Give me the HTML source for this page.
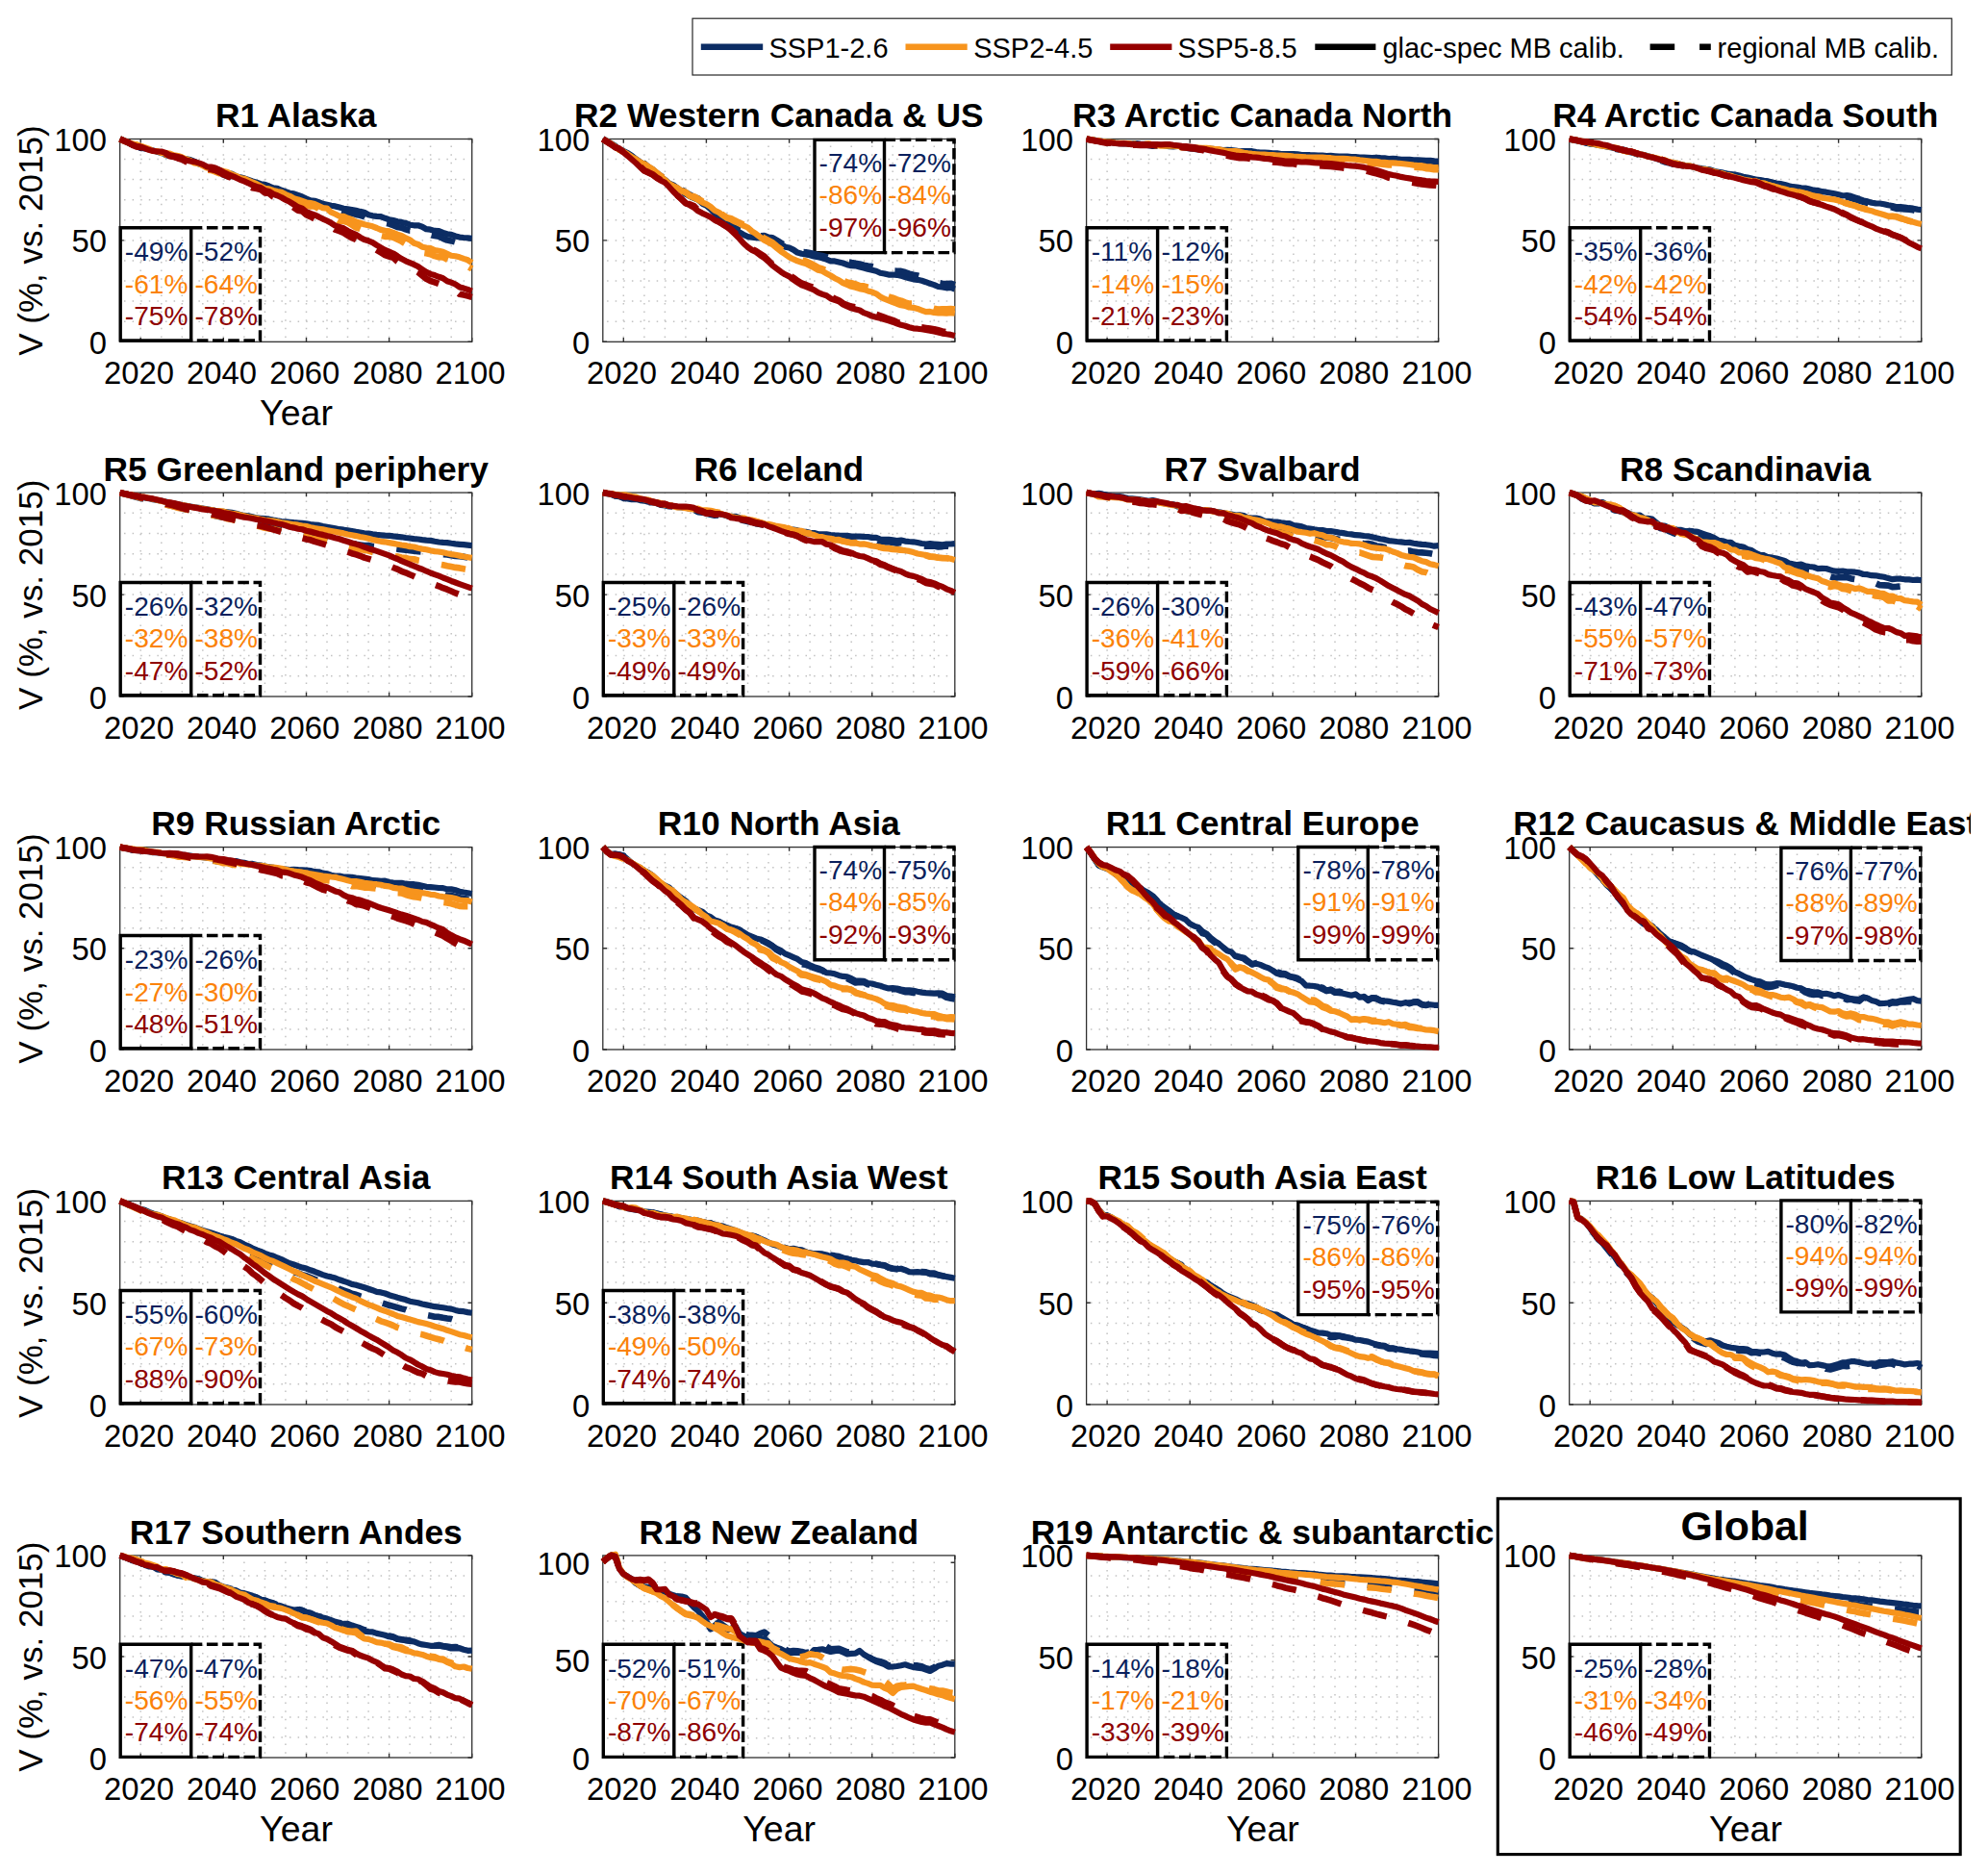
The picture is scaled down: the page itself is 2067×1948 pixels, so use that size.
<!DOCTYPE html>
<html lang="en"><head><meta charset="utf-8"><title>Regional glacier volume projections</title>
<style>html,body{margin:0;padding:0;background:#fff}body{width:2067px;height:1948px;overflow:hidden}svg{display:block}</style>
</head><body>
<svg width="2067" height="1948" viewBox="0 0 2067 1948" font-family='"Liberation Sans", Arial, Helvetica, sans-serif'>
<rect x="0" y="0" width="2067" height="1948" fill="#fff"/>
<defs><clipPath id="tclip"><rect x="0" y="0" width="2049" height="1948"/></clipPath></defs>
<g>
<path d="M146.2 350.9V144.5M167.8 350.9V144.5M189.3 350.9V144.5M210.8 350.9V144.5M232.3 350.9V144.5M253.9 350.9V144.5M275.4 350.9V144.5M296.9 350.9V144.5M318.5 350.9V144.5M340 350.9V144.5M361.5 350.9V144.5M383.1 350.9V144.5M404.6 350.9V144.5M426.1 350.9V144.5M447.6 350.9V144.5M469.2 350.9V144.5M129 334.2H490.7M129 313.1H490.7M129 292H490.7M129 270.9H490.7M129 249.9H490.7M129 228.8H490.7M129 207.7H490.7M129 186.6H490.7M129 165.6H490.7" fill="none" stroke="#9a9a9a" stroke-width="1.5" stroke-dasharray="1.5 7.1" opacity="0.6"/>
<rect x="124.7" y="144.5" width="366" height="210.8" fill="none" stroke="#303030" stroke-width="1.3"/>
<path d="M146.2 355.2v-4.2M146.2 144.5v4.2M232.3 355.2v-4.2M232.3 144.5v4.2M318.5 355.2v-4.2M318.5 144.5v4.2M404.6 355.2v-4.2M404.6 144.5v4.2M490.7 355.2v-4.2M490.7 144.5v4.2M124.7 355.2h4.2M490.7 355.2h-4.2M124.7 249.9h4.2M490.7 249.9h-4.2M124.7 144.5h4.2M490.7 144.5h-4.2" fill="none" stroke="#303030" stroke-width="1.4"/>
<g font-size="32.8" fill="#000">
<text x="144.5" y="398.9" text-anchor="middle">2020</text>
<text x="230.6" y="398.9" text-anchor="middle">2040</text>
<text x="316.8" y="398.9" text-anchor="middle">2060</text>
<text x="402.9" y="398.9" text-anchor="middle">2080</text>
<text x="489" y="398.9" text-anchor="middle">2100</text>
<text x="111.1" y="367.8" text-anchor="end">0</text>
<text x="111.1" y="262.4" text-anchor="end">50</text>
<text x="111.1" y="157" text-anchor="end">100</text>
</g>
<text x="307.7" y="132.3" text-anchor="middle" font-weight="bold" font-size="35.35" clip-path="url(#tclip)">R1 Alaska</text>
<path d="M198.7 236.8H270.5V353.9H198.7" fill="none" stroke="#000" stroke-width="3.4" stroke-dasharray="11.6 4.6"/>
<path d="M198.7 353.9V236.8H125.2V353.9H200.4" fill="none" stroke="#000" stroke-width="3.4" stroke-linejoin="miter"/>
<g font-size="28.1">
<text x="129.8" y="271.4" fill="#0a1f5c">-49%</text>
<text x="202.5" y="271.4" fill="#0a1f5c">-52%</text>
<text x="129.8" y="304.7" fill="#fb8208">-61%</text>
<text x="202.5" y="304.7" fill="#fb8208">-64%</text>
<text x="129.8" y="338" fill="#8e0000">-75%</text>
<text x="202.5" y="338" fill="#8e0000">-78%</text>
</g>
<path d="M124.7 144.5 L129 146.2 L133.3 148.2 L137.6 149.9 L141.9 151.3 L146.2 153.5 L150.5 154.5 L154.8 155.3 L159.1 156.4 L163.5 157.7 L167.8 159 L172.1 160.2 L176.4 160.9 L180.7 162 L185 163.2 L189.3 164.4 L193.6 165.4 L197.9 166.1 L202.2 167.8 L206.5 170.3 L210.8 171.4 L215.1 174 L219.4 174.7 L223.7 175.1 L228 176.8 L232.3 179.6 L236.7 180.8 L241 180.7 L245.3 183.2 L249.6 184.4 L253.9 185.3 L258.2 186.9 L262.5 188.5 L266.8 189.8 L271.1 191.3 L275.4 191.8 L279.7 193.5 L284 195.4 L288.3 195.8 L292.6 197.8 L296.9 199.3 L301.2 200.7 L305.5 201.3 L309.9 202.9 L314.2 204.5 L318.5 206.5 L322.8 208.3 L327.1 208.8 L331.4 210.2 L335.7 211.9 L340 212.7 L344.3 213.8 L348.6 214.4 L352.9 215.6 L357.2 216.8 L361.5 217.4 L365.8 218 L370.1 218.8 L374.4 219.9 L378.7 220.8 L383.1 223.3 L387.4 224.3 L391.7 224.8 L396 225.1 L400.3 226.8 L404.6 228.2 L408.9 229.1 L413.2 230.3 L417.5 230.9 L421.8 231.9 L426.1 233.7 L430.4 234.3 L434.7 234.3 L439 235.7 L443.3 238.2 L447.6 238.7 L451.9 239.9 L456.3 240.1 L460.6 241.9 L464.9 243.3 L469.2 243.8 L473.5 245.5 L477.8 246.6 L482.1 247 L486.4 247.3 L490.7 247.8" fill="none" stroke="#0c2d64" stroke-width="6.2" stroke-linejoin="round"/>
<path d="M124.7 144.5 L129 146.3 L133.3 148.4 L137.6 150.2 L141.9 151.4 L146.2 153.8 L150.5 154.7 L154.8 155.5 L159.1 156.7 L163.5 158 L167.8 159.5 L172.1 160.9 L176.4 161.6 L180.7 162.7 L185 164 L189.3 165.1 L193.6 166.4 L197.9 167.6 L202.2 169 L206.5 171.2 L210.8 172.2 L215.1 175.3 L219.4 175.9 L223.7 176.2 L228 178.3 L232.3 181.5 L236.7 183.2 L241 183.4 L245.3 185.8 L249.6 186.8 L253.9 187.7 L258.2 189.8 L262.5 191.8 L266.8 192.8 L271.1 194.1 L275.4 195.3 L279.7 197.4 L284 198.7 L288.3 198.4 L292.6 200.5 L296.9 201.2 L301.2 202.8 L305.5 203.4 L309.9 205.4 L314.2 206.9 L318.5 209.7 L322.8 211.1 L327.1 211.7 L331.4 212.9 L335.7 215 L340 216 L344.3 217.1 L348.6 217.5 L352.9 219.6 L357.2 220.8 L361.5 220.9 L365.8 221.8 L370.1 222.9 L374.4 223.8 L378.7 225.2 L383.1 227.8 L387.4 229.2 L391.7 230.6 L396 230.9 L400.3 231.8 L404.6 232.6 L408.9 234.2 L413.2 236 L417.5 236.7 L421.8 238.3 L426.1 239.7 L430.4 239.8 L434.7 239.9 L439 241.2 L443.3 244.2 L447.6 244 L451.9 245.1 L456.3 245.8 L460.6 247.9 L464.9 249.6 L469.2 250.4 L473.5 251.6 L477.8 252.9 L482.1 252.7 L486.4 253 L490.7 254.1" fill="none" stroke="#0c2d64" stroke-width="6.6" stroke-dasharray="25.5 23.5" stroke-linejoin="round"/>
<path d="M124.7 144.5 L129 146.3 L133.3 148 L137.6 149.6 L141.9 150.2 L146.2 152 L150.5 153.3 L154.8 154.7 L159.1 156.9 L163.5 157.1 L167.8 158.8 L172.1 159.2 L176.4 159.5 L180.7 161.3 L185 162 L189.3 163.5 L193.6 165.5 L197.9 167 L202.2 169.5 L206.5 170.1 L210.8 172.3 L215.1 174.4 L219.4 174.9 L223.7 175.3 L228 177.1 L232.3 177.9 L236.7 179.1 L241 181.2 L245.3 182.8 L249.6 185.1 L253.9 185.7 L258.2 187.5 L262.5 189.5 L266.8 191.2 L271.1 193.4 L275.4 195.7 L279.7 196.3 L284 197.9 L288.3 199 L292.6 199.8 L296.9 202.1 L301.2 203.8 L305.5 206.3 L309.9 207.4 L314.2 209 L318.5 210.5 L322.8 211.1 L327.1 212.1 L331.4 214.1 L335.7 216.1 L340 216.6 L344.3 220.7 L348.6 222.5 L352.9 224.7 L357.2 224.8 L361.5 226.8 L365.8 228.3 L370.1 230.5 L374.4 231.8 L378.7 233.3 L383.1 234.3 L387.4 235.3 L391.7 237 L396 238.9 L400.3 239.8 L404.6 240.4 L408.9 241.9 L413.2 243.6 L417.5 244.9 L421.8 247.4 L426.1 249.3 L430.4 252.7 L434.7 254 L439 256.7 L443.3 257.5 L447.6 258.1 L451.9 260.1 L456.3 260.8 L460.6 261.7 L464.9 263.7 L469.2 265.7 L473.5 266.3 L477.8 267.3 L482.1 268.9 L486.4 270.3 L490.7 273.1" fill="none" stroke="#f7941d" stroke-width="6.2" stroke-linejoin="round"/>
<path d="M124.7 144.5 L129 146.4 L133.3 148.2 L137.6 149.8 L141.9 150.5 L146.2 152.2 L150.5 153.6 L154.8 155.3 L159.1 157.5 L163.5 157.6 L167.8 159.7 L172.1 160.4 L176.4 160.9 L180.7 162.7 L185 163.5 L189.3 165.1 L193.6 166.7 L197.9 168.2 L202.2 171.1 L206.5 171.9 L210.8 174.5 L215.1 176.6 L219.4 176.9 L223.7 178.4 L228 180.2 L232.3 180.2 L236.7 181.1 L241 183.6 L245.3 184.8 L249.6 187.4 L253.9 188.2 L258.2 189.9 L262.5 191.7 L266.8 193.5 L271.1 196.2 L275.4 198.2 L279.7 199.4 L284 201.2 L288.3 202.7 L292.6 203.7 L296.9 205.5 L301.2 207.3 L305.5 209.5 L309.9 210.7 L314.2 212.3 L318.5 213.4 L322.8 214.5 L327.1 214.5 L331.4 216.9 L335.7 220 L340 221 L344.3 224.8 L348.6 227.3 L352.9 229.8 L357.2 229.8 L361.5 231.2 L365.8 233.7 L370.1 236.6 L374.4 237.7 L378.7 239.6 L383.1 240.1 L387.4 241.3 L391.7 242.7 L396 244.9 L400.3 245.9 L404.6 246 L408.9 246.8 L413.2 248.8 L417.5 250.9 L421.8 253.5 L426.1 255.3 L430.4 258.5 L434.7 259.2 L439 262.7 L443.3 263.3 L447.6 264.3 L451.9 266.1 L456.3 267.2 L460.6 267.4 L464.9 269.6 L469.2 271.8 L473.5 272.8 L477.8 273.9 L482.1 275.3 L486.4 276.9 L490.7 279.4" fill="none" stroke="#f7941d" stroke-width="6.6" stroke-dasharray="25.5 23.5" stroke-linejoin="round"/>
<path d="M124.7 144.5 L129 146.4 L133.3 148.1 L137.6 150.4 L141.9 152.1 L146.2 152.6 L150.5 154.2 L154.8 155.8 L159.1 156.9 L163.5 157.5 L167.8 157.5 L172.1 158.9 L176.4 161.3 L180.7 162 L185 163 L189.3 164.1 L193.6 166.6 L197.9 167.5 L202.2 168.1 L206.5 169.4 L210.8 170.9 L215.1 173.3 L219.4 173.5 L223.7 174.5 L228 176.5 L232.3 179 L236.7 181 L241 182.8 L245.3 184.7 L249.6 186.8 L253.9 188.4 L258.2 190.3 L262.5 192.4 L266.8 194 L271.1 195 L275.4 197.9 L279.7 198.9 L284 201.7 L288.3 203.2 L292.6 205.2 L296.9 207.7 L301.2 209.8 L305.5 212.5 L309.9 215.3 L314.2 216.8 L318.5 220.1 L322.8 221.9 L327.1 223.4 L331.4 225.4 L335.7 227.6 L340 229.5 L344.3 231.8 L348.6 234.6 L352.9 236 L357.2 237.3 L361.5 240 L365.8 242 L370.1 243.9 L374.4 246.7 L378.7 249 L383.1 250.3 L387.4 252.1 L391.7 254.9 L396 257.4 L400.3 259.9 L404.6 261.7 L408.9 263.5 L413.2 266.2 L417.5 269.1 L421.8 271.3 L426.1 273.1 L430.4 274.9 L434.7 277.1 L439 280 L443.3 282.8 L447.6 284.9 L451.9 286.1 L456.3 287.8 L460.6 289.3 L464.9 292.2 L469.2 293.6 L473.5 295.5 L477.8 298.4 L482.1 299.6 L486.4 301 L490.7 302.6" fill="none" stroke="#960000" stroke-width="6.2" stroke-linejoin="round"/>
<path d="M124.7 144.5 L129 146.4 L133.3 148.2 L137.6 150.6 L141.9 152.4 L146.2 153 L150.5 154.7 L154.8 156.3 L159.1 157.4 L163.5 158.1 L167.8 158.2 L172.1 159.3 L176.4 162.2 L180.7 162.9 L185 164.5 L189.3 165.7 L193.6 168.1 L197.9 169.1 L202.2 170 L206.5 171.9 L210.8 173.4 L215.1 175.4 L219.4 176 L223.7 177 L228 179 L232.3 181.5 L236.7 183.3 L241 184.9 L245.3 186.9 L249.6 188.7 L253.9 191.3 L258.2 193.2 L262.5 195.2 L266.8 196 L271.1 197 L275.4 200.5 L279.7 200.9 L284 204.4 L288.3 205.8 L292.6 207.8 L296.9 211.2 L301.2 212.9 L305.5 215.7 L309.9 218.7 L314.2 219.5 L318.5 223.2 L322.8 225.2 L327.1 227.5 L331.4 229.9 L335.7 232 L340 234.1 L344.3 235.8 L348.6 238.7 L352.9 240.2 L357.2 241.9 L361.5 244.6 L365.8 247.2 L370.1 248.8 L374.4 251.1 L378.7 254.2 L383.1 256.1 L387.4 257.5 L391.7 260 L396 262.5 L400.3 265.1 L404.6 266.6 L408.9 267.9 L413.2 271.7 L417.5 274.5 L421.8 277.3 L426.1 278.7 L430.4 280.5 L434.7 283 L439 286.4 L443.3 289.8 L447.6 292 L451.9 293.3 L456.3 294.9 L460.6 296.7 L464.9 299.3 L469.2 300.2 L473.5 302.1 L477.8 305.8 L482.1 306.6 L486.4 307.6 L490.7 308.9" fill="none" stroke="#960000" stroke-width="6.6" stroke-dasharray="25.5 23.5" stroke-linejoin="round"/>
<text transform="translate(44 250.1) rotate(-90)" text-anchor="middle" font-size="35">V (%, vs. 2015)</text>
<text x="308" y="442.2" text-anchor="middle" font-size="37.5">Year</text>
</g>
<g>
<path d="M648.3 350.9V144.5M669.9 350.9V144.5M691.4 350.9V144.5M712.9 350.9V144.5M734.4 350.9V144.5M756 350.9V144.5M777.5 350.9V144.5M799 350.9V144.5M820.6 350.9V144.5M842.1 350.9V144.5M863.6 350.9V144.5M885.2 350.9V144.5M906.7 350.9V144.5M928.2 350.9V144.5M949.7 350.9V144.5M971.3 350.9V144.5M631.1 334.2H992.8M631.1 313.1H992.8M631.1 292H992.8M631.1 270.9H992.8M631.1 249.9H992.8M631.1 228.8H992.8M631.1 207.7H992.8M631.1 186.6H992.8M631.1 165.6H992.8" fill="none" stroke="#9a9a9a" stroke-width="1.5" stroke-dasharray="1.5 7.1" opacity="0.6"/>
<rect x="626.8" y="144.5" width="366" height="210.8" fill="none" stroke="#303030" stroke-width="1.3"/>
<path d="M648.3 355.2v-4.2M648.3 144.5v4.2M734.4 355.2v-4.2M734.4 144.5v4.2M820.6 355.2v-4.2M820.6 144.5v4.2M906.7 355.2v-4.2M906.7 144.5v4.2M992.8 355.2v-4.2M992.8 144.5v4.2M626.8 355.2h4.2M992.8 355.2h-4.2M626.8 249.9h4.2M992.8 249.9h-4.2M626.8 144.5h4.2M992.8 144.5h-4.2" fill="none" stroke="#303030" stroke-width="1.4"/>
<g font-size="32.8" fill="#000">
<text x="646.6" y="398.9" text-anchor="middle">2020</text>
<text x="732.7" y="398.9" text-anchor="middle">2040</text>
<text x="818.9" y="398.9" text-anchor="middle">2060</text>
<text x="905" y="398.9" text-anchor="middle">2080</text>
<text x="991.1" y="398.9" text-anchor="middle">2100</text>
<text x="613.2" y="367.8" text-anchor="end">0</text>
<text x="613.2" y="262.4" text-anchor="end">50</text>
<text x="613.2" y="157" text-anchor="end">100</text>
</g>
<text x="809.8" y="132.3" text-anchor="middle" font-weight="bold" font-size="35.35" clip-path="url(#tclip)">R2 Western Canada &amp; US</text>
<path d="M919.5 145.4H991.9V262.6H919.5" fill="none" stroke="#000" stroke-width="3.4" stroke-dasharray="11.6 4.6"/>
<path d="M919.5 262.6V145.4H847V262.6H921.2" fill="none" stroke="#000" stroke-width="3.4" stroke-linejoin="miter"/>
<g font-size="28.1">
<text x="851.6" y="179" fill="#0a1f5c">-74%</text>
<text x="923.3" y="179" fill="#0a1f5c">-72%</text>
<text x="851.6" y="212.3" fill="#fb8208">-86%</text>
<text x="923.3" y="212.3" fill="#fb8208">-84%</text>
<text x="851.6" y="245.6" fill="#8e0000">-97%</text>
<text x="923.3" y="245.6" fill="#8e0000">-96%</text>
</g>
<path d="M626.8 144.5 L631.1 147 L635.4 149.5 L639.7 152.1 L644 155.7 L648.3 157 L652.6 159 L656.9 161.8 L661.2 165.3 L665.6 168.6 L669.9 170.7 L674.2 174.4 L678.5 177.1 L682.8 180.5 L687.1 183.8 L691.4 186.9 L695.7 190.6 L700 192.3 L704.3 195.4 L708.6 198.5 L712.9 201.8 L717.2 203.9 L721.5 205.8 L725.8 207.6 L730.1 211.6 L734.4 213.6 L738.8 217.3 L743.1 221.9 L747.4 226.5 L751.7 229.5 L756 232.2 L760.3 235.9 L764.6 238.7 L768.9 241.4 L773.2 243.9 L777.5 246.1 L781.8 246.6 L786.1 247.1 L790.4 247.4 L794.7 247.4 L799 248.8 L803.3 249.3 L807.6 251.4 L812 253.9 L816.3 256.7 L820.6 257.5 L824.9 259.6 L829.2 262.6 L833.5 263.8 L837.8 264.5 L842.1 265.2 L846.4 266.5 L850.7 267.3 L855 268.2 L859.3 269.6 L863.6 271.4 L867.9 271.4 L872.2 272.4 L876.5 273.5 L880.8 275.2 L885.2 276.2 L889.5 276.3 L893.8 277.4 L898.1 278.5 L902.4 279.8 L906.7 280.7 L911 281.7 L915.3 283.7 L919.6 284.5 L923.9 285.6 L928.2 285.5 L932.5 285.8 L936.8 286.6 L941.1 288.1 L945.4 289.2 L949.7 290.3 L954 290.8 L958.4 291.8 L962.7 293.2 L967 294.8 L971.3 296.1 L975.6 298 L979.9 298.5 L984.2 299.3 L988.5 298.9 L992.8 300.5" fill="none" stroke="#0c2d64" stroke-width="6.2" stroke-linejoin="round"/>
<path d="M626.8 144.5 L631.1 146.9 L635.4 149.5 L639.7 151.9 L644 155.6 L648.3 156.9 L652.6 158.8 L656.9 161.5 L661.2 164.8 L665.6 167.9 L669.9 170 L674.2 173.8 L678.5 176.1 L682.8 179.9 L687.1 183 L691.4 186 L695.7 189.2 L700 190.5 L704.3 193.6 L708.6 197 L712.9 200.2 L717.2 202.5 L721.5 204.9 L725.8 206.4 L730.1 210.5 L734.4 212.4 L738.8 215.3 L743.1 219.7 L747.4 224.3 L751.7 227.8 L756 230.9 L760.3 234.9 L764.6 237.1 L768.9 239.6 L773.2 242.1 L777.5 244.7 L781.8 245.1 L786.1 245.3 L790.4 245.2 L794.7 245 L799 246.7 L803.3 247.3 L807.6 249.8 L812 252.6 L816.3 255.2 L820.6 255.6 L824.9 256.7 L829.2 260.3 L833.5 262.1 L837.8 262.2 L842.1 262.9 L846.4 263.9 L850.7 265.3 L855 266 L859.3 267.1 L863.6 268.9 L867.9 267.9 L872.2 268.3 L876.5 269.9 L880.8 272 L885.2 273 L889.5 273.8 L893.8 274.4 L898.1 275.7 L902.4 276.6 L906.7 277.1 L911 278.2 L915.3 280.1 L919.6 280.4 L923.9 281.7 L928.2 281.5 L932.5 281.7 L936.8 281.9 L941.1 283 L945.4 284.6 L949.7 285.8 L954 286.5 L958.4 287.7 L962.7 289.6 L967 291.1 L971.3 292.7 L975.6 294.1 L979.9 294.7 L984.2 295.1 L988.5 294.7 L992.8 296.2" fill="none" stroke="#0c2d64" stroke-width="6.6" stroke-dasharray="25.5 23.5" stroke-linejoin="round"/>
<path d="M626.8 144.5 L631.1 147.3 L635.4 149.7 L639.7 152.8 L644 155.7 L648.3 157.8 L652.6 160.2 L656.9 163.1 L661.2 165.5 L665.6 168.5 L669.9 171 L674.2 173.9 L678.5 177.2 L682.8 180.5 L687.1 183.8 L691.4 187 L695.7 190.9 L700 193.2 L704.3 195.2 L708.6 198.7 L712.9 200.4 L717.2 203.6 L721.5 205.6 L725.8 207.8 L730.1 210.3 L734.4 212.1 L738.8 214.9 L743.1 218.8 L747.4 220.8 L751.7 224 L756 226.9 L760.3 228.4 L764.6 230.7 L768.9 232.5 L773.2 234.6 L777.5 236.5 L781.8 240.4 L786.1 243.2 L790.4 246.5 L794.7 249.8 L799 251.9 L803.3 254.2 L807.6 257.9 L812 261.4 L816.3 264.2 L820.6 267.2 L824.9 269.4 L829.2 271.3 L833.5 272.7 L837.8 274 L842.1 276.1 L846.4 278.2 L850.7 280.7 L855 281.8 L859.3 284.2 L863.6 286.5 L867.9 289.2 L872.2 291.2 L876.5 294.1 L880.8 296 L885.2 297.8 L889.5 298.7 L893.8 300.1 L898.1 300.9 L902.4 302.4 L906.7 303.6 L911 305.3 L915.3 308.4 L919.6 310.7 L923.9 312.4 L928.2 314 L932.5 315.7 L936.8 317.2 L941.1 317.9 L945.4 319.5 L949.7 319.8 L954 320.9 L958.4 322.6 L962.7 324.2 L967 323.9 L971.3 324.9 L975.6 325.3 L979.9 325.4 L984.2 325.6 L988.5 325.1 L992.8 325.7" fill="none" stroke="#f7941d" stroke-width="6.2" stroke-linejoin="round"/>
<path d="M626.8 144.5 L631.1 147.2 L635.4 149.6 L639.7 152.6 L644 155.5 L648.3 157.6 L652.6 159.9 L656.9 162.9 L661.2 165.2 L665.6 167.9 L669.9 170.5 L674.2 173.4 L678.5 176.1 L682.8 179.5 L687.1 183 L691.4 186.2 L695.7 190.1 L700 192.4 L704.3 194.3 L708.6 198.1 L712.9 199.8 L717.2 203.4 L721.5 204.2 L725.8 206.7 L730.1 209.2 L734.4 211.5 L738.8 214.2 L743.1 218.3 L747.4 220.1 L751.7 223.4 L756 226.2 L760.3 227.3 L764.6 229.4 L768.9 231.6 L773.2 233.5 L777.5 235.1 L781.8 239.1 L786.1 241.9 L790.4 244.6 L794.7 247.8 L799 250 L803.3 252.2 L807.6 255.8 L812 259.2 L816.3 261.4 L820.6 265.1 L824.9 267.5 L829.2 269.1 L833.5 270.4 L837.8 271.4 L842.1 273.4 L846.4 275.7 L850.7 278.2 L855 279.4 L859.3 281.6 L863.6 283.4 L867.9 286.5 L872.2 288.9 L876.5 291.8 L880.8 293.4 L885.2 294.2 L889.5 295.4 L893.8 297.1 L898.1 297.4 L902.4 298.7 L906.7 299.9 L911 301.5 L915.3 304.6 L919.6 306.9 L923.9 308.5 L928.2 309.6 L932.5 311.4 L936.8 312.6 L941.1 314.4 L945.4 315.6 L949.7 315.6 L954 316.3 L958.4 318.1 L962.7 319.6 L967 319.3 L971.3 320.6 L975.6 321.6 L979.9 321.3 L984.2 321.2 L988.5 321 L992.8 321.5" fill="none" stroke="#f7941d" stroke-width="6.6" stroke-dasharray="25.5 23.5" stroke-linejoin="round"/>
<path d="M626.8 144.5 L631.1 147.4 L635.4 150.2 L639.7 153.2 L644 154.7 L648.3 158.4 L652.6 162 L656.9 165.8 L661.2 169.5 L665.6 173.7 L669.9 177.6 L674.2 179.7 L678.5 181.7 L682.8 185 L687.1 187.7 L691.4 189.8 L695.7 194.2 L700 199 L704.3 203.2 L708.6 207.2 L712.9 211.3 L717.2 213.2 L721.5 215.7 L725.8 219.3 L730.1 221.6 L734.4 223.5 L738.8 225.8 L743.1 228.8 L747.4 230.6 L751.7 233.5 L756 236 L760.3 239.7 L764.6 243.8 L768.9 248.1 L773.2 253 L777.5 256.9 L781.8 259.9 L786.1 262 L790.4 265.3 L794.7 268.1 L799 271.8 L803.3 276.1 L807.6 279.3 L812 282.6 L816.3 285.3 L820.6 287.4 L824.9 290.7 L829.2 293.6 L833.5 296.3 L837.8 297.9 L842.1 299.7 L846.4 301.4 L850.7 304.1 L855 305.9 L859.3 307.3 L863.6 310.3 L867.9 311.9 L872.2 313.3 L876.5 316.4 L880.8 318.4 L885.2 320.3 L889.5 321.4 L893.8 322.5 L898.1 325.1 L902.4 326.6 L906.7 328.6 L911 329.7 L915.3 330.8 L919.6 332.1 L923.9 333.4 L928.2 334.7 L932.5 336.3 L936.8 337.8 L941.1 338.8 L945.4 340.2 L949.7 341.3 L954 341.7 L958.4 342.3 L962.7 342.9 L967 343.6 L971.3 344.4 L975.6 345.4 L979.9 346.6 L984.2 347.3 L988.5 347.9 L992.8 348.9" fill="none" stroke="#960000" stroke-width="6.2" stroke-linejoin="round"/>
<path d="M626.8 144.5 L631.1 147.4 L635.4 150.1 L639.7 153.1 L644 154.7 L648.3 158.3 L652.6 161.9 L656.9 165.5 L661.2 169.2 L665.6 173.3 L669.9 177.2 L674.2 179.1 L678.5 181.2 L682.8 184.5 L687.1 187 L691.4 189.1 L695.7 194.1 L700 198.8 L704.3 203.2 L708.6 206.8 L712.9 211.1 L717.2 212.4 L721.5 214.1 L725.8 218.6 L730.1 220.6 L734.4 223 L738.8 225.2 L743.1 228.6 L747.4 230.5 L751.7 232.8 L756 235.7 L760.3 238.4 L764.6 242.4 L768.9 246.8 L773.2 251.4 L777.5 255.1 L781.8 258.8 L786.1 261 L790.4 263.7 L794.7 266.5 L799 270.8 L803.3 275.3 L807.6 278.6 L812 281.9 L816.3 284.8 L820.6 286.3 L824.9 288.6 L829.2 291.8 L833.5 294.5 L837.8 295.9 L842.1 297.8 L846.4 298.8 L850.7 301.5 L855 304.2 L859.3 306.2 L863.6 308.7 L867.9 310.4 L872.2 312.3 L876.5 315.3 L880.8 317.2 L885.2 318.6 L889.5 319.2 L893.8 320.8 L898.1 322.8 L902.4 324.4 L906.7 326.1 L911 326.9 L915.3 328.4 L919.6 329.9 L923.9 331.5 L928.2 332.8 L932.5 334.8 L936.8 336.1 L941.1 336.8 L945.4 338.4 L949.7 339.4 L954 339.7 L958.4 340.3 L962.7 340.9 L967 341.5 L971.3 342.2 L975.6 343.3 L979.9 344.4 L984.2 345.1 L988.5 345.7 L992.8 346.8" fill="none" stroke="#960000" stroke-width="6.6" stroke-dasharray="25.5 23.5" stroke-linejoin="round"/>
</g>
<g>
<path d="M1151.1 350.9V144.5M1172.7 350.9V144.5M1194.2 350.9V144.5M1215.7 350.9V144.5M1237.2 350.9V144.5M1258.8 350.9V144.5M1280.3 350.9V144.5M1301.8 350.9V144.5M1323.4 350.9V144.5M1344.9 350.9V144.5M1366.4 350.9V144.5M1388 350.9V144.5M1409.5 350.9V144.5M1431 350.9V144.5M1452.5 350.9V144.5M1474.1 350.9V144.5M1133.9 334.2H1495.6M1133.9 313.1H1495.6M1133.9 292H1495.6M1133.9 270.9H1495.6M1133.9 249.9H1495.6M1133.9 228.8H1495.6M1133.9 207.7H1495.6M1133.9 186.6H1495.6M1133.9 165.6H1495.6" fill="none" stroke="#9a9a9a" stroke-width="1.5" stroke-dasharray="1.5 7.1" opacity="0.6"/>
<rect x="1129.6" y="144.5" width="366" height="210.8" fill="none" stroke="#303030" stroke-width="1.3"/>
<path d="M1151.1 355.2v-4.2M1151.1 144.5v4.2M1237.2 355.2v-4.2M1237.2 144.5v4.2M1323.4 355.2v-4.2M1323.4 144.5v4.2M1409.5 355.2v-4.2M1409.5 144.5v4.2M1495.6 355.2v-4.2M1495.6 144.5v4.2M1129.6 355.2h4.2M1495.6 355.2h-4.2M1129.6 249.9h4.2M1495.6 249.9h-4.2M1129.6 144.5h4.2M1495.6 144.5h-4.2" fill="none" stroke="#303030" stroke-width="1.4"/>
<g font-size="32.8" fill="#000">
<text x="1149.4" y="398.9" text-anchor="middle">2020</text>
<text x="1235.5" y="398.9" text-anchor="middle">2040</text>
<text x="1321.7" y="398.9" text-anchor="middle">2060</text>
<text x="1407.8" y="398.9" text-anchor="middle">2080</text>
<text x="1493.9" y="398.9" text-anchor="middle">2100</text>
<text x="1116" y="367.8" text-anchor="end">0</text>
<text x="1116" y="262.4" text-anchor="end">50</text>
<text x="1116" y="157" text-anchor="end">100</text>
</g>
<text x="1312.6" y="132.3" text-anchor="middle" font-weight="bold" font-size="35.35" clip-path="url(#tclip)">R3 Arctic Canada North</text>
<path d="M1203.6 236.8H1275.4V353.9H1203.6" fill="none" stroke="#000" stroke-width="3.4" stroke-dasharray="11.6 4.6"/>
<path d="M1203.6 353.9V236.8H1130.1V353.9H1205.3" fill="none" stroke="#000" stroke-width="3.4" stroke-linejoin="miter"/>
<g font-size="28.1">
<text x="1134.7" y="271.4" fill="#0a1f5c">-11%</text>
<text x="1207.4" y="271.4" fill="#0a1f5c">-12%</text>
<text x="1134.7" y="304.7" fill="#fb8208">-14%</text>
<text x="1207.4" y="304.7" fill="#fb8208">-15%</text>
<text x="1134.7" y="338" fill="#8e0000">-21%</text>
<text x="1207.4" y="338" fill="#8e0000">-23%</text>
</g>
<path d="M1129.6 144.5 L1133.9 145.2 L1138.2 145.9 L1142.5 146.7 L1146.8 147.1 L1151.1 147.9 L1155.4 148.2 L1159.7 148.7 L1164 149.1 L1168.4 149.3 L1172.7 149.3 L1177 149.4 L1181.3 149.2 L1185.6 149.7 L1189.9 149.8 L1194.2 150.2 L1198.5 150.8 L1202.8 150.8 L1207.1 150.8 L1211.4 151.4 L1215.7 152.1 L1220 152.3 L1224.3 151.9 L1228.6 152 L1232.9 152.6 L1237.2 153.4 L1241.6 153.8 L1245.9 154.1 L1250.2 154.1 L1254.5 154.3 L1258.8 154.7 L1263.1 155 L1267.4 155.5 L1271.7 156.1 L1276 155.9 L1280.3 156.2 L1284.6 156.6 L1288.9 157.3 L1293.2 157.2 L1297.5 157.1 L1301.8 157.2 L1306.1 158.1 L1310.4 158.5 L1314.8 158.6 L1319.1 158.9 L1323.4 159.4 L1327.7 159.4 L1332 160.1 L1336.3 160.1 L1340.6 160.1 L1344.9 160.2 L1349.2 160.4 L1353.5 161 L1357.8 161 L1362.1 161.2 L1366.4 161.3 L1370.7 161.5 L1375 161.6 L1379.3 162 L1383.6 161.9 L1388 162.3 L1392.3 162.6 L1396.6 162.7 L1400.9 162.7 L1405.2 163.1 L1409.5 163.2 L1413.8 163.5 L1418.1 163.7 L1422.4 163.9 L1426.7 164.2 L1431 163.8 L1435.3 164.2 L1439.6 164.4 L1443.9 165 L1448.2 164.9 L1452.5 165.2 L1456.8 165.9 L1461.2 165.8 L1465.5 165.8 L1469.8 166.3 L1474.1 166.3 L1478.4 166.6 L1482.7 166.9 L1487 166.8 L1491.3 167.4 L1495.6 167.7" fill="none" stroke="#0c2d64" stroke-width="6.2" stroke-linejoin="round"/>
<path d="M1129.6 144.5 L1133.9 145.2 L1138.2 146 L1142.5 146.8 L1146.8 147.2 L1151.1 148 L1155.4 148.2 L1159.7 148.9 L1164 149.4 L1168.4 149.6 L1172.7 149.7 L1177 149.9 L1181.3 149.7 L1185.6 150.4 L1189.9 150.3 L1194.2 150.9 L1198.5 151.7 L1202.8 151.4 L1207.1 151.3 L1211.4 151.8 L1215.7 152.6 L1220 152.9 L1224.3 152.7 L1228.6 152.8 L1232.9 153.4 L1237.2 154.3 L1241.6 154.8 L1245.9 155.3 L1250.2 155.2 L1254.5 155.3 L1258.8 155.4 L1263.1 155.9 L1267.4 156.5 L1271.7 157 L1276 156.8 L1280.3 157.2 L1284.6 157.7 L1288.9 158.4 L1293.2 158.1 L1297.5 157.9 L1301.8 158.2 L1306.1 159.2 L1310.4 159.7 L1314.8 160 L1319.1 160.2 L1323.4 160.5 L1327.7 160.3 L1332 160.9 L1336.3 161.1 L1340.6 160.9 L1344.9 161.4 L1349.2 161.5 L1353.5 162.3 L1357.8 162.2 L1362.1 162.6 L1366.4 162.7 L1370.7 162.8 L1375 163 L1379.3 163.5 L1383.6 163.2 L1388 163.7 L1392.3 164.5 L1396.6 164.7 L1400.9 164.6 L1405.2 164.9 L1409.5 164.9 L1413.8 165.3 L1418.1 165.5 L1422.4 165.8 L1426.7 166.1 L1431 165.8 L1435.3 166.1 L1439.6 166.4 L1443.9 167 L1448.2 167 L1452.5 167.2 L1456.8 167.8 L1461.2 167.6 L1465.5 167.8 L1469.8 168.3 L1474.1 168.3 L1478.4 168.6 L1482.7 169 L1487 168.9 L1491.3 169.5 L1495.6 169.8" fill="none" stroke="#0c2d64" stroke-width="6.6" stroke-dasharray="25.5 23.5" stroke-linejoin="round"/>
<path d="M1129.6 144.5 L1133.9 145.1 L1138.2 145.9 L1142.5 146.4 L1146.8 147.4 L1151.1 147.9 L1155.4 147.8 L1159.7 148.5 L1164 148.8 L1168.4 148.8 L1172.7 149.1 L1177 149.5 L1181.3 149.8 L1185.6 150 L1189.9 150 L1194.2 149.6 L1198.5 150.3 L1202.8 150.9 L1207.1 151.6 L1211.4 151.6 L1215.7 151.5 L1220 151.6 L1224.3 152 L1228.6 152.5 L1232.9 152.9 L1237.2 153.2 L1241.6 153.4 L1245.9 153.5 L1250.2 153.9 L1254.5 153.9 L1258.8 154.3 L1263.1 155 L1267.4 155.2 L1271.7 156.4 L1276 157 L1280.3 157.2 L1284.6 157.2 L1288.9 157.7 L1293.2 158.8 L1297.5 159.4 L1301.8 159.9 L1306.1 160.3 L1310.4 160.7 L1314.8 160.7 L1319.1 161 L1323.4 161.1 L1327.7 161.5 L1332 161.5 L1336.3 161.8 L1340.6 162.1 L1344.9 162.6 L1349.2 162.8 L1353.5 163 L1357.8 163.3 L1362.1 163.5 L1366.4 163.6 L1370.7 163.7 L1375 163.7 L1379.3 164.2 L1383.6 164.2 L1388 164.9 L1392.3 164.8 L1396.6 164.9 L1400.9 165.2 L1405.2 165.5 L1409.5 165.7 L1413.8 166.4 L1418.1 166.8 L1422.4 167.3 L1426.7 167.9 L1431 167.9 L1435.3 168.5 L1439.6 168.9 L1443.9 169.3 L1448.2 169.3 L1452.5 169.7 L1456.8 170 L1461.2 170.5 L1465.5 171 L1469.8 171.6 L1474.1 172 L1478.4 172.2 L1482.7 173 L1487 173.3 L1491.3 174.2 L1495.6 174" fill="none" stroke="#f7941d" stroke-width="6.2" stroke-linejoin="round"/>
<path d="M1129.6 144.5 L1133.9 145.2 L1138.2 146 L1142.5 146.5 L1146.8 147.5 L1151.1 148 L1155.4 148.1 L1159.7 148.8 L1164 149.1 L1168.4 149 L1172.7 149.3 L1177 149.6 L1181.3 150 L1185.6 150.3 L1189.9 150.1 L1194.2 149.8 L1198.5 150.4 L1202.8 151.2 L1207.1 152.1 L1211.4 152.3 L1215.7 152.2 L1220 152.5 L1224.3 152.7 L1228.6 153.2 L1232.9 153.3 L1237.2 153.6 L1241.6 154 L1245.9 154.3 L1250.2 154.7 L1254.5 154.6 L1258.8 154.9 L1263.1 155.6 L1267.4 155.9 L1271.7 157.2 L1276 157.6 L1280.3 157.9 L1284.6 157.9 L1288.9 158.6 L1293.2 159.8 L1297.5 160.6 L1301.8 161.2 L1306.1 161.3 L1310.4 161.9 L1314.8 161.6 L1319.1 161.8 L1323.4 162 L1327.7 162.5 L1332 162.4 L1336.3 162.8 L1340.6 163 L1344.9 163.6 L1349.2 163.8 L1353.5 163.9 L1357.8 164.4 L1362.1 164.7 L1366.4 164.8 L1370.7 165.1 L1375 165.1 L1379.3 165.7 L1383.6 165.7 L1388 166.4 L1392.3 166.5 L1396.6 166.4 L1400.9 166.8 L1405.2 167.4 L1409.5 167.7 L1413.8 168.5 L1418.1 169.1 L1422.4 169.6 L1426.7 169.9 L1431 169.9 L1435.3 170.5 L1439.6 171 L1443.9 171.4 L1448.2 171.4 L1452.5 171.4 L1456.8 171.9 L1461.2 172.4 L1465.5 173 L1469.8 173.8 L1474.1 174 L1478.4 174.1 L1482.7 175.1 L1487 175.4 L1491.3 176.3 L1495.6 176.1" fill="none" stroke="#f7941d" stroke-width="6.6" stroke-dasharray="25.5 23.5" stroke-linejoin="round"/>
<path d="M1129.6 144.5 L1133.9 145.3 L1138.2 146.2 L1142.5 147 L1146.8 147.8 L1151.1 148.5 L1155.4 148.4 L1159.7 149 L1164 149.3 L1168.4 149.2 L1172.7 149.6 L1177 150.1 L1181.3 150.1 L1185.6 150.2 L1189.9 150.2 L1194.2 150.2 L1198.5 150 L1202.8 150 L1207.1 150.4 L1211.4 150.2 L1215.7 150 L1220 150.7 L1224.3 151.3 L1228.6 151.9 L1232.9 152.2 L1237.2 152.6 L1241.6 153.1 L1245.9 154.1 L1250.2 154.6 L1254.5 155.4 L1258.8 156.4 L1263.1 157.3 L1267.4 158 L1271.7 158.8 L1276 159.8 L1280.3 160.7 L1284.6 161.6 L1288.9 162.1 L1293.2 162.2 L1297.5 162.7 L1301.8 163.4 L1306.1 163.7 L1310.4 164.2 L1314.8 164.9 L1319.1 165.1 L1323.4 165.9 L1327.7 166.3 L1332 166.8 L1336.3 167.5 L1340.6 167.7 L1344.9 167.7 L1349.2 168.1 L1353.5 168.5 L1357.8 168.4 L1362.1 168.7 L1366.4 169.2 L1370.7 169.4 L1375 169.7 L1379.3 169.8 L1383.6 170 L1388 170.6 L1392.3 171.1 L1396.6 171.5 L1400.9 172 L1405.2 172.4 L1409.5 172.6 L1413.8 173.2 L1418.1 173.9 L1422.4 174.9 L1426.7 176 L1431 177.1 L1435.3 178.3 L1439.6 179.6 L1443.9 181.1 L1448.2 182 L1452.5 182.8 L1456.8 183.9 L1461.2 184.7 L1465.5 185.4 L1469.8 186.1 L1474.1 186.7 L1478.4 187.4 L1482.7 188 L1487 188.4 L1491.3 188.5 L1495.6 188.8" fill="none" stroke="#960000" stroke-width="6.2" stroke-linejoin="round"/>
<path d="M1129.6 144.5 L1133.9 145.4 L1138.2 146.2 L1142.5 147.1 L1146.8 148 L1151.1 148.8 L1155.4 148.7 L1159.7 149.3 L1164 149.6 L1168.4 149.6 L1172.7 150 L1177 150.6 L1181.3 150.7 L1185.6 150.9 L1189.9 150.9 L1194.2 151 L1198.5 150.9 L1202.8 151.1 L1207.1 151.3 L1211.4 151.3 L1215.7 151.1 L1220 152 L1224.3 152.4 L1228.6 153.1 L1232.9 153.4 L1237.2 154.1 L1241.6 154.4 L1245.9 155.4 L1250.2 156 L1254.5 157.1 L1258.8 158 L1263.1 158.8 L1267.4 159.8 L1271.7 160.6 L1276 161.7 L1280.3 162.8 L1284.6 163.6 L1288.9 164.2 L1293.2 164.1 L1297.5 164.5 L1301.8 165.5 L1306.1 165.8 L1310.4 166.4 L1314.8 167 L1319.1 167.4 L1323.4 168.5 L1327.7 168.8 L1332 169.1 L1336.3 169.9 L1340.6 170.2 L1344.9 170.3 L1349.2 171.2 L1353.5 171.4 L1357.8 171.3 L1362.1 171.5 L1366.4 171.8 L1370.7 172 L1375 172.4 L1379.3 172.6 L1383.6 173 L1388 173.4 L1392.3 174 L1396.6 174.6 L1400.9 175.1 L1405.2 175.3 L1409.5 175.7 L1413.8 176.5 L1418.1 177.2 L1422.4 178.1 L1426.7 179.2 L1431 180.4 L1435.3 181.7 L1439.6 182.9 L1443.9 184.8 L1448.2 185.7 L1452.5 186.7 L1456.8 187.9 L1461.2 188.5 L1465.5 189.4 L1469.8 190 L1474.1 190.8 L1478.4 191.5 L1482.7 192 L1487 192.5 L1491.3 192.6 L1495.6 193" fill="none" stroke="#960000" stroke-width="6.6" stroke-dasharray="25.5 23.5" stroke-linejoin="round"/>
</g>
<g>
<path d="M1653.2 350.9V144.5M1674.8 350.9V144.5M1696.3 350.9V144.5M1717.8 350.9V144.5M1739.3 350.9V144.5M1760.9 350.9V144.5M1782.4 350.9V144.5M1803.9 350.9V144.5M1825.5 350.9V144.5M1847 350.9V144.5M1868.5 350.9V144.5M1890.1 350.9V144.5M1911.6 350.9V144.5M1933.1 350.9V144.5M1954.6 350.9V144.5M1976.2 350.9V144.5M1636 334.2H1997.7M1636 313.1H1997.7M1636 292H1997.7M1636 270.9H1997.7M1636 249.9H1997.7M1636 228.8H1997.7M1636 207.7H1997.7M1636 186.6H1997.7M1636 165.6H1997.7" fill="none" stroke="#9a9a9a" stroke-width="1.5" stroke-dasharray="1.5 7.1" opacity="0.6"/>
<rect x="1631.7" y="144.5" width="366" height="210.8" fill="none" stroke="#303030" stroke-width="1.3"/>
<path d="M1653.2 355.2v-4.2M1653.2 144.5v4.2M1739.3 355.2v-4.2M1739.3 144.5v4.2M1825.5 355.2v-4.2M1825.5 144.5v4.2M1911.6 355.2v-4.2M1911.6 144.5v4.2M1997.7 355.2v-4.2M1997.7 144.5v4.2M1631.7 355.2h4.2M1997.7 355.2h-4.2M1631.7 249.9h4.2M1997.7 249.9h-4.2M1631.7 144.5h4.2M1997.7 144.5h-4.2" fill="none" stroke="#303030" stroke-width="1.4"/>
<g font-size="32.8" fill="#000">
<text x="1651.5" y="398.9" text-anchor="middle">2020</text>
<text x="1737.6" y="398.9" text-anchor="middle">2040</text>
<text x="1823.8" y="398.9" text-anchor="middle">2060</text>
<text x="1909.9" y="398.9" text-anchor="middle">2080</text>
<text x="1996" y="398.9" text-anchor="middle">2100</text>
<text x="1618.1" y="367.8" text-anchor="end">0</text>
<text x="1618.1" y="262.4" text-anchor="end">50</text>
<text x="1618.1" y="157" text-anchor="end">100</text>
</g>
<text x="1814.7" y="132.3" text-anchor="middle" font-weight="bold" font-size="35.35" clip-path="url(#tclip)">R4 Arctic Canada South</text>
<path d="M1705.7 236.8H1777.5V353.9H1705.7" fill="none" stroke="#000" stroke-width="3.4" stroke-dasharray="11.6 4.6"/>
<path d="M1705.7 353.9V236.8H1632.2V353.9H1707.4" fill="none" stroke="#000" stroke-width="3.4" stroke-linejoin="miter"/>
<g font-size="28.1">
<text x="1636.8" y="271.4" fill="#0a1f5c">-35%</text>
<text x="1709.5" y="271.4" fill="#0a1f5c">-36%</text>
<text x="1636.8" y="304.7" fill="#fb8208">-42%</text>
<text x="1709.5" y="304.7" fill="#fb8208">-42%</text>
<text x="1636.8" y="338" fill="#8e0000">-54%</text>
<text x="1709.5" y="338" fill="#8e0000">-54%</text>
</g>
<path d="M1631.7 144.5 L1636 145.4 L1640.3 146.2 L1644.6 147.2 L1648.9 148.4 L1653.2 149.2 L1657.5 149.9 L1661.8 150.9 L1666.1 151.4 L1670.5 152.4 L1674.8 153.3 L1679.1 154.3 L1683.4 154.9 L1687.7 155.5 L1692 157 L1696.3 158 L1700.6 159.2 L1704.9 160.3 L1709.2 161.1 L1713.5 162.2 L1717.8 163.5 L1722.1 164.9 L1726.4 166.2 L1730.7 167.5 L1735 168.6 L1739.3 169.6 L1743.7 169.8 L1748 171.2 L1752.3 172 L1756.6 172.4 L1760.9 173.8 L1765.2 174.7 L1769.5 175.2 L1773.8 175.9 L1778.1 176.3 L1782.4 178 L1786.7 178.7 L1791 179.6 L1795.3 180.7 L1799.6 181.1 L1803.9 181.6 L1808.2 182.5 L1812.5 183.7 L1816.9 184.5 L1821.2 185.6 L1825.5 186.7 L1829.8 187.1 L1834.1 187.8 L1838.4 188.4 L1842.7 189.6 L1847 190.5 L1851.3 191.1 L1855.6 192 L1859.9 193.3 L1864.2 194.2 L1868.5 194.6 L1872.8 195.3 L1877.1 195.6 L1881.4 196.6 L1885.7 197.7 L1890.1 198 L1894.4 199.2 L1898.7 199.7 L1903 200.5 L1907.3 201.3 L1911.6 202.2 L1915.9 203.5 L1920.2 203 L1924.5 203.9 L1928.8 205.4 L1933.1 206.8 L1937.4 208.5 L1941.7 209.4 L1946 210.8 L1950.3 211.4 L1954.6 211.5 L1958.9 212.2 L1963.3 213.3 L1967.6 214 L1971.9 215.2 L1976.2 215.2 L1980.5 215.5 L1984.8 216.2 L1989.1 216.7 L1993.4 217.6 L1997.7 218.3" fill="none" stroke="#0c2d64" stroke-width="6.2" stroke-linejoin="round"/>
<path d="M1631.7 144.5 L1636 145.4 L1640.3 146.3 L1644.6 147.3 L1648.9 148.4 L1653.2 149.2 L1657.5 149.9 L1661.8 151.2 L1666.1 151.7 L1670.5 152.7 L1674.8 153.6 L1679.1 154.6 L1683.4 155.4 L1687.7 156 L1692 157.5 L1696.3 158.2 L1700.6 159.7 L1704.9 161.2 L1709.2 162.1 L1713.5 163 L1717.8 164.1 L1722.1 165.3 L1726.4 166.7 L1730.7 168.2 L1735 169.2 L1739.3 170.5 L1743.7 170.7 L1748 171.9 L1752.3 172.4 L1756.6 172.8 L1760.9 174.3 L1765.2 175.1 L1769.5 175.7 L1773.8 176.6 L1778.1 177.4 L1782.4 179 L1786.7 179.6 L1791 180 L1795.3 181 L1799.6 181.9 L1803.9 182.4 L1808.2 183.2 L1812.5 184.5 L1816.9 185.2 L1821.2 186.1 L1825.5 187.2 L1829.8 187.8 L1834.1 188.7 L1838.4 189.2 L1842.7 190.6 L1847 191.5 L1851.3 192.3 L1855.6 193.2 L1859.9 194.7 L1864.2 195.4 L1868.5 195.7 L1872.8 196.6 L1877.1 197.2 L1881.4 198.1 L1885.7 199.4 L1890.1 199.4 L1894.4 200.8 L1898.7 201 L1903 202.2 L1907.3 203 L1911.6 203.9 L1915.9 205.5 L1920.2 204.7 L1924.5 205.9 L1928.8 207.3 L1933.1 208.6 L1937.4 209.9 L1941.7 211 L1946 212.4 L1950.3 213 L1954.6 213.1 L1958.9 213.9 L1963.3 214.9 L1967.6 215.5 L1971.9 216.9 L1976.2 216.9 L1980.5 217.5 L1984.8 217.7 L1989.1 218.3 L1993.4 219.5 L1997.7 220.4" fill="none" stroke="#0c2d64" stroke-width="6.6" stroke-dasharray="25.5 23.5" stroke-linejoin="round"/>
<path d="M1631.7 144.5 L1636 145.3 L1640.3 146.1 L1644.6 147.1 L1648.9 147.3 L1653.2 148.9 L1657.5 149.6 L1661.8 151 L1666.1 151.6 L1670.5 152.2 L1674.8 153 L1679.1 153.4 L1683.4 154.9 L1687.7 156.4 L1692 157.5 L1696.3 157.7 L1700.6 159 L1704.9 160.3 L1709.2 161.1 L1713.5 162.6 L1717.8 163.4 L1722.1 164.2 L1726.4 165.6 L1730.7 166.6 L1735 168.3 L1739.3 169.5 L1743.7 170.1 L1748 171.6 L1752.3 172.1 L1756.6 172.3 L1760.9 173.6 L1765.2 174.9 L1769.5 175.9 L1773.8 176.4 L1778.1 177.3 L1782.4 178.7 L1786.7 179.8 L1791 180.8 L1795.3 182.1 L1799.6 182.7 L1803.9 184.4 L1808.2 185.2 L1812.5 186.4 L1816.9 187.4 L1821.2 188 L1825.5 188.5 L1829.8 190 L1834.1 190.8 L1838.4 192.1 L1842.7 193.3 L1847 194.2 L1851.3 195.5 L1855.6 196.6 L1859.9 197.7 L1864.2 198.4 L1868.5 199.2 L1872.8 199.9 L1877.1 201.2 L1881.4 202.7 L1885.7 203.9 L1890.1 204.5 L1894.4 205.6 L1898.7 206.2 L1903 206.9 L1907.3 207.4 L1911.6 208.5 L1915.9 210.1 L1920.2 211.6 L1924.5 212.7 L1928.8 213.8 L1933.1 215.8 L1937.4 216.7 L1941.7 218.2 L1946 219.2 L1950.3 220.8 L1954.6 222 L1958.9 223.3 L1963.3 224.8 L1967.6 224.9 L1971.9 225.5 L1976.2 227.3 L1980.5 228.3 L1984.8 229.7 L1989.1 230.8 L1993.4 232 L1997.7 233" fill="none" stroke="#f7941d" stroke-width="6.2" stroke-linejoin="round"/>
<path d="M1631.7 144.5 L1636 145.3 L1640.3 146.1 L1644.6 147.1 L1648.9 147.2 L1653.2 148.8 L1657.5 149.4 L1661.8 150.8 L1666.1 151.2 L1670.5 152 L1674.8 153 L1679.1 153.4 L1683.4 154.8 L1687.7 156.4 L1692 157.5 L1696.3 157.6 L1700.6 159.1 L1704.9 160.6 L1709.2 161.6 L1713.5 163 L1717.8 163.5 L1722.1 164.3 L1726.4 165.7 L1730.7 166.7 L1735 168.3 L1739.3 169.3 L1743.7 169.9 L1748 171.6 L1752.3 171.8 L1756.6 172.4 L1760.9 173.5 L1765.2 175 L1769.5 176 L1773.8 176.7 L1778.1 177.9 L1782.4 178.8 L1786.7 179.9 L1791 180.7 L1795.3 182.4 L1799.6 183.2 L1803.9 184.8 L1808.2 185.4 L1812.5 186.7 L1816.9 187.6 L1821.2 188.2 L1825.5 188.7 L1829.8 190.3 L1834.1 190.7 L1838.4 192.3 L1842.7 193.4 L1847 194.6 L1851.3 195.8 L1855.6 197 L1859.9 198 L1864.2 198.9 L1868.5 199.6 L1872.8 200.4 L1877.1 201.2 L1881.4 202.5 L1885.7 203.8 L1890.1 204.4 L1894.4 205.4 L1898.7 206 L1903 206.6 L1907.3 207.2 L1911.6 208.4 L1915.9 210.2 L1920.2 211.5 L1924.5 212.8 L1928.8 213.9 L1933.1 215.6 L1937.4 216.7 L1941.7 217.9 L1946 219 L1950.3 220.9 L1954.6 222.3 L1958.9 223.7 L1963.3 225 L1967.6 224.8 L1971.9 225.1 L1976.2 226.6 L1980.5 228.3 L1984.8 229.5 L1989.1 230.7 L1993.4 231.8 L1997.7 233" fill="none" stroke="#f7941d" stroke-width="6.6" stroke-dasharray="25.5 23.5" stroke-linejoin="round"/>
<path d="M1631.7 144.5 L1636 145.3 L1640.3 146.1 L1644.6 147.1 L1648.9 147.4 L1653.2 148 L1657.5 148.5 L1661.8 149.1 L1666.1 150.2 L1670.5 151 L1674.8 152.5 L1679.1 153.7 L1683.4 154.7 L1687.7 155.8 L1692 156.8 L1696.3 157.6 L1700.6 159 L1704.9 160.3 L1709.2 161.2 L1713.5 162.8 L1717.8 163.5 L1722.1 164.8 L1726.4 165.9 L1730.7 167.3 L1735 168.7 L1739.3 170.2 L1743.7 171.1 L1748 171.6 L1752.3 172.6 L1756.6 173 L1760.9 173.3 L1765.2 174.9 L1769.5 176.6 L1773.8 177.4 L1778.1 178.5 L1782.4 179.7 L1786.7 180.5 L1791 181.7 L1795.3 182.9 L1799.6 183.7 L1803.9 184.7 L1808.2 185.9 L1812.5 187.3 L1816.9 188.3 L1821.2 189.1 L1825.5 189.7 L1829.8 191.6 L1834.1 193.4 L1838.4 194.6 L1842.7 196.4 L1847 197.2 L1851.3 198.7 L1855.6 200 L1859.9 201.6 L1864.2 202.6 L1868.5 203.8 L1872.8 205 L1877.1 206.6 L1881.4 209 L1885.7 210.5 L1890.1 211.7 L1894.4 213 L1898.7 214.6 L1903 216 L1907.3 217.5 L1911.6 219.6 L1915.9 222.1 L1920.2 223.5 L1924.5 226.3 L1928.8 228 L1933.1 229.9 L1937.4 231.6 L1941.7 233.7 L1946 235.3 L1950.3 237.6 L1954.6 239.2 L1958.9 240.6 L1963.3 241.9 L1967.6 244.1 L1971.9 245.3 L1976.2 247 L1980.5 249.4 L1984.8 252.2 L1989.1 254.3 L1993.4 256.6 L1997.7 258.3" fill="none" stroke="#960000" stroke-width="6.2" stroke-linejoin="round"/>
<path d="M1631.7 144.5 L1636 145.3 L1640.3 146.1 L1644.6 147.1 L1648.9 147.5 L1653.2 148 L1657.5 148.4 L1661.8 149.1 L1666.1 150.3 L1670.5 151.1 L1674.8 152.7 L1679.1 153.9 L1683.4 155.1 L1687.7 156.2 L1692 157.1 L1696.3 157.6 L1700.6 159.1 L1704.9 160.5 L1709.2 161.5 L1713.5 163.2 L1717.8 163.2 L1722.1 164.7 L1726.4 165.5 L1730.7 166.9 L1735 168.7 L1739.3 170.2 L1743.7 171.3 L1748 171.7 L1752.3 172.9 L1756.6 173.2 L1760.9 173.4 L1765.2 175.1 L1769.5 176.6 L1773.8 177.4 L1778.1 177.9 L1782.4 179.5 L1786.7 180 L1791 181.6 L1795.3 182.8 L1799.6 183.7 L1803.9 184.8 L1808.2 185.7 L1812.5 186.8 L1816.9 187.8 L1821.2 188.4 L1825.5 189.1 L1829.8 190.7 L1834.1 192.9 L1838.4 194 L1842.7 195.8 L1847 196.8 L1851.3 198.3 L1855.6 199.8 L1859.9 201.4 L1864.2 202.1 L1868.5 203.6 L1872.8 204.9 L1877.1 206.8 L1881.4 209 L1885.7 210.3 L1890.1 211.4 L1894.4 213.1 L1898.7 214.6 L1903 215.9 L1907.3 217.3 L1911.6 219 L1915.9 221.4 L1920.2 223.2 L1924.5 225.8 L1928.8 227.9 L1933.1 229.8 L1937.4 231.2 L1941.7 233.3 L1946 235.4 L1950.3 237.6 L1954.6 238.9 L1958.9 240.3 L1963.3 241.5 L1967.6 243.8 L1971.9 245.4 L1976.2 247 L1980.5 249.1 L1984.8 251.8 L1989.1 253.9 L1993.4 256 L1997.7 258.3" fill="none" stroke="#960000" stroke-width="6.6" stroke-dasharray="25.5 23.5" stroke-linejoin="round"/>
</g>
<g>
<path d="M146.2 719.7V512.1M167.8 719.7V512.1M189.3 719.7V512.1M210.8 719.7V512.1M232.3 719.7V512.1M253.9 719.7V512.1M275.4 719.7V512.1M296.9 719.7V512.1M318.5 719.7V512.1M340 719.7V512.1M361.5 719.7V512.1M383.1 719.7V512.1M404.6 719.7V512.1M426.1 719.7V512.1M447.6 719.7V512.1M469.2 719.7V512.1M129 702.8H490.7M129 681.6H490.7M129 660.4H490.7M129 639.3H490.7M129 618.1H490.7M129 596.9H490.7M129 575.7H490.7M129 554.5H490.7M129 533.3H490.7" fill="none" stroke="#9a9a9a" stroke-width="1.5" stroke-dasharray="1.5 7.1" opacity="0.6"/>
<rect x="124.7" y="512.1" width="366" height="211.9" fill="none" stroke="#303030" stroke-width="1.3"/>
<path d="M146.2 724v-4.2M146.2 512.1v4.2M232.3 724v-4.2M232.3 512.1v4.2M318.5 724v-4.2M318.5 512.1v4.2M404.6 724v-4.2M404.6 512.1v4.2M490.7 724v-4.2M490.7 512.1v4.2M124.7 724h4.2M490.7 724h-4.2M124.7 618.1h4.2M490.7 618.1h-4.2M124.7 512.1h4.2M490.7 512.1h-4.2" fill="none" stroke="#303030" stroke-width="1.4"/>
<g font-size="32.8" fill="#000">
<text x="144.5" y="767.6" text-anchor="middle">2020</text>
<text x="230.6" y="767.6" text-anchor="middle">2040</text>
<text x="316.8" y="767.6" text-anchor="middle">2060</text>
<text x="402.9" y="767.6" text-anchor="middle">2080</text>
<text x="489" y="767.6" text-anchor="middle">2100</text>
<text x="111.1" y="736.5" text-anchor="end">0</text>
<text x="111.1" y="630.6" text-anchor="end">50</text>
<text x="111.1" y="524.6" text-anchor="end">100</text>
</g>
<text x="307.7" y="499.9" text-anchor="middle" font-weight="bold" font-size="35.35" clip-path="url(#tclip)">R5 Greenland periphery</text>
<path d="M198.7 605.5H270.5V722.7H198.7" fill="none" stroke="#000" stroke-width="3.4" stroke-dasharray="11.6 4.6"/>
<path d="M198.7 722.7V605.5H125.2V722.7H200.4" fill="none" stroke="#000" stroke-width="3.4" stroke-linejoin="miter"/>
<g font-size="28.1">
<text x="129.8" y="640.1" fill="#0a1f5c">-26%</text>
<text x="202.5" y="640.1" fill="#0a1f5c">-32%</text>
<text x="129.8" y="673.4" fill="#fb8208">-32%</text>
<text x="202.5" y="673.4" fill="#fb8208">-38%</text>
<text x="129.8" y="706.7" fill="#8e0000">-47%</text>
<text x="202.5" y="706.7" fill="#8e0000">-52%</text>
</g>
<path d="M124.7 512.1 L129 513.1 L133.3 513.9 L137.6 514.9 L141.9 515.9 L146.2 516.8 L150.5 517.5 L154.8 518.1 L159.1 519.3 L163.5 520 L167.8 520.6 L172.1 521.5 L176.4 522.6 L180.7 523.3 L185 524.4 L189.3 525.2 L193.6 525.8 L197.9 526.5 L202.2 527.3 L206.5 527.9 L210.8 528.6 L215.1 529.3 L219.4 530.1 L223.7 530.9 L228 531.5 L232.3 531.9 L236.7 532.4 L241 532.9 L245.3 533.8 L249.6 534.9 L253.9 535.9 L258.2 536.3 L262.5 537.2 L266.8 538.4 L271.1 538.8 L275.4 539.2 L279.7 539.7 L284 540.6 L288.3 541.4 L292.6 542 L296.9 542.4 L301.2 542.8 L305.5 543.2 L309.9 543.5 L314.2 543.8 L318.5 544.4 L322.8 545.1 L327.1 545.5 L331.4 545.9 L335.7 547 L340 547.8 L344.3 548.6 L348.6 549.4 L352.9 550.2 L357.2 550.7 L361.5 551.4 L365.8 552.1 L370.1 552.9 L374.4 553.6 L378.7 554.3 L383.1 554.6 L387.4 555.4 L391.7 555.9 L396 556.3 L400.3 556.7 L404.6 556.8 L408.9 557.4 L413.2 557.9 L417.5 558.3 L421.8 559 L426.1 559.5 L430.4 560.1 L434.7 560.5 L439 561.1 L443.3 561.6 L447.6 561.9 L451.9 562.8 L456.3 563.5 L460.6 563.9 L464.9 564.1 L469.2 564.8 L473.5 565.4 L477.8 565.8 L482.1 566.2 L486.4 566.7 L490.7 567.2" fill="none" stroke="#0c2d64" stroke-width="6.2" stroke-linejoin="round"/>
<path d="M124.7 512.1 L129 513.3 L133.3 514.3 L137.6 515.6 L141.9 516.8 L146.2 517.9 L150.5 518.9 L154.8 519.8 L159.1 521.1 L163.5 522.1 L167.8 522.8 L172.1 524 L176.4 525.3 L180.7 526.2 L185 527.4 L189.3 528.5 L193.6 529.4 L197.9 530.3 L202.2 531.4 L206.5 532.2 L210.8 533.1 L215.1 533.8 L219.4 534.9 L223.7 536 L228 537.1 L232.3 537.8 L236.7 538.5 L241 539.4 L245.3 540.4 L249.6 541.6 L253.9 542.7 L258.2 543.5 L262.5 544.7 L266.8 545.8 L271.1 546.4 L275.4 547.1 L279.7 548.1 L284 549.3 L288.3 550.1 L292.6 551 L296.9 551.6 L301.2 552.1 L305.5 552.6 L309.9 553.2 L314.2 553.8 L318.5 554.6 L322.8 555.7 L327.1 556.3 L331.4 556.9 L335.7 558.3 L340 559.2 L344.3 560.2 L348.6 561.2 L352.9 562.3 L357.2 563.2 L361.5 564 L365.8 564.9 L370.1 565.8 L374.4 566.4 L378.7 567 L383.1 567.1 L387.4 568 L391.7 568.4 L396 568.9 L400.3 569.3 L404.6 569.5 L408.9 570 L413.2 570.6 L417.5 571.1 L421.8 571.6 L426.1 572.2 L430.4 572.7 L434.7 573.2 L439 573.6 L443.3 574 L447.6 574.5 L451.9 575.2 L456.3 575.8 L460.6 576.2 L464.9 576.5 L469.2 577.3 L473.5 578 L477.8 578.3 L482.1 578.8 L486.4 579.5 L490.7 579.9" fill="none" stroke="#0c2d64" stroke-width="6.6" stroke-dasharray="25.5 23.5" stroke-linejoin="round"/>
<path d="M124.7 512.1 L129 513 L133.3 513.8 L137.6 514.6 L141.9 515.5 L146.2 516.4 L150.5 516.9 L154.8 517.8 L159.1 518.8 L163.5 519.7 L167.8 520.9 L172.1 521.8 L176.4 522.6 L180.7 523.5 L185 524.6 L189.3 525.1 L193.6 525.8 L197.9 526.7 L202.2 527.5 L206.5 528 L210.8 528.8 L215.1 529.5 L219.4 530.1 L223.7 530.8 L228 531.2 L232.3 531.7 L236.7 533 L241 533.7 L245.3 534.4 L249.6 535.3 L253.9 536.2 L258.2 537.2 L262.5 538.1 L266.8 538.9 L271.1 539.7 L275.4 540.5 L279.7 541 L284 541.5 L288.3 542.3 L292.6 543.3 L296.9 543.8 L301.2 544.5 L305.5 545.2 L309.9 545.7 L314.2 546.5 L318.5 547 L322.8 548.2 L327.1 549.1 L331.4 549.7 L335.7 550.4 L340 551.2 L344.3 552 L348.6 552.8 L352.9 553.6 L357.2 554.4 L361.5 555.5 L365.8 556.3 L370.1 557.1 L374.4 558.1 L378.7 558.8 L383.1 559.7 L387.4 561 L391.7 561.9 L396 562.8 L400.3 563.3 L404.6 564.1 L408.9 564.9 L413.2 565.7 L417.5 566.5 L421.8 567.1 L426.1 568.2 L430.4 568.5 L434.7 569.8 L439 570.6 L443.3 571.3 L447.6 572.3 L451.9 573.1 L456.3 573.5 L460.6 574.3 L464.9 575.3 L469.2 576.1 L473.5 576.8 L477.8 577.6 L482.1 578.5 L486.4 579.2 L490.7 579.9" fill="none" stroke="#f7941d" stroke-width="6.2" stroke-linejoin="round"/>
<path d="M124.7 512.1 L129 513.2 L133.3 514.3 L137.6 515.3 L141.9 516.4 L146.2 517.5 L150.5 518.3 L154.8 519.4 L159.1 520.6 L163.5 521.7 L167.8 523.2 L172.1 524.5 L176.4 525.4 L180.7 526.6 L185 527.9 L189.3 528.5 L193.6 529.5 L197.9 530.7 L202.2 531.6 L206.5 532.5 L210.8 533.5 L215.1 534.4 L219.4 535.2 L223.7 536.1 L228 536.8 L232.3 537.7 L236.7 539.3 L241 540.1 L245.3 540.9 L249.6 542.2 L253.9 543.1 L258.2 544.2 L262.5 545.4 L266.8 546.4 L271.1 547.6 L275.4 548.8 L279.7 549.4 L284 550 L288.3 551 L292.6 552.4 L296.9 553.3 L301.2 554.1 L305.5 554.7 L309.9 555.7 L314.2 556.7 L318.5 557.7 L322.8 559.1 L327.1 560.1 L331.4 560.9 L335.7 561.9 L340 562.8 L344.3 564 L348.6 564.9 L352.9 566.1 L357.2 567.2 L361.5 568.3 L365.8 569.2 L370.1 570.1 L374.4 571.2 L378.7 571.7 L383.1 572.6 L387.4 573.9 L391.7 574.7 L396 575.6 L400.3 576 L404.6 576.9 L408.9 577.9 L413.2 578.6 L417.5 579.4 L421.8 580 L426.1 581.1 L430.4 581.3 L434.7 582.5 L439 583.2 L443.3 584.1 L447.6 585.1 L451.9 585.8 L456.3 586.4 L460.6 587.2 L464.9 588.3 L469.2 589.1 L473.5 589.9 L477.8 590.4 L482.1 591.3 L486.4 592.1 L490.7 592.7" fill="none" stroke="#f7941d" stroke-width="6.6" stroke-dasharray="25.5 23.5" stroke-linejoin="round"/>
<path d="M124.7 512.1 L129 513 L133.3 513.9 L137.6 514.6 L141.9 515.2 L146.2 516.2 L150.5 516.9 L154.8 517.9 L159.1 518.4 L163.5 519.5 L167.8 520.5 L172.1 521.7 L176.4 522.3 L180.7 523 L185 524 L189.3 525.2 L193.6 526 L197.9 526.9 L202.2 527.6 L206.5 528.4 L210.8 529.4 L215.1 529.8 L219.4 530.5 L223.7 531.1 L228 531.8 L232.3 533 L236.7 533.8 L241 534.5 L245.3 535.8 L249.6 536.7 L253.9 537.6 L258.2 538.3 L262.5 539 L266.8 540 L271.1 540.4 L275.4 541.4 L279.7 542.2 L284 543.3 L288.3 544.2 L292.6 545 L296.9 546.3 L301.2 547.7 L305.5 548.6 L309.9 549.7 L314.2 550.3 L318.5 551.7 L322.8 552.6 L327.1 553.8 L331.4 555 L335.7 555.9 L340 557.1 L344.3 558.1 L348.6 559.3 L352.9 560.3 L357.2 561.7 L361.5 563 L365.8 564.5 L370.1 565.6 L374.4 566.9 L378.7 568.6 L383.1 570.2 L387.4 571.5 L391.7 572.9 L396 574.4 L400.3 575.9 L404.6 577.4 L408.9 579.3 L413.2 581 L417.5 583.1 L421.8 584.9 L426.1 586.6 L430.4 588.4 L434.7 590.2 L439 591.7 L443.3 593.7 L447.6 595.5 L451.9 597.1 L456.3 598.7 L460.6 600.5 L464.9 602.1 L469.2 603.9 L473.5 605.5 L477.8 607.1 L482.1 608.6 L486.4 610.1 L490.7 611.7" fill="none" stroke="#960000" stroke-width="6.2" stroke-linejoin="round"/>
<path d="M124.7 512.1 L129 513.2 L133.3 514.3 L137.6 515.2 L141.9 515.9 L146.2 517.2 L150.5 518 L154.8 519.1 L159.1 519.8 L163.5 521.1 L167.8 522.4 L172.1 523.7 L176.4 524.6 L180.7 525.5 L185 526.8 L189.3 528.1 L193.6 529.2 L197.9 530.1 L202.2 531 L206.5 531.9 L210.8 533 L215.1 533.8 L219.4 534.5 L223.7 535.3 L228 536.3 L232.3 537.8 L236.7 538.8 L241 539.7 L245.3 541.1 L249.6 542.3 L253.9 543.5 L258.2 544.4 L262.5 545.4 L266.8 546.2 L271.1 546.8 L275.4 547.8 L279.7 549 L284 550.3 L288.3 551.6 L292.6 552.9 L296.9 554.3 L301.2 555.9 L305.5 557 L309.9 558.4 L314.2 559.3 L318.5 560.5 L322.8 561.3 L327.1 562.9 L331.4 564.1 L335.7 565.4 L340 566.7 L344.3 568.1 L348.6 569.6 L352.9 570.7 L357.2 572.2 L361.5 573.7 L365.8 575.2 L370.1 576.4 L374.4 577.8 L378.7 579.6 L383.1 580.9 L387.4 582.3 L391.7 583.7 L396 585.3 L400.3 586.5 L404.6 588.1 L408.9 590 L413.2 591.6 L417.5 593.8 L421.8 595.3 L426.1 597.3 L430.4 599 L434.7 601 L439 602.4 L443.3 604.6 L447.6 606.3 L451.9 607.7 L456.3 609.3 L460.6 611.2 L464.9 612.7 L469.2 614.5 L473.5 616.4 L477.8 618.1 L482.1 619.3 L486.4 620.8 L490.7 622.3" fill="none" stroke="#960000" stroke-width="6.6" stroke-dasharray="25.5 23.5" stroke-linejoin="round"/>
<text transform="translate(44 618.3) rotate(-90)" text-anchor="middle" font-size="35">V (%, vs. 2015)</text>
</g>
<g>
<path d="M648.3 719.7V512.1M669.9 719.7V512.1M691.4 719.7V512.1M712.9 719.7V512.1M734.4 719.7V512.1M756 719.7V512.1M777.5 719.7V512.1M799 719.7V512.1M820.6 719.7V512.1M842.1 719.7V512.1M863.6 719.7V512.1M885.2 719.7V512.1M906.7 719.7V512.1M928.2 719.7V512.1M949.7 719.7V512.1M971.3 719.7V512.1M631.1 702.8H992.8M631.1 681.6H992.8M631.1 660.4H992.8M631.1 639.3H992.8M631.1 618.1H992.8M631.1 596.9H992.8M631.1 575.7H992.8M631.1 554.5H992.8M631.1 533.3H992.8" fill="none" stroke="#9a9a9a" stroke-width="1.5" stroke-dasharray="1.5 7.1" opacity="0.6"/>
<rect x="626.8" y="512.1" width="366" height="211.9" fill="none" stroke="#303030" stroke-width="1.3"/>
<path d="M648.3 724v-4.2M648.3 512.1v4.2M734.4 724v-4.2M734.4 512.1v4.2M820.6 724v-4.2M820.6 512.1v4.2M906.7 724v-4.2M906.7 512.1v4.2M992.8 724v-4.2M992.8 512.1v4.2M626.8 724h4.2M992.8 724h-4.2M626.8 618.1h4.2M992.8 618.1h-4.2M626.8 512.1h4.2M992.8 512.1h-4.2" fill="none" stroke="#303030" stroke-width="1.4"/>
<g font-size="32.8" fill="#000">
<text x="646.6" y="767.6" text-anchor="middle">2020</text>
<text x="732.7" y="767.6" text-anchor="middle">2040</text>
<text x="818.9" y="767.6" text-anchor="middle">2060</text>
<text x="905" y="767.6" text-anchor="middle">2080</text>
<text x="991.1" y="767.6" text-anchor="middle">2100</text>
<text x="613.2" y="736.5" text-anchor="end">0</text>
<text x="613.2" y="630.6" text-anchor="end">50</text>
<text x="613.2" y="524.6" text-anchor="end">100</text>
</g>
<text x="809.8" y="499.9" text-anchor="middle" font-weight="bold" font-size="35.35" clip-path="url(#tclip)">R6 Iceland</text>
<path d="M700.8 605.5H772.6V722.7H700.8" fill="none" stroke="#000" stroke-width="3.4" stroke-dasharray="11.6 4.6"/>
<path d="M700.8 722.7V605.5H627.3V722.7H702.5" fill="none" stroke="#000" stroke-width="3.4" stroke-linejoin="miter"/>
<g font-size="28.1">
<text x="631.9" y="640.1" fill="#0a1f5c">-25%</text>
<text x="704.6" y="640.1" fill="#0a1f5c">-26%</text>
<text x="631.9" y="673.4" fill="#fb8208">-33%</text>
<text x="704.6" y="673.4" fill="#fb8208">-33%</text>
<text x="631.9" y="706.7" fill="#8e0000">-49%</text>
<text x="704.6" y="706.7" fill="#8e0000">-49%</text>
</g>
<path d="M626.8 512.1 L631.1 513 L635.4 513.5 L639.7 515.4 L644 515.9 L648.3 517.6 L652.6 518.4 L656.9 519.1 L661.2 518.8 L665.6 520.1 L669.9 520.6 L674.2 521.7 L678.5 521.6 L682.8 522.2 L687.1 523.8 L691.4 524.7 L695.7 525.4 L700 526 L704.3 527.1 L708.6 527.3 L712.9 527.8 L717.2 528.6 L721.5 529.1 L725.8 530.8 L730.1 531.2 L734.4 532.2 L738.8 533.1 L743.1 534.3 L747.4 534.1 L751.7 535 L756 536.4 L760.3 537.1 L764.6 536.8 L768.9 538.3 L773.2 540 L777.5 540.8 L781.8 541 L786.1 542.6 L790.4 543.6 L794.7 544.5 L799 546.3 L803.3 546.5 L807.6 547.8 L812 548.3 L816.3 549.4 L820.6 550.6 L824.9 550.6 L829.2 551.4 L833.5 552.6 L837.8 552.8 L842.1 553.8 L846.4 554.1 L850.7 555.3 L855 555.3 L859.3 555.4 L863.6 556 L867.9 556.4 L872.2 556.7 L876.5 556.9 L880.8 556.8 L885.2 557.5 L889.5 557.7 L893.8 557.6 L898.1 557.9 L902.4 558 L906.7 558.9 L911 558.9 L915.3 560.7 L919.6 560.9 L923.9 560.8 L928.2 561.4 L932.5 562 L936.8 561.5 L941.1 562.6 L945.4 563 L949.7 563.3 L954 564 L958.4 565 L962.7 565.5 L967 565.1 L971.3 565.5 L975.6 565.9 L979.9 566.3 L984.2 565.5 L988.5 565.5 L992.8 565.1" fill="none" stroke="#0c2d64" stroke-width="6.2" stroke-linejoin="round"/>
<path d="M626.8 512.1 L631.1 513 L635.4 513.6 L639.7 515.4 L644 515.9 L648.3 517.7 L652.6 518.6 L656.9 519.4 L661.2 519.4 L665.6 520.8 L669.9 521.4 L674.2 522.2 L678.5 522 L682.8 522.9 L687.1 524.8 L691.4 525.3 L695.7 526.2 L700 526.4 L704.3 527.3 L708.6 527.3 L712.9 527.9 L717.2 529 L721.5 529.7 L725.8 532.3 L730.1 532.6 L734.4 533.5 L738.8 534.8 L743.1 535.8 L747.4 535.5 L751.7 536.4 L756 537.8 L760.3 538.6 L764.6 537.9 L768.9 539.5 L773.2 541.1 L777.5 542.1 L781.8 542.5 L786.1 544.3 L790.4 544.9 L794.7 545.6 L799 547.6 L803.3 548.1 L807.6 549.6 L812 549.8 L816.3 551.4 L820.6 552.5 L824.9 551.9 L829.2 552.6 L833.5 554.1 L837.8 554 L842.1 554.7 L846.4 555.1 L850.7 556.5 L855 556.6 L859.3 556.4 L863.6 557.2 L867.9 558 L872.2 558.2 L876.5 558.8 L880.8 558.9 L885.2 559.8 L889.5 560.3 L893.8 559.9 L898.1 560.2 L902.4 560.1 L906.7 561.1 L911 560.6 L915.3 563.3 L919.6 563.4 L923.9 563.3 L928.2 564 L932.5 564.7 L936.8 563.9 L941.1 565 L945.4 565.6 L949.7 565.9 L954 566.4 L958.4 567 L962.7 567.8 L967 567.5 L971.3 567.6 L975.6 568.4 L979.9 568.1 L984.2 567.4 L988.5 568.1 L992.8 567.2" fill="none" stroke="#0c2d64" stroke-width="6.6" stroke-dasharray="25.5 23.5" stroke-linejoin="round"/>
<path d="M626.8 512.1 L631.1 512.8 L635.4 513.4 L639.7 514.1 L644 514.9 L648.3 514.5 L652.6 515 L656.9 516 L661.2 516.6 L665.6 518.4 L669.9 519.2 L674.2 519.7 L678.5 521.5 L682.8 522.4 L687.1 523.1 L691.4 524.6 L695.7 525.3 L700 526.2 L704.3 527.5 L708.6 527.4 L712.9 528.1 L717.2 528.9 L721.5 529.3 L725.8 529.9 L730.1 530.7 L734.4 531.3 L738.8 531.5 L743.1 532.3 L747.4 533.1 L751.7 534.7 L756 535.8 L760.3 537 L764.6 538 L768.9 538.5 L773.2 539.3 L777.5 540.4 L781.8 541.3 L786.1 541.9 L790.4 543.2 L794.7 544.5 L799 544.8 L803.3 545.8 L807.6 546.9 L812 547.6 L816.3 548.3 L820.6 550 L824.9 551.5 L829.2 552.1 L833.5 553.1 L837.8 554.2 L842.1 555 L846.4 556 L850.7 557.9 L855 558.1 L859.3 559.4 L863.6 559.8 L867.9 561.2 L872.2 561.4 L876.5 562.5 L880.8 563.3 L885.2 564.4 L889.5 564.6 L893.8 565.6 L898.1 565.4 L902.4 566.2 L906.7 567.5 L911 568 L915.3 568.9 L919.6 569.6 L923.9 569.8 L928.2 570.5 L932.5 570.8 L936.8 571.8 L941.1 572.2 L945.4 572.9 L949.7 574.1 L954 575.5 L958.4 576.3 L962.7 577 L967 578.1 L971.3 578.5 L975.6 579.7 L979.9 579.9 L984.2 580.1 L988.5 580.8 L992.8 582.1" fill="none" stroke="#f7941d" stroke-width="6.2" stroke-linejoin="round"/>
<path d="M626.8 512.1 L631.1 512.8 L635.4 513.3 L639.7 514.2 L644 515 L648.3 514.7 L652.6 515.2 L656.9 516.1 L661.2 516.6 L665.6 518.3 L669.9 519.3 L674.2 520 L678.5 521.7 L682.8 522.5 L687.1 523.2 L691.4 524.4 L695.7 525.2 L700 526 L704.3 527.3 L708.6 527.4 L712.9 527.8 L717.2 528.6 L721.5 529 L725.8 528.9 L730.1 530.5 L734.4 530.5 L738.8 531 L743.1 532 L747.4 532.7 L751.7 534.3 L756 535.4 L760.3 536.8 L764.6 537.8 L768.9 538.4 L773.2 538.7 L777.5 540.3 L781.8 540.8 L786.1 541.9 L790.4 543.1 L794.7 544.5 L799 545 L803.3 546.1 L807.6 547.2 L812 547.5 L816.3 548 L820.6 549.6 L824.9 551.3 L829.2 551.9 L833.5 552.1 L837.8 553.8 L842.1 554.4 L846.4 556.1 L850.7 557.8 L855 558.4 L859.3 559.7 L863.6 560 L867.9 561.2 L872.2 561.1 L876.5 562.6 L880.8 563.4 L885.2 564.2 L889.5 564.1 L893.8 565.7 L898.1 565.5 L902.4 566.4 L906.7 567.7 L911 568.5 L915.3 569 L919.6 570 L923.9 570.3 L928.2 571 L932.5 571.2 L936.8 571.7 L941.1 572 L945.4 572.7 L949.7 573.9 L954 575.2 L958.4 576.4 L962.7 577.3 L967 578.8 L971.3 579 L975.6 579.8 L979.9 580.2 L984.2 580.3 L988.5 580.5 L992.8 582.1" fill="none" stroke="#f7941d" stroke-width="6.6" stroke-dasharray="25.5 23.5" stroke-linejoin="round"/>
<path d="M626.8 512.1 L631.1 512.8 L635.4 513.4 L639.7 514.5 L644 515.2 L648.3 516.1 L652.6 516.5 L656.9 517.3 L661.2 518.2 L665.6 518.6 L669.9 519.1 L674.2 520.5 L678.5 521.4 L682.8 522.3 L687.1 523.6 L691.4 523.6 L695.7 525.3 L700 525.8 L704.3 526.4 L708.6 526.7 L712.9 526.5 L717.2 527 L721.5 527.9 L725.8 530.1 L730.1 531.1 L734.4 533 L738.8 532.9 L743.1 534.1 L747.4 534.1 L751.7 534.8 L756 535.7 L760.3 538.2 L764.6 538.8 L768.9 539.3 L773.2 540.1 L777.5 540.3 L781.8 541.7 L786.1 543.1 L790.4 543.8 L794.7 544.9 L799 547.1 L803.3 548.5 L807.6 550.2 L812 551.9 L816.3 553.4 L820.6 554.8 L824.9 556 L829.2 557.5 L833.5 559.5 L837.8 561.2 L842.1 561.9 L846.4 563.1 L850.7 563 L855 563.2 L859.3 565.7 L863.6 566.5 L867.9 568.5 L872.2 570.5 L876.5 572.4 L880.8 573.3 L885.2 574.6 L889.5 576.6 L893.8 578 L898.1 578.6 L902.4 580.4 L906.7 582.4 L911 583.3 L915.3 585.8 L919.6 587.2 L923.9 589.5 L928.2 591.1 L932.5 592.7 L936.8 594 L941.1 596.3 L945.4 598 L949.7 598.9 L954 600.3 L958.4 601.9 L962.7 604.2 L967 605 L971.3 606.4 L975.6 608.4 L979.9 609.9 L984.2 612.3 L988.5 613.9 L992.8 616" fill="none" stroke="#960000" stroke-width="6.2" stroke-linejoin="round"/>
<path d="M626.8 512.1 L631.1 512.8 L635.4 513.4 L639.7 514.5 L644 515.1 L648.3 516.1 L652.6 516.5 L656.9 517.2 L661.2 518.2 L665.6 518.6 L669.9 519.4 L674.2 520.9 L678.5 521.9 L682.8 522.8 L687.1 524.3 L691.4 524 L695.7 525.7 L700 526.1 L704.3 526.6 L708.6 526.5 L712.9 526.9 L717.2 527.5 L721.5 528.2 L725.8 530.5 L730.1 531.9 L734.4 533.6 L738.8 533.5 L743.1 534.8 L747.4 534.4 L751.7 535.4 L756 536 L760.3 538.2 L764.6 539.8 L768.9 539.8 L773.2 540.6 L777.5 541.3 L781.8 543.1 L786.1 544.1 L790.4 544.8 L794.7 545.8 L799 547.8 L803.3 549.5 L807.6 551.3 L812 552.6 L816.3 553.9 L820.6 555 L824.9 555.7 L829.2 557.2 L833.5 559.8 L837.8 561.6 L842.1 562.9 L846.4 563.9 L850.7 563.4 L855 564.2 L859.3 566.5 L863.6 567.3 L867.9 569.9 L872.2 571.8 L876.5 573.3 L880.8 574.2 L885.2 575.3 L889.5 577.2 L893.8 578.6 L898.1 579.3 L902.4 580.9 L906.7 583 L911 584 L915.3 586.7 L919.6 587.9 L923.9 589.9 L928.2 591.6 L932.5 593.4 L936.8 595.2 L941.1 597.6 L945.4 599.8 L949.7 601 L954 601.8 L958.4 603.5 L962.7 605.9 L967 606.7 L971.3 607.6 L975.6 609.7 L979.9 610.9 L984.2 613.2 L988.5 614.1 L992.8 616" fill="none" stroke="#960000" stroke-width="6.6" stroke-dasharray="25.5 23.5" stroke-linejoin="round"/>
</g>
<g>
<path d="M1151.1 719.7V512.1M1172.7 719.7V512.1M1194.2 719.7V512.1M1215.7 719.7V512.1M1237.2 719.7V512.1M1258.8 719.7V512.1M1280.3 719.7V512.1M1301.8 719.7V512.1M1323.4 719.7V512.1M1344.9 719.7V512.1M1366.4 719.7V512.1M1388 719.7V512.1M1409.5 719.7V512.1M1431 719.7V512.1M1452.5 719.7V512.1M1474.1 719.7V512.1M1133.9 702.8H1495.6M1133.9 681.6H1495.6M1133.9 660.4H1495.6M1133.9 639.3H1495.6M1133.9 618.1H1495.6M1133.9 596.9H1495.6M1133.9 575.7H1495.6M1133.9 554.5H1495.6M1133.9 533.3H1495.6" fill="none" stroke="#9a9a9a" stroke-width="1.5" stroke-dasharray="1.5 7.1" opacity="0.6"/>
<rect x="1129.6" y="512.1" width="366" height="211.9" fill="none" stroke="#303030" stroke-width="1.3"/>
<path d="M1151.1 724v-4.2M1151.1 512.1v4.2M1237.2 724v-4.2M1237.2 512.1v4.2M1323.4 724v-4.2M1323.4 512.1v4.2M1409.5 724v-4.2M1409.5 512.1v4.2M1495.6 724v-4.2M1495.6 512.1v4.2M1129.6 724h4.2M1495.6 724h-4.2M1129.6 618.1h4.2M1495.6 618.1h-4.2M1129.6 512.1h4.2M1495.6 512.1h-4.2" fill="none" stroke="#303030" stroke-width="1.4"/>
<g font-size="32.8" fill="#000">
<text x="1149.4" y="767.6" text-anchor="middle">2020</text>
<text x="1235.5" y="767.6" text-anchor="middle">2040</text>
<text x="1321.7" y="767.6" text-anchor="middle">2060</text>
<text x="1407.8" y="767.6" text-anchor="middle">2080</text>
<text x="1493.9" y="767.6" text-anchor="middle">2100</text>
<text x="1116" y="736.5" text-anchor="end">0</text>
<text x="1116" y="630.6" text-anchor="end">50</text>
<text x="1116" y="524.6" text-anchor="end">100</text>
</g>
<text x="1312.6" y="499.9" text-anchor="middle" font-weight="bold" font-size="35.35" clip-path="url(#tclip)">R7 Svalbard</text>
<path d="M1203.6 605.5H1275.4V722.7H1203.6" fill="none" stroke="#000" stroke-width="3.4" stroke-dasharray="11.6 4.6"/>
<path d="M1203.6 722.7V605.5H1130.1V722.7H1205.3" fill="none" stroke="#000" stroke-width="3.4" stroke-linejoin="miter"/>
<g font-size="28.1">
<text x="1134.7" y="640.1" fill="#0a1f5c">-26%</text>
<text x="1207.4" y="640.1" fill="#0a1f5c">-30%</text>
<text x="1134.7" y="673.4" fill="#fb8208">-36%</text>
<text x="1207.4" y="673.4" fill="#fb8208">-41%</text>
<text x="1134.7" y="706.7" fill="#8e0000">-59%</text>
<text x="1207.4" y="706.7" fill="#8e0000">-66%</text>
</g>
<path d="M1129.6 512.1 L1133.9 512.8 L1138.2 513.4 L1142.5 512.9 L1146.8 513.8 L1151.1 514.7 L1155.4 515.5 L1159.7 516 L1164 516.1 L1168.4 516.9 L1172.7 518 L1177 518.4 L1181.3 518.8 L1185.6 519.2 L1189.9 520.1 L1194.2 520.9 L1198.5 520.1 L1202.8 521.1 L1207.1 522.8 L1211.4 523.4 L1215.7 524.1 L1220 524.4 L1224.3 526.5 L1228.6 526.6 L1232.9 527.1 L1237.2 528.3 L1241.6 529.3 L1245.9 529.4 L1250.2 530.2 L1254.5 530.8 L1258.8 530.8 L1263.1 531.8 L1267.4 532.3 L1271.7 533.2 L1276 534.1 L1280.3 534.6 L1284.6 535.5 L1288.9 535.3 L1293.2 536.1 L1297.5 538.2 L1301.8 538.6 L1306.1 538.5 L1310.4 539.6 L1314.8 541.5 L1319.1 541.8 L1323.4 542.3 L1327.7 542.5 L1332 543.2 L1336.3 543.8 L1340.6 544 L1344.9 546 L1349.2 546.6 L1353.5 547.4 L1357.8 549 L1362.1 549.5 L1366.4 550.3 L1370.7 551 L1375 551.1 L1379.3 552.1 L1383.6 552.1 L1388 552.7 L1392.3 553.6 L1396.6 554.1 L1400.9 555 L1405.2 555.4 L1409.5 556.2 L1413.8 556.4 L1418.1 557 L1422.4 557.3 L1426.7 558.2 L1431 559.3 L1435.3 560.2 L1439.6 560.9 L1443.9 562.1 L1448.2 562.5 L1452.5 563 L1456.8 563.4 L1461.2 564 L1465.5 563.9 L1469.8 564.7 L1474.1 565.4 L1478.4 565.9 L1482.7 566.2 L1487 566.8 L1491.3 567.7 L1495.6 567.2" fill="none" stroke="#0c2d64" stroke-width="6.2" stroke-linejoin="round"/>
<path d="M1129.6 512.1 L1133.9 513 L1138.2 513.7 L1142.5 513.2 L1146.8 514.2 L1151.1 515.1 L1155.4 516 L1159.7 516.8 L1164 516.9 L1168.4 517.6 L1172.7 519 L1177 519.6 L1181.3 520 L1185.6 520.2 L1189.9 521.1 L1194.2 522 L1198.5 521.4 L1202.8 522.2 L1207.1 524.2 L1211.4 525.3 L1215.7 526.3 L1220 526.6 L1224.3 529.2 L1228.6 529.7 L1232.9 530.9 L1237.2 531.7 L1241.6 532.4 L1245.9 533 L1250.2 533.5 L1254.5 533.5 L1258.8 533.9 L1263.1 535 L1267.4 535.7 L1271.7 537.1 L1276 538.1 L1280.3 539.2 L1284.6 540.2 L1288.9 539.9 L1293.2 540.7 L1297.5 542.7 L1301.8 543 L1306.1 543.1 L1310.4 544 L1314.8 546.6 L1319.1 547.2 L1323.4 547.9 L1327.7 547.7 L1332 548.5 L1336.3 549.1 L1340.6 549.3 L1344.9 551.7 L1349.2 552.5 L1353.5 553.5 L1357.8 555.1 L1362.1 556.3 L1366.4 556.9 L1370.7 557.9 L1375 558 L1379.3 558.8 L1383.6 559 L1388 560 L1392.3 560.7 L1396.6 561.6 L1400.9 562.6 L1405.2 563 L1409.5 563.8 L1413.8 564.2 L1418.1 565.2 L1422.4 565 L1426.7 565.8 L1431 567.4 L1435.3 568 L1439.6 569 L1443.9 571 L1448.2 571.1 L1452.5 571.4 L1456.8 572.2 L1461.2 572.9 L1465.5 572.5 L1469.8 573.6 L1474.1 574.1 L1478.4 574.4 L1482.7 574.8 L1487 575.2 L1491.3 576.1 L1495.6 575.7" fill="none" stroke="#0c2d64" stroke-width="6.6" stroke-dasharray="25.5 23.5" stroke-linejoin="round"/>
<path d="M1129.6 512.1 L1133.9 512.8 L1138.2 513.7 L1142.5 515.7 L1146.8 515.7 L1151.1 516.3 L1155.4 516.9 L1159.7 517.2 L1164 517.5 L1168.4 518.2 L1172.7 519.4 L1177 519.4 L1181.3 519.9 L1185.6 519.9 L1189.9 521 L1194.2 521.3 L1198.5 521.2 L1202.8 521.9 L1207.1 522.9 L1211.4 523.6 L1215.7 524.4 L1220 525.2 L1224.3 525.3 L1228.6 527 L1232.9 527.3 L1237.2 528.3 L1241.6 529.9 L1245.9 529.8 L1250.2 530.5 L1254.5 530 L1258.8 531.1 L1263.1 532 L1267.4 532.7 L1271.7 533.6 L1276 533.7 L1280.3 535.2 L1284.6 536.2 L1288.9 536.1 L1293.2 538 L1297.5 538.4 L1301.8 539.7 L1306.1 540.5 L1310.4 541.6 L1314.8 542.8 L1319.1 544.4 L1323.4 546.1 L1327.7 547 L1332 547.4 L1336.3 548.7 L1340.6 549.6 L1344.9 551.2 L1349.2 552.7 L1353.5 553.2 L1357.8 553.8 L1362.1 554.8 L1366.4 554.2 L1370.7 555.5 L1375 556.3 L1379.3 558.4 L1383.6 558.8 L1388 560.2 L1392.3 562.5 L1396.6 563.3 L1400.9 563.8 L1405.2 564.9 L1409.5 565 L1413.8 565.4 L1418.1 566.5 L1422.4 568.1 L1426.7 569.2 L1431 569.7 L1435.3 570.2 L1439.6 570.4 L1443.9 571.7 L1448.2 573.5 L1452.5 574.9 L1456.8 576.9 L1461.2 578.1 L1465.5 578.9 L1469.8 579.4 L1474.1 581.5 L1478.4 583.2 L1482.7 584.1 L1487 586.2 L1491.3 587.1 L1495.6 588.4" fill="none" stroke="#f7941d" stroke-width="6.2" stroke-linejoin="round"/>
<path d="M1129.6 512.1 L1133.9 512.9 L1138.2 514 L1142.5 516.2 L1146.8 516.4 L1151.1 517.1 L1155.4 517.9 L1159.7 518.4 L1164 518.8 L1168.4 519.4 L1172.7 520.7 L1177 520.8 L1181.3 521.3 L1185.6 521.3 L1189.9 522.7 L1194.2 523.1 L1198.5 523.2 L1202.8 524.1 L1207.1 525.4 L1211.4 526.3 L1215.7 527.6 L1220 528.7 L1224.3 528.9 L1228.6 530.7 L1232.9 530.7 L1237.2 531.4 L1241.6 533 L1245.9 533.4 L1250.2 534.9 L1254.5 533.9 L1258.8 535.1 L1263.1 536.1 L1267.4 537 L1271.7 537.9 L1276 538.6 L1280.3 540.3 L1284.6 540.7 L1288.9 540.5 L1293.2 543 L1297.5 543.9 L1301.8 545.5 L1306.1 546.1 L1310.4 547.4 L1314.8 548.5 L1319.1 550.1 L1323.4 552.4 L1327.7 553.4 L1332 553.9 L1336.3 555.1 L1340.6 556.3 L1344.9 558.1 L1349.2 560.1 L1353.5 560.7 L1357.8 561 L1362.1 562.3 L1366.4 561.7 L1370.7 562.9 L1375 564.3 L1379.3 566.2 L1383.6 566.3 L1388 567.7 L1392.3 569.9 L1396.6 571.1 L1400.9 572.4 L1405.2 573.9 L1409.5 574.4 L1413.8 574.4 L1418.1 575.9 L1422.4 577.4 L1426.7 578.9 L1431 579.1 L1435.3 579.5 L1439.6 580.4 L1443.9 582.5 L1448.2 583.9 L1452.5 585.2 L1456.8 586.7 L1461.2 588.1 L1465.5 588.6 L1469.8 589.4 L1474.1 592.2 L1478.4 594.3 L1482.7 594.9 L1487 596.8 L1491.3 597.7 L1495.6 599" fill="none" stroke="#f7941d" stroke-width="6.6" stroke-dasharray="25.5 23.5" stroke-linejoin="round"/>
<path d="M1129.6 512.1 L1133.9 512.7 L1138.2 513.6 L1142.5 514 L1146.8 514.8 L1151.1 515.7 L1155.4 515.9 L1159.7 516.5 L1164 516.9 L1168.4 517.7 L1172.7 519.2 L1177 519.5 L1181.3 519.4 L1185.6 520.3 L1189.9 520.6 L1194.2 521.3 L1198.5 521.4 L1202.8 521.2 L1207.1 522 L1211.4 522.8 L1215.7 523.8 L1220 524.5 L1224.3 524.9 L1228.6 526.5 L1232.9 526 L1237.2 527.2 L1241.6 528.4 L1245.9 529.2 L1250.2 530.2 L1254.5 530.8 L1258.8 530.8 L1263.1 531.6 L1267.4 533.5 L1271.7 533.3 L1276 535.4 L1280.3 536.3 L1284.6 537.6 L1288.9 538.7 L1293.2 540.5 L1297.5 542.3 L1301.8 543.9 L1306.1 546.5 L1310.4 548 L1314.8 550.2 L1319.1 551.8 L1323.4 553.1 L1327.7 554.3 L1332 556.4 L1336.3 557.4 L1340.6 559.8 L1344.9 561.1 L1349.2 562.2 L1353.5 564.9 L1357.8 566.7 L1362.1 568.2 L1366.4 569.5 L1370.7 571 L1375 573.4 L1379.3 575.5 L1383.6 577.1 L1388 579.5 L1392.3 581.9 L1396.6 583.9 L1400.9 587 L1405.2 589.4 L1409.5 591.3 L1413.8 593.6 L1418.1 595.3 L1422.4 597.9 L1426.7 599.3 L1431 601.2 L1435.3 603.6 L1439.6 606.3 L1443.9 609.1 L1448.2 611.3 L1452.5 613.4 L1456.8 615.7 L1461.2 617.9 L1465.5 619.5 L1469.8 622.1 L1474.1 624.4 L1478.4 627.9 L1482.7 630 L1487 633 L1491.3 635 L1495.6 637.1" fill="none" stroke="#960000" stroke-width="6.2" stroke-linejoin="round"/>
<path d="M1129.6 512.1 L1133.9 512.9 L1138.2 513.9 L1142.5 514.6 L1146.8 515.5 L1151.1 516.7 L1155.4 517.1 L1159.7 517.8 L1164 518.5 L1168.4 519.4 L1172.7 521.3 L1177 521.7 L1181.3 522 L1185.6 522.9 L1189.9 523.3 L1194.2 524.1 L1198.5 524.3 L1202.8 524.7 L1207.1 525.7 L1211.4 526.7 L1215.7 528 L1220 528.5 L1224.3 529 L1228.6 531 L1232.9 530.2 L1237.2 531.3 L1241.6 533.1 L1245.9 534.2 L1250.2 535.3 L1254.5 536.7 L1258.8 536.3 L1263.1 537.2 L1267.4 539.2 L1271.7 539.1 L1276 541.6 L1280.3 543 L1284.6 544.2 L1288.9 545.4 L1293.2 547.3 L1297.5 549.5 L1301.8 551.4 L1306.1 554.6 L1310.4 556.6 L1314.8 558.9 L1319.1 560.3 L1323.4 562.1 L1327.7 563.5 L1332 565.3 L1336.3 566.4 L1340.6 568.9 L1344.9 570.6 L1349.2 572.6 L1353.5 575.1 L1357.8 577 L1362.1 578.5 L1366.4 580.4 L1370.7 582.1 L1375 584.5 L1379.3 586.5 L1383.6 588.4 L1388 591.4 L1392.3 593.5 L1396.6 596 L1400.9 599.2 L1405.2 601.7 L1409.5 603.7 L1413.8 606.3 L1418.1 608.3 L1422.4 610.9 L1426.7 612.9 L1431 614.6 L1435.3 617.3 L1439.6 619.9 L1443.9 623.5 L1448.2 626 L1452.5 628 L1456.8 630.3 L1461.2 633.3 L1465.5 635.3 L1469.8 637.8 L1474.1 640.4 L1478.4 643.6 L1482.7 645.7 L1487 648.5 L1491.3 650.3 L1495.6 652" fill="none" stroke="#960000" stroke-width="6.6" stroke-dasharray="25.5 23.5" stroke-linejoin="round"/>
</g>
<g>
<path d="M1653.2 719.7V512.1M1674.8 719.7V512.1M1696.3 719.7V512.1M1717.8 719.7V512.1M1739.3 719.7V512.1M1760.9 719.7V512.1M1782.4 719.7V512.1M1803.9 719.7V512.1M1825.5 719.7V512.1M1847 719.7V512.1M1868.5 719.7V512.1M1890.1 719.7V512.1M1911.6 719.7V512.1M1933.1 719.7V512.1M1954.6 719.7V512.1M1976.2 719.7V512.1M1636 702.8H1997.7M1636 681.6H1997.7M1636 660.4H1997.7M1636 639.3H1997.7M1636 618.1H1997.7M1636 596.9H1997.7M1636 575.7H1997.7M1636 554.5H1997.7M1636 533.3H1997.7" fill="none" stroke="#9a9a9a" stroke-width="1.5" stroke-dasharray="1.5 7.1" opacity="0.6"/>
<rect x="1631.7" y="512.1" width="366" height="211.9" fill="none" stroke="#303030" stroke-width="1.3"/>
<path d="M1653.2 724v-4.2M1653.2 512.1v4.2M1739.3 724v-4.2M1739.3 512.1v4.2M1825.5 724v-4.2M1825.5 512.1v4.2M1911.6 724v-4.2M1911.6 512.1v4.2M1997.7 724v-4.2M1997.7 512.1v4.2M1631.7 724h4.2M1997.7 724h-4.2M1631.7 618.1h4.2M1997.7 618.1h-4.2M1631.7 512.1h4.2M1997.7 512.1h-4.2" fill="none" stroke="#303030" stroke-width="1.4"/>
<g font-size="32.8" fill="#000">
<text x="1651.5" y="767.6" text-anchor="middle">2020</text>
<text x="1737.6" y="767.6" text-anchor="middle">2040</text>
<text x="1823.8" y="767.6" text-anchor="middle">2060</text>
<text x="1909.9" y="767.6" text-anchor="middle">2080</text>
<text x="1996" y="767.6" text-anchor="middle">2100</text>
<text x="1618.1" y="736.5" text-anchor="end">0</text>
<text x="1618.1" y="630.6" text-anchor="end">50</text>
<text x="1618.1" y="524.6" text-anchor="end">100</text>
</g>
<text x="1814.7" y="499.9" text-anchor="middle" font-weight="bold" font-size="35.35" clip-path="url(#tclip)">R8 Scandinavia</text>
<path d="M1705.7 605.5H1777.5V722.7H1705.7" fill="none" stroke="#000" stroke-width="3.4" stroke-dasharray="11.6 4.6"/>
<path d="M1705.7 722.7V605.5H1632.2V722.7H1707.4" fill="none" stroke="#000" stroke-width="3.4" stroke-linejoin="miter"/>
<g font-size="28.1">
<text x="1636.8" y="640.1" fill="#0a1f5c">-43%</text>
<text x="1709.5" y="640.1" fill="#0a1f5c">-47%</text>
<text x="1636.8" y="673.4" fill="#fb8208">-55%</text>
<text x="1709.5" y="673.4" fill="#fb8208">-57%</text>
<text x="1636.8" y="706.7" fill="#8e0000">-71%</text>
<text x="1709.5" y="706.7" fill="#8e0000">-73%</text>
</g>
<path d="M1631.7 512.1 L1636 513.3 L1640.3 514.9 L1644.6 518.2 L1648.9 520 L1653.2 520.8 L1657.5 523.4 L1661.8 523.5 L1666.1 522 L1670.5 524.6 L1674.8 527.1 L1679.1 529.1 L1683.4 530 L1687.7 531.2 L1692 532.8 L1696.3 534.8 L1700.6 535.9 L1704.9 535.6 L1709.2 538.6 L1713.5 538.9 L1717.8 539.6 L1722.1 543.3 L1726.4 546.5 L1730.7 546.5 L1735 548.6 L1739.3 550.2 L1743.7 550.7 L1748 550.9 L1752.3 552.3 L1756.6 551.7 L1760.9 552.3 L1765.2 552.8 L1769.5 554.5 L1773.8 555.9 L1778.1 557.3 L1782.4 559.2 L1786.7 561.7 L1791 562.3 L1795.3 563.7 L1799.6 563.8 L1803.9 566.9 L1808.2 567.8 L1812.5 568.5 L1816.9 571 L1821.2 572.1 L1825.5 574.8 L1829.8 576.8 L1834.1 577.2 L1838.4 579.2 L1842.7 579.7 L1847 580.6 L1851.3 581.8 L1855.6 583 L1859.9 585.5 L1864.2 586.4 L1868.5 587.2 L1872.8 586.7 L1877.1 588.4 L1881.4 589 L1885.7 589.5 L1890.1 591.2 L1894.4 590.8 L1898.7 591 L1903 592.4 L1907.3 593.7 L1911.6 593.9 L1915.9 593.5 L1920.2 594.4 L1924.5 594.3 L1928.8 594.7 L1933.1 595.4 L1937.4 597 L1941.7 597.2 L1946 598.2 L1950.3 598.3 L1954.6 599.1 L1958.9 599.8 L1963.3 601.1 L1967.6 602.2 L1971.9 601.7 L1976.2 601.7 L1980.5 602.3 L1984.8 602.4 L1989.1 603 L1993.4 602.6 L1997.7 603.2" fill="none" stroke="#0c2d64" stroke-width="6.2" stroke-linejoin="round"/>
<path d="M1631.7 512.1 L1636 513.4 L1640.3 515.1 L1644.6 518.5 L1648.9 520.3 L1653.2 521.1 L1657.5 523.8 L1661.8 524 L1666.1 522.7 L1670.5 525.8 L1674.8 528.6 L1679.1 530.5 L1683.4 531.1 L1687.7 532.3 L1692 534.3 L1696.3 537 L1700.6 537.8 L1704.9 536.9 L1709.2 540 L1713.5 540.3 L1717.8 542.4 L1722.1 545.9 L1726.4 549.2 L1730.7 549.2 L1735 551.9 L1739.3 553.8 L1743.7 555.4 L1748 555.1 L1752.3 555.9 L1756.6 554.6 L1760.9 556.3 L1765.2 555.7 L1769.5 557.3 L1773.8 558.6 L1778.1 560.5 L1782.4 562.3 L1786.7 564.3 L1791 565.5 L1795.3 566.7 L1799.6 567.1 L1803.9 570.2 L1808.2 571.2 L1812.5 571.9 L1816.9 573.9 L1821.2 575.2 L1825.5 578.3 L1829.8 579.4 L1834.1 580 L1838.4 582.9 L1842.7 583.7 L1847 584 L1851.3 585.5 L1855.6 586.7 L1859.9 590.7 L1864.2 591.4 L1868.5 592.7 L1872.8 592.2 L1877.1 593.6 L1881.4 594.2 L1885.7 594.8 L1890.1 597 L1894.4 596.7 L1898.7 598.5 L1903 599.2 L1907.3 600.7 L1911.6 600.3 L1915.9 600.2 L1920.2 600 L1924.5 601.4 L1928.8 602.1 L1933.1 602 L1937.4 602.5 L1941.7 602.8 L1946 605.4 L1950.3 606.4 L1954.6 608.3 L1958.9 608.4 L1963.3 608.6 L1967.6 610.2 L1971.9 609.9 L1976.2 609.4 L1980.5 610.2 L1984.8 610.6 L1989.1 612 L1993.4 611.4 L1997.7 611.7" fill="none" stroke="#0c2d64" stroke-width="6.6" stroke-dasharray="25.5 23.5" stroke-linejoin="round"/>
<path d="M1631.7 512.1 L1636 513.4 L1640.3 515 L1644.6 516 L1648.9 518 L1653.2 520.3 L1657.5 522.3 L1661.8 522.2 L1666.1 523.4 L1670.5 524.1 L1674.8 524.5 L1679.1 525.8 L1683.4 527.6 L1687.7 530.8 L1692 533.4 L1696.3 535.1 L1700.6 536 L1704.9 538 L1709.2 538.9 L1713.5 540.6 L1717.8 543.2 L1722.1 544.9 L1726.4 546.4 L1730.7 548.4 L1735 548.6 L1739.3 549 L1743.7 552.4 L1748 555 L1752.3 555.9 L1756.6 556.7 L1760.9 558.9 L1765.2 560.6 L1769.5 563.4 L1773.8 563.7 L1778.1 564.2 L1782.4 564 L1786.7 565.4 L1791 567.8 L1795.3 568.2 L1799.6 571.3 L1803.9 571.6 L1808.2 574.5 L1812.5 574.5 L1816.9 575.1 L1821.2 576.3 L1825.5 578 L1829.8 579.4 L1834.1 580.6 L1838.4 581.3 L1842.7 582.7 L1847 584.4 L1851.3 585.8 L1855.6 589.8 L1859.9 590.5 L1864.2 592.6 L1868.5 594 L1872.8 595.2 L1877.1 597 L1881.4 599.1 L1885.7 600.3 L1890.1 601.2 L1894.4 604 L1898.7 605.3 L1903 606.9 L1907.3 606.1 L1911.6 607.8 L1915.9 609.2 L1920.2 609.3 L1924.5 610.5 L1928.8 612.1 L1933.1 611.4 L1937.4 613 L1941.7 614.9 L1946 614.9 L1950.3 615.6 L1954.6 616.5 L1958.9 617.1 L1963.3 619.5 L1967.6 619.5 L1971.9 621.8 L1976.2 622.1 L1980.5 624.2 L1984.8 624.7 L1989.1 625.4 L1993.4 625.6 L1997.7 628.7" fill="none" stroke="#f7941d" stroke-width="6.2" stroke-linejoin="round"/>
<path d="M1631.7 512.1 L1636 513.5 L1640.3 515.2 L1644.6 516.2 L1648.9 518.2 L1653.2 520.3 L1657.5 522.7 L1661.8 522.5 L1666.1 523.7 L1670.5 524.2 L1674.8 525 L1679.1 526 L1683.4 528.4 L1687.7 531.9 L1692 534.5 L1696.3 536.5 L1700.6 536.1 L1704.9 538.3 L1709.2 540.1 L1713.5 541.3 L1717.8 544.5 L1722.1 545.6 L1726.4 546.7 L1730.7 548.2 L1735 549 L1739.3 549.8 L1743.7 553.8 L1748 557.1 L1752.3 558.5 L1756.6 559.6 L1760.9 561.7 L1765.2 563.3 L1769.5 565.8 L1773.8 566.2 L1778.1 567 L1782.4 566.8 L1786.7 567.9 L1791 570.6 L1795.3 570.5 L1799.6 575.6 L1803.9 576 L1808.2 578.5 L1812.5 577.5 L1816.9 578.7 L1821.2 578.3 L1825.5 580 L1829.8 580.4 L1834.1 581.9 L1838.4 583.9 L1842.7 585.2 L1847 587.3 L1851.3 588.6 L1855.6 592.9 L1859.9 592.8 L1864.2 594.5 L1868.5 596 L1872.8 597 L1877.1 598.8 L1881.4 601.8 L1885.7 602.9 L1890.1 604 L1894.4 607.5 L1898.7 609.4 L1903 610.1 L1907.3 609.1 L1911.6 609.8 L1915.9 612 L1920.2 612.6 L1924.5 614.1 L1928.8 615.6 L1933.1 614 L1937.4 616.5 L1941.7 618.2 L1946 618.1 L1950.3 619.5 L1954.6 619.9 L1958.9 621 L1963.3 624.5 L1967.6 624.2 L1971.9 625.8 L1976.2 626.5 L1980.5 628.3 L1984.8 629 L1989.1 629.9 L1993.4 630.1 L1997.7 632.9" fill="none" stroke="#f7941d" stroke-width="6.6" stroke-dasharray="25.5 23.5" stroke-linejoin="round"/>
<path d="M1631.7 512.1 L1636 513.5 L1640.3 515.2 L1644.6 518 L1648.9 520.2 L1653.2 521 L1657.5 520.3 L1661.8 521.8 L1666.1 523.7 L1670.5 525.7 L1674.8 527.3 L1679.1 528.8 L1683.4 530.2 L1687.7 530.3 L1692 533.1 L1696.3 536.3 L1700.6 539 L1704.9 541.1 L1709.2 541.7 L1713.5 542.4 L1717.8 541.9 L1722.1 545.5 L1726.4 546 L1730.7 547.7 L1735 548.7 L1739.3 550.8 L1743.7 551.8 L1748 553.7 L1752.3 554 L1756.6 556.9 L1760.9 560.1 L1765.2 561.2 L1769.5 565.3 L1773.8 567.2 L1778.1 568.4 L1782.4 570.7 L1786.7 573.9 L1791 574.7 L1795.3 576.6 L1799.6 580.8 L1803.9 583.2 L1808.2 585.5 L1812.5 587.1 L1816.9 590.8 L1821.2 591.8 L1825.5 592.5 L1829.8 594 L1834.1 594.8 L1838.4 597.1 L1842.7 598 L1847 598.8 L1851.3 599.4 L1855.6 602 L1859.9 603.3 L1864.2 605.9 L1868.5 606.3 L1872.8 608.8 L1877.1 612.1 L1881.4 613.8 L1885.7 615.5 L1890.1 617.4 L1894.4 621.2 L1898.7 623.6 L1903 626.5 L1907.3 627.2 L1911.6 628.2 L1915.9 631.3 L1920.2 633.9 L1924.5 636.9 L1928.8 638.7 L1933.1 640.6 L1937.4 642.6 L1941.7 645 L1946 646.9 L1950.3 649.2 L1954.6 651.1 L1958.9 652.8 L1963.3 653 L1967.6 654.7 L1971.9 657.1 L1976.2 658.2 L1980.5 661 L1984.8 660.4 L1989.1 660.9 L1993.4 661.4 L1997.7 662.6" fill="none" stroke="#960000" stroke-width="6.2" stroke-linejoin="round"/>
<path d="M1631.7 512.1 L1636 513.6 L1640.3 515.2 L1644.6 518 L1648.9 520.3 L1653.2 521.2 L1657.5 520.6 L1661.8 521.9 L1666.1 523.8 L1670.5 525.8 L1674.8 528.1 L1679.1 529.6 L1683.4 530.9 L1687.7 531.4 L1692 534.5 L1696.3 537.7 L1700.6 539.9 L1704.9 543.6 L1709.2 544.4 L1713.5 544.4 L1717.8 544.1 L1722.1 547.6 L1726.4 547.9 L1730.7 550.3 L1735 550.5 L1739.3 552.3 L1743.7 553.5 L1748 556.2 L1752.3 557 L1756.6 559.5 L1760.9 562 L1765.2 562.9 L1769.5 567.8 L1773.8 569.9 L1778.1 570.9 L1782.4 572.1 L1786.7 575.1 L1791 576 L1795.3 578.8 L1799.6 584 L1803.9 587 L1808.2 589.5 L1812.5 590.3 L1816.9 594.4 L1821.2 593.8 L1825.5 594.8 L1829.8 596.3 L1834.1 598.1 L1838.4 599.7 L1842.7 601 L1847 601.7 L1851.3 601.3 L1855.6 604.2 L1859.9 605.9 L1864.2 608.6 L1868.5 609.4 L1872.8 611.1 L1877.1 615 L1881.4 615.9 L1885.7 618.2 L1890.1 620.6 L1894.4 624.3 L1898.7 626.8 L1903 628.9 L1907.3 630.2 L1911.6 631.4 L1915.9 633.5 L1920.2 636.7 L1924.5 640.4 L1928.8 643.2 L1933.1 645.5 L1937.4 647 L1941.7 649.4 L1946 651.7 L1950.3 654.5 L1954.6 656 L1958.9 657.1 L1963.3 657.4 L1967.6 658.9 L1971.9 662.2 L1976.2 663.4 L1980.5 665.1 L1984.8 665.1 L1989.1 666.3 L1993.4 666.8 L1997.7 666.8" fill="none" stroke="#960000" stroke-width="6.6" stroke-dasharray="25.5 23.5" stroke-linejoin="round"/>
</g>
<g>
<path d="M146.2 1086.8V880.6M167.8 1086.8V880.6M189.3 1086.8V880.6M210.8 1086.8V880.6M232.3 1086.8V880.6M253.9 1086.8V880.6M275.4 1086.8V880.6M296.9 1086.8V880.6M318.5 1086.8V880.6M340 1086.8V880.6M361.5 1086.8V880.6M383.1 1086.8V880.6M404.6 1086.8V880.6M426.1 1086.8V880.6M447.6 1086.8V880.6M469.2 1086.8V880.6M129 1070H490.7M129 1049H490.7M129 1027.9H490.7M129 1006.9H490.7M129 985.8H490.7M129 964.8H490.7M129 943.8H490.7M129 922.7H490.7M129 901.7H490.7" fill="none" stroke="#9a9a9a" stroke-width="1.5" stroke-dasharray="1.5 7.1" opacity="0.6"/>
<rect x="124.7" y="880.6" width="366" height="210.4" fill="none" stroke="#303030" stroke-width="1.3"/>
<path d="M146.2 1091v-4.2M146.2 880.6v4.2M232.3 1091v-4.2M232.3 880.6v4.2M318.5 1091v-4.2M318.5 880.6v4.2M404.6 1091v-4.2M404.6 880.6v4.2M490.7 1091v-4.2M490.7 880.6v4.2M124.7 1091h4.2M490.7 1091h-4.2M124.7 985.8h4.2M490.7 985.8h-4.2M124.7 880.6h4.2M490.7 880.6h-4.2" fill="none" stroke="#303030" stroke-width="1.4"/>
<g font-size="32.8" fill="#000">
<text x="144.5" y="1134.6" text-anchor="middle">2020</text>
<text x="230.6" y="1134.6" text-anchor="middle">2040</text>
<text x="316.8" y="1134.6" text-anchor="middle">2060</text>
<text x="402.9" y="1134.6" text-anchor="middle">2080</text>
<text x="489" y="1134.6" text-anchor="middle">2100</text>
<text x="111.1" y="1103.5" text-anchor="end">0</text>
<text x="111.1" y="998.3" text-anchor="end">50</text>
<text x="111.1" y="893.1" text-anchor="end">100</text>
</g>
<text x="307.7" y="868.4" text-anchor="middle" font-weight="bold" font-size="35.35" clip-path="url(#tclip)">R9 Russian Arctic</text>
<path d="M198.7 972.5H270.5V1089.8H198.7" fill="none" stroke="#000" stroke-width="3.4" stroke-dasharray="11.6 4.6"/>
<path d="M198.7 1089.8V972.5H125.2V1089.8H200.4" fill="none" stroke="#000" stroke-width="3.4" stroke-linejoin="miter"/>
<g font-size="28.1">
<text x="129.8" y="1007.1" fill="#0a1f5c">-23%</text>
<text x="202.5" y="1007.1" fill="#0a1f5c">-26%</text>
<text x="129.8" y="1040.5" fill="#fb8208">-27%</text>
<text x="202.5" y="1040.5" fill="#fb8208">-30%</text>
<text x="129.8" y="1073.8" fill="#8e0000">-48%</text>
<text x="202.5" y="1073.8" fill="#8e0000">-51%</text>
</g>
<path d="M124.7 880.6 L129 881.5 L133.3 882.1 L137.6 883.4 L141.9 883.3 L146.2 883.8 L150.5 884.4 L154.8 885.3 L159.1 886.2 L163.5 886.2 L167.8 887 L172.1 887.1 L176.4 887.3 L180.7 887.3 L185 887.9 L189.3 888.7 L193.6 889.1 L197.9 889.6 L202.2 890.2 L206.5 890.7 L210.8 891.1 L215.1 891.7 L219.4 892 L223.7 892.6 L228 893.4 L232.3 894 L236.7 894.3 L241 895 L245.3 895 L249.6 896.3 L253.9 896.8 L258.2 898 L262.5 897.9 L266.8 899 L271.1 899.5 L275.4 900.6 L279.7 901.2 L284 901.9 L288.3 902.8 L292.6 903.3 L296.9 903.6 L301.2 904 L305.5 903.8 L309.9 904.2 L314.2 904.4 L318.5 904.6 L322.8 905.1 L327.1 906.2 L331.4 906.3 L335.7 907.6 L340 908.3 L344.3 909.8 L348.6 910.5 L352.9 910.6 L357.2 911.6 L361.5 911.7 L365.8 911.9 L370.1 912.6 L374.4 913.1 L378.7 913.6 L383.1 914.1 L387.4 915.2 L391.7 915.4 L396 915.9 L400.3 915.7 L404.6 917 L408.9 917.6 L413.2 917.8 L417.5 917.9 L421.8 918.7 L426.1 919 L430.4 919.2 L434.7 919.9 L439 920.8 L443.3 921.8 L447.6 922.1 L451.9 922.5 L456.3 923 L460.6 923.1 L464.9 924.4 L469.2 924.4 L473.5 925.3 L477.8 926.7 L482.1 927.5 L486.4 928.2 L490.7 929" fill="none" stroke="#0c2d64" stroke-width="6.2" stroke-linejoin="round"/>
<path d="M124.7 880.6 L129 881.6 L133.3 882.3 L137.6 883.6 L141.9 883.6 L146.2 884.1 L150.5 884.8 L154.8 885.6 L159.1 886.7 L163.5 886.9 L167.8 887.6 L172.1 887.8 L176.4 888.1 L180.7 888 L185 888.8 L189.3 889.6 L193.6 890.2 L197.9 891.1 L202.2 891.6 L206.5 892.2 L210.8 892.5 L215.1 893.4 L219.4 893.9 L223.7 894.9 L228 895.5 L232.3 896.1 L236.7 896.2 L241 896.8 L245.3 896.9 L249.6 898.8 L253.9 899.3 L258.2 900.9 L262.5 900.9 L266.8 902.1 L271.1 902.3 L275.4 903.6 L279.7 904.3 L284 904.9 L288.3 905.8 L292.6 906.4 L296.9 906.9 L301.2 906.8 L305.5 907.1 L309.9 907.7 L314.2 908.2 L318.5 908.3 L322.8 908.9 L327.1 910.1 L331.4 910.8 L335.7 911.6 L340 912.2 L344.3 913.7 L348.6 914.8 L352.9 914.9 L357.2 915.9 L361.5 916 L365.8 915.9 L370.1 916.7 L374.4 917.5 L378.7 917.9 L383.1 918.6 L387.4 920 L391.7 920.4 L396 920.8 L400.3 920.4 L404.6 921.6 L408.9 922.2 L413.2 922.4 L417.5 922.7 L421.8 923.6 L426.1 923.9 L430.4 924.4 L434.7 925.3 L439 926.4 L443.3 927.7 L447.6 928.4 L451.9 928.8 L456.3 929 L460.6 929.3 L464.9 930.9 L469.2 930.9 L473.5 931.9 L477.8 933.2 L482.1 933.9 L486.4 934.7 L490.7 935.4" fill="none" stroke="#0c2d64" stroke-width="6.6" stroke-dasharray="25.5 23.5" stroke-linejoin="round"/>
<path d="M124.7 880.6 L129 881.3 L133.3 882 L137.6 882.5 L141.9 883 L146.2 883.3 L150.5 883.8 L154.8 884.7 L159.1 885.6 L163.5 885.8 L167.8 886.7 L172.1 887.3 L176.4 887.7 L180.7 888.2 L185 889.1 L189.3 889.1 L193.6 889.6 L197.9 890.1 L202.2 890.5 L206.5 890.9 L210.8 891.1 L215.1 891.7 L219.4 892.4 L223.7 892.8 L228 893.5 L232.3 894.8 L236.7 895.3 L241 896.1 L245.3 896.7 L249.6 897.8 L253.9 898.2 L258.2 898.7 L262.5 899.2 L266.8 899.7 L271.1 899.8 L275.4 900.4 L279.7 901.5 L284 901.6 L288.3 902.1 L292.6 902.8 L296.9 903.8 L301.2 904.7 L305.5 905.5 L309.9 906.2 L314.2 906.7 L318.5 907.3 L322.8 908.4 L327.1 909 L331.4 909.7 L335.7 910.5 L340 911 L344.3 911.5 L348.6 911.8 L352.9 913.1 L357.2 914.1 L361.5 915.2 L365.8 916.2 L370.1 916.1 L374.4 916.7 L378.7 917.7 L383.1 918.3 L387.4 918.8 L391.7 919.2 L396 919.8 L400.3 920.9 L404.6 921.4 L408.9 922.8 L413.2 923.3 L417.5 923.5 L421.8 925 L426.1 926 L430.4 926.7 L434.7 927.4 L439 928.1 L443.3 928.7 L447.6 929.8 L451.9 930.1 L456.3 931.5 L460.6 932.1 L464.9 932.6 L469.2 933.1 L473.5 934 L477.8 935.5 L482.1 936 L486.4 936.2 L490.7 937.5" fill="none" stroke="#f7941d" stroke-width="6.2" stroke-linejoin="round"/>
<path d="M124.7 880.6 L129 881.4 L133.3 882.1 L137.6 882.8 L141.9 883.4 L146.2 883.7 L150.5 884.4 L154.8 885.3 L159.1 886.4 L163.5 886.6 L167.8 887.4 L172.1 888.4 L176.4 888.6 L180.7 889.4 L185 890.6 L189.3 890.8 L193.6 891.1 L197.9 891.7 L202.2 892.2 L206.5 892.6 L210.8 892.9 L215.1 893.6 L219.4 894.7 L223.7 895 L228 895.9 L232.3 897.3 L236.7 897.3 L241 898.6 L245.3 899.1 L249.6 900.5 L253.9 900.5 L258.2 901.1 L262.5 901.6 L266.8 901.8 L271.1 902.1 L275.4 903.2 L279.7 904.6 L284 904.9 L288.3 905.3 L292.6 905.9 L296.9 906.9 L301.2 907.9 L305.5 908.5 L309.9 909.6 L314.2 910.1 L318.5 911.1 L322.8 912.3 L327.1 913.1 L331.4 913.8 L335.7 914.9 L340 915.2 L344.3 915.6 L348.6 915.9 L352.9 917 L357.2 918.2 L361.5 919.2 L365.8 921.1 L370.1 921.1 L374.4 921.8 L378.7 922.6 L383.1 922.8 L387.4 923.2 L391.7 923.6 L396 924.7 L400.3 925.9 L404.6 926.6 L408.9 927.8 L413.2 928.3 L417.5 928.4 L421.8 930 L426.1 931.2 L430.4 932.2 L434.7 932.8 L439 933.8 L443.3 934.7 L447.6 935.5 L451.9 936.1 L456.3 937.7 L460.6 938 L464.9 938.5 L469.2 939.3 L473.5 940.6 L477.8 941.9 L482.1 942.3 L486.4 942.3 L490.7 943.8" fill="none" stroke="#f7941d" stroke-width="6.6" stroke-dasharray="25.5 23.5" stroke-linejoin="round"/>
<path d="M124.7 880.6 L129 881.4 L133.3 882 L137.6 883.1 L141.9 883.7 L146.2 883.9 L150.5 884.8 L154.8 885.2 L159.1 885.6 L163.5 886.2 L167.8 886.8 L172.1 887.2 L176.4 886.8 L180.7 887.1 L185 887.4 L189.3 888.2 L193.6 888.9 L197.9 890.2 L202.2 890.1 L206.5 890.4 L210.8 890.5 L215.1 890.4 L219.4 890.8 L223.7 891.7 L228 892.9 L232.3 893.1 L236.7 894 L241 894.6 L245.3 895.8 L249.6 896.6 L253.9 897.5 L258.2 898.2 L262.5 899 L266.8 900.1 L271.1 900.9 L275.4 902 L279.7 902.8 L284 903.8 L288.3 904.6 L292.6 906.3 L296.9 906.8 L301.2 907.8 L305.5 909.4 L309.9 910.6 L314.2 911.8 L318.5 913.7 L322.8 915.2 L327.1 917.5 L331.4 919.3 L335.7 921.3 L340 922.2 L344.3 924.4 L348.6 926.4 L352.9 927.5 L357.2 930.4 L361.5 932.4 L365.8 933.2 L370.1 934.9 L374.4 935.6 L378.7 937.2 L383.1 938.5 L387.4 940.4 L391.7 942.2 L396 943.7 L400.3 944.9 L404.6 946.2 L408.9 947.6 L413.2 949.2 L417.5 950.6 L421.8 951.7 L426.1 953.2 L430.4 954.7 L434.7 956.2 L439 958 L443.3 958.9 L447.6 961 L451.9 962.7 L456.3 964.8 L460.6 966.3 L464.9 969.6 L469.2 972.1 L473.5 974.4 L477.8 976.2 L482.1 977.7 L486.4 979.6 L490.7 981.6" fill="none" stroke="#960000" stroke-width="6.2" stroke-linejoin="round"/>
<path d="M124.7 880.6 L129 881.5 L133.3 882.2 L137.6 883.3 L141.9 884 L146.2 884.3 L150.5 885.2 L154.8 885.6 L159.1 886.2 L163.5 886.8 L167.8 887.5 L172.1 888.1 L176.4 888 L180.7 888.3 L185 888.9 L189.3 889.8 L193.6 890.5 L197.9 891.6 L202.2 891.5 L206.5 891.9 L210.8 892.3 L215.1 892.4 L219.4 892.6 L223.7 893.1 L228 894.1 L232.3 894.8 L236.7 896 L241 896.8 L245.3 897.8 L249.6 898.9 L253.9 899.7 L258.2 900.7 L262.5 901.9 L266.8 902.9 L271.1 904.2 L275.4 905.1 L279.7 906.1 L284 907 L288.3 908 L292.6 910.1 L296.9 910.2 L301.2 911.3 L305.5 913.2 L309.9 914.4 L314.2 915.3 L318.5 917.2 L322.8 918.4 L327.1 920.6 L331.4 922.8 L335.7 924.8 L340 925.7 L344.3 928.3 L348.6 930.3 L352.9 932 L357.2 934.3 L361.5 936.2 L365.8 937.5 L370.1 940 L374.4 940.6 L378.7 941.6 L383.1 943.1 L387.4 944.9 L391.7 946.7 L396 948.4 L400.3 949.9 L404.6 951.4 L408.9 952.8 L413.2 954.5 L417.5 955.8 L421.8 957.1 L426.1 958.5 L430.4 960.5 L434.7 962.2 L439 963.7 L443.3 964.7 L447.6 967 L451.9 969.1 L456.3 970.9 L460.6 972.7 L464.9 975.5 L469.2 978 L473.5 980.7 L477.8 983 L482.1 984.3 L486.4 985.8 L490.7 988" fill="none" stroke="#960000" stroke-width="6.6" stroke-dasharray="25.5 23.5" stroke-linejoin="round"/>
<text transform="translate(44 986) rotate(-90)" text-anchor="middle" font-size="35">V (%, vs. 2015)</text>
</g>
<g>
<path d="M648.3 1086.8V880.6M669.9 1086.8V880.6M691.4 1086.8V880.6M712.9 1086.8V880.6M734.4 1086.8V880.6M756 1086.8V880.6M777.5 1086.8V880.6M799 1086.8V880.6M820.6 1086.8V880.6M842.1 1086.8V880.6M863.6 1086.8V880.6M885.2 1086.8V880.6M906.7 1086.8V880.6M928.2 1086.8V880.6M949.7 1086.8V880.6M971.3 1086.8V880.6M631.1 1070H992.8M631.1 1049H992.8M631.1 1027.9H992.8M631.1 1006.9H992.8M631.1 985.8H992.8M631.1 964.8H992.8M631.1 943.8H992.8M631.1 922.7H992.8M631.1 901.7H992.8" fill="none" stroke="#9a9a9a" stroke-width="1.5" stroke-dasharray="1.5 7.1" opacity="0.6"/>
<rect x="626.8" y="880.6" width="366" height="210.4" fill="none" stroke="#303030" stroke-width="1.3"/>
<path d="M648.3 1091v-4.2M648.3 880.6v4.2M734.4 1091v-4.2M734.4 880.6v4.2M820.6 1091v-4.2M820.6 880.6v4.2M906.7 1091v-4.2M906.7 880.6v4.2M992.8 1091v-4.2M992.8 880.6v4.2M626.8 1091h4.2M992.8 1091h-4.2M626.8 985.8h4.2M992.8 985.8h-4.2M626.8 880.6h4.2M992.8 880.6h-4.2" fill="none" stroke="#303030" stroke-width="1.4"/>
<g font-size="32.8" fill="#000">
<text x="646.6" y="1134.6" text-anchor="middle">2020</text>
<text x="732.7" y="1134.6" text-anchor="middle">2040</text>
<text x="818.9" y="1134.6" text-anchor="middle">2060</text>
<text x="905" y="1134.6" text-anchor="middle">2080</text>
<text x="991.1" y="1134.6" text-anchor="middle">2100</text>
<text x="613.2" y="1103.5" text-anchor="end">0</text>
<text x="613.2" y="998.3" text-anchor="end">50</text>
<text x="613.2" y="893.1" text-anchor="end">100</text>
</g>
<text x="809.8" y="868.4" text-anchor="middle" font-weight="bold" font-size="35.35" clip-path="url(#tclip)">R10 North Asia</text>
<path d="M919.5 880.5H991.9V997.7H919.5" fill="none" stroke="#000" stroke-width="3.4" stroke-dasharray="11.6 4.6"/>
<path d="M919.5 997.7V880.5H847V997.7H921.2" fill="none" stroke="#000" stroke-width="3.4" stroke-linejoin="miter"/>
<g font-size="28.1">
<text x="851.6" y="914.1" fill="#0a1f5c">-74%</text>
<text x="923.3" y="914.1" fill="#0a1f5c">-75%</text>
<text x="851.6" y="947.4" fill="#fb8208">-84%</text>
<text x="923.3" y="947.4" fill="#fb8208">-85%</text>
<text x="851.6" y="980.7" fill="#8e0000">-92%</text>
<text x="923.3" y="980.7" fill="#8e0000">-93%</text>
</g>
<path d="M626.8 880.6 L631.1 885.1 L635.4 888.2 L639.7 887.7 L644 888.4 L648.3 889.6 L652.6 893.3 L656.9 897.3 L661.2 899.7 L665.6 902 L669.9 905.2 L674.2 907.6 L678.5 910.5 L682.8 914.7 L687.1 918.2 L691.4 920.5 L695.7 922.6 L700 926.7 L704.3 930.1 L708.6 933.6 L712.9 936.5 L717.2 941 L721.5 944.5 L725.8 946 L730.1 947.6 L734.4 951.4 L738.8 953.1 L743.1 956.4 L747.4 957.7 L751.7 960.2 L756 961.8 L760.3 963.8 L764.6 965 L768.9 966.6 L773.2 969.2 L777.5 971.9 L781.8 973.7 L786.1 975.4 L790.4 976.4 L794.7 978.4 L799 980.4 L803.3 983.2 L807.6 986.2 L812 988.1 L816.3 991.4 L820.6 993.2 L824.9 995.1 L829.2 996.9 L833.5 1000.1 L837.8 1001.1 L842.1 1003.4 L846.4 1005.2 L850.7 1006.4 L855 1008.3 L859.3 1011.2 L863.6 1011.5 L867.9 1012.3 L872.2 1013.9 L876.5 1014.9 L880.8 1015.4 L885.2 1017.2 L889.5 1019.5 L893.8 1019.6 L898.1 1019.9 L902.4 1022 L906.7 1022.5 L911 1023.7 L915.3 1024.7 L919.6 1026.3 L923.9 1027.4 L928.2 1027.1 L932.5 1027.5 L936.8 1028.6 L941.1 1029.3 L945.4 1029.4 L949.7 1029.9 L954 1030.8 L958.4 1031.6 L962.7 1032.1 L967 1032.3 L971.3 1032.7 L975.6 1032.4 L979.9 1032.6 L984.2 1035 L988.5 1035.5 L992.8 1036.3" fill="none" stroke="#0c2d64" stroke-width="6.2" stroke-linejoin="round"/>
<path d="M626.8 880.6 L631.1 885.2 L635.4 888.3 L639.7 887.7 L644 888.5 L648.3 889.6 L652.6 893.3 L656.9 897.4 L661.2 899.6 L665.6 902.2 L669.9 905.3 L674.2 907.4 L678.5 910.5 L682.8 914.8 L687.1 918.3 L691.4 920.8 L695.7 922.5 L700 927.2 L704.3 930.7 L708.6 934.1 L712.9 937 L717.2 941.4 L721.5 944.9 L725.8 946.6 L730.1 948 L734.4 952.8 L738.8 954.1 L743.1 957.4 L747.4 958.5 L751.7 960.6 L756 962.4 L760.3 964.4 L764.6 965.2 L768.9 966.7 L773.2 969.4 L777.5 972.8 L781.8 974.2 L786.1 975.6 L790.4 976.8 L794.7 978.9 L799 981.2 L803.3 983.8 L807.6 987.4 L812 989.8 L816.3 992.5 L820.6 994 L824.9 996.2 L829.2 998.7 L833.5 1002.1 L837.8 1002.8 L842.1 1004.5 L846.4 1006.2 L850.7 1007.5 L855 1008.9 L859.3 1011.4 L863.6 1011.9 L867.9 1013 L872.2 1014.3 L876.5 1015.6 L880.8 1017.1 L885.2 1019.4 L889.5 1021.5 L893.8 1020.9 L898.1 1021.1 L902.4 1023.2 L906.7 1023.6 L911 1024.5 L915.3 1025.9 L919.6 1027.6 L923.9 1028.5 L928.2 1028.3 L932.5 1028.3 L936.8 1029.8 L941.1 1031.1 L945.4 1031.3 L949.7 1031.9 L954 1032.2 L958.4 1033.7 L962.7 1034.1 L967 1033.9 L971.3 1034.3 L975.6 1034.2 L979.9 1034.3 L984.2 1036.8 L988.5 1037.7 L992.8 1038.5" fill="none" stroke="#0c2d64" stroke-width="6.6" stroke-dasharray="25.5 23.5" stroke-linejoin="round"/>
<path d="M626.8 880.6 L631.1 885.2 L635.4 888.5 L639.7 889.6 L644 890.6 L648.3 892.4 L652.6 894.1 L656.9 897 L661.2 899.5 L665.6 901.8 L669.9 905.2 L674.2 908 L678.5 910.5 L682.8 914 L687.1 917.6 L691.4 921 L695.7 923.6 L700 926.2 L704.3 930.2 L708.6 935.1 L712.9 937.6 L717.2 940.3 L721.5 943.2 L725.8 946.4 L730.1 950.4 L734.4 953.2 L738.8 957.5 L743.1 958.6 L747.4 959.7 L751.7 962.3 L756 965.6 L760.3 966.5 L764.6 968.3 L768.9 970.6 L773.2 973.8 L777.5 976.3 L781.8 979.8 L786.1 981.9 L790.4 985.6 L794.7 987.2 L799 989.2 L803.3 993.7 L807.6 996.1 L812 1000.1 L816.3 1001.8 L820.6 1004.9 L824.9 1007.3 L829.2 1009.5 L833.5 1012.1 L837.8 1012.8 L842.1 1014.5 L846.4 1015.7 L850.7 1016.9 L855 1018.6 L859.3 1020.5 L863.6 1023.7 L867.9 1024.6 L872.2 1026.3 L876.5 1027.3 L880.8 1027.4 L885.2 1028.6 L889.5 1031.4 L893.8 1032.7 L898.1 1034.1 L902.4 1036 L906.7 1037.1 L911 1038.4 L915.3 1040.3 L919.6 1043.2 L923.9 1044.7 L928.2 1045 L932.5 1046.2 L936.8 1047.1 L941.1 1047.8 L945.4 1049.8 L949.7 1051 L954 1051.6 L958.4 1053 L962.7 1053.6 L967 1053.9 L971.3 1054 L975.6 1055.9 L979.9 1056.8 L984.2 1057.6 L988.5 1057.2 L992.8 1057.4" fill="none" stroke="#f7941d" stroke-width="6.2" stroke-linejoin="round"/>
<path d="M626.8 880.6 L631.1 885.2 L635.4 888.6 L639.7 889.7 L644 890.9 L648.3 892.8 L652.6 894.6 L656.9 897.5 L661.2 900 L665.6 902 L669.9 905.3 L674.2 908 L678.5 910.4 L682.8 914.2 L687.1 918.1 L691.4 921.6 L695.7 924.3 L700 927.2 L704.3 930.8 L708.6 935.8 L712.9 938.9 L717.2 941.2 L721.5 944.2 L725.8 946.9 L730.1 950.4 L734.4 953.6 L738.8 958 L743.1 959.1 L747.4 960.1 L751.7 962.3 L756 965.5 L760.3 966.8 L764.6 969.1 L768.9 971.7 L773.2 974.6 L777.5 977.2 L781.8 980.8 L786.1 983 L790.4 987.3 L794.7 988.2 L799 990.5 L803.3 996 L807.6 997.9 L812 1001.9 L816.3 1003.5 L820.6 1006 L824.9 1008.7 L829.2 1010.4 L833.5 1013.5 L837.8 1014 L842.1 1015.5 L846.4 1017.2 L850.7 1018.2 L855 1019.6 L859.3 1021.5 L863.6 1024 L867.9 1024.7 L872.2 1026.7 L876.5 1028.3 L880.8 1028 L885.2 1028.9 L889.5 1032.2 L893.8 1033.4 L898.1 1034.2 L902.4 1036.3 L906.7 1038.5 L911 1039.7 L915.3 1042.5 L919.6 1044.9 L923.9 1046.6 L928.2 1047.4 L932.5 1048.7 L936.8 1049.4 L941.1 1049.8 L945.4 1051.1 L949.7 1052.2 L954 1052.5 L958.4 1054.6 L962.7 1055.3 L967 1056.6 L971.3 1056.3 L975.6 1058.2 L979.9 1058 L984.2 1059.1 L988.5 1059.1 L992.8 1059.5" fill="none" stroke="#f7941d" stroke-width="6.6" stroke-dasharray="25.5 23.5" stroke-linejoin="round"/>
<path d="M626.8 880.6 L631.1 885.3 L635.4 888.6 L639.7 888.9 L644 889.2 L648.3 891.3 L652.6 894.9 L656.9 897.1 L661.2 900.4 L665.6 904.1 L669.9 906.9 L674.2 911.4 L678.5 915.4 L682.8 918.7 L687.1 922 L691.4 926 L695.7 929.1 L700 933.8 L704.3 937 L708.6 940.8 L712.9 945.5 L717.2 948.6 L721.5 953.9 L725.8 955.8 L730.1 957.7 L734.4 961 L738.8 965 L743.1 968.1 L747.4 971.2 L751.7 973.8 L756 977.1 L760.3 979.9 L764.6 982.6 L768.9 986 L773.2 989.3 L777.5 992.1 L781.8 994.8 L786.1 997.9 L790.4 1000.6 L794.7 1003.5 L799 1006.2 L803.3 1009.9 L807.6 1013.2 L812 1014.8 L816.3 1018 L820.6 1020.5 L824.9 1023.1 L829.2 1025.3 L833.5 1028.3 L837.8 1029.4 L842.1 1030.5 L846.4 1032.5 L850.7 1035 L855 1037.6 L859.3 1039.2 L863.6 1041.4 L867.9 1043.4 L872.2 1045.1 L876.5 1047.3 L880.8 1048.7 L885.2 1051 L889.5 1053.1 L893.8 1054.4 L898.1 1055.5 L902.4 1058 L906.7 1059.2 L911 1061.2 L915.3 1061.9 L919.6 1062.1 L923.9 1064.2 L928.2 1065.4 L932.5 1066.1 L936.8 1067.7 L941.1 1068.3 L945.4 1068.6 L949.7 1069.2 L954 1069.8 L958.4 1070.1 L962.7 1071.1 L967 1071.4 L971.3 1071.3 L975.6 1072.2 L979.9 1073.2 L984.2 1073.3 L988.5 1073.9 L992.8 1074.2" fill="none" stroke="#960000" stroke-width="6.2" stroke-linejoin="round"/>
<path d="M626.8 880.6 L631.1 885.3 L635.4 888.7 L639.7 888.8 L644 889.2 L648.3 891.4 L652.6 895.1 L656.9 897.2 L661.2 901 L665.6 904.7 L669.9 907.6 L674.2 911.9 L678.5 915.7 L682.8 918.7 L687.1 922.5 L691.4 926.4 L695.7 929.6 L700 935.2 L704.3 937.9 L708.6 941.6 L712.9 945.7 L717.2 949 L721.5 954.5 L725.8 955.8 L730.1 958.1 L734.4 962.7 L738.8 966.9 L743.1 970.2 L747.4 973.3 L751.7 975.6 L756 979.1 L760.3 981 L764.6 983.4 L768.9 987 L773.2 990.3 L777.5 992.8 L781.8 995.6 L786.1 999.5 L790.4 1002.1 L794.7 1005 L799 1008.4 L803.3 1011.7 L807.6 1014.9 L812 1016.5 L816.3 1018.9 L820.6 1022 L824.9 1024.7 L829.2 1027.4 L833.5 1030.4 L837.8 1031.3 L842.1 1032.6 L846.4 1034.5 L850.7 1037.4 L855 1039.8 L859.3 1041.4 L863.6 1043.6 L867.9 1045.1 L872.2 1047.3 L876.5 1049.1 L880.8 1049.9 L885.2 1051.6 L889.5 1054.1 L893.8 1055.9 L898.1 1058 L902.4 1060.8 L906.7 1062 L911 1064.3 L915.3 1064.7 L919.6 1064.9 L923.9 1066.4 L928.2 1067.6 L932.5 1068.9 L936.8 1070.7 L941.1 1071.4 L945.4 1072 L949.7 1072.1 L954 1072.6 L958.4 1072.3 L962.7 1073.5 L967 1073.7 L971.3 1073.5 L975.6 1074.9 L979.9 1075.3 L984.2 1075.7 L988.5 1076 L992.8 1076.3" fill="none" stroke="#960000" stroke-width="6.6" stroke-dasharray="25.5 23.5" stroke-linejoin="round"/>
</g>
<g>
<path d="M1151.1 1086.8V880.6M1172.7 1086.8V880.6M1194.2 1086.8V880.6M1215.7 1086.8V880.6M1237.2 1086.8V880.6M1258.8 1086.8V880.6M1280.3 1086.8V880.6M1301.8 1086.8V880.6M1323.4 1086.8V880.6M1344.9 1086.8V880.6M1366.4 1086.8V880.6M1388 1086.8V880.6M1409.5 1086.8V880.6M1431 1086.8V880.6M1452.5 1086.8V880.6M1474.1 1086.8V880.6M1133.9 1070H1495.6M1133.9 1049H1495.6M1133.9 1027.9H1495.6M1133.9 1006.9H1495.6M1133.9 985.8H1495.6M1133.9 964.8H1495.6M1133.9 943.8H1495.6M1133.9 922.7H1495.6M1133.9 901.7H1495.6" fill="none" stroke="#9a9a9a" stroke-width="1.5" stroke-dasharray="1.5 7.1" opacity="0.6"/>
<rect x="1129.6" y="880.6" width="366" height="210.4" fill="none" stroke="#303030" stroke-width="1.3"/>
<path d="M1151.1 1091v-4.2M1151.1 880.6v4.2M1237.2 1091v-4.2M1237.2 880.6v4.2M1323.4 1091v-4.2M1323.4 880.6v4.2M1409.5 1091v-4.2M1409.5 880.6v4.2M1495.6 1091v-4.2M1495.6 880.6v4.2M1129.6 1091h4.2M1495.6 1091h-4.2M1129.6 985.8h4.2M1495.6 985.8h-4.2M1129.6 880.6h4.2M1495.6 880.6h-4.2" fill="none" stroke="#303030" stroke-width="1.4"/>
<g font-size="32.8" fill="#000">
<text x="1149.4" y="1134.6" text-anchor="middle">2020</text>
<text x="1235.5" y="1134.6" text-anchor="middle">2040</text>
<text x="1321.7" y="1134.6" text-anchor="middle">2060</text>
<text x="1407.8" y="1134.6" text-anchor="middle">2080</text>
<text x="1493.9" y="1134.6" text-anchor="middle">2100</text>
<text x="1116" y="1103.5" text-anchor="end">0</text>
<text x="1116" y="998.3" text-anchor="end">50</text>
<text x="1116" y="893.1" text-anchor="end">100</text>
</g>
<text x="1312.6" y="868.4" text-anchor="middle" font-weight="bold" font-size="35.35" clip-path="url(#tclip)">R11 Central Europe</text>
<path d="M1422.3 880.5H1494.7V997.7H1422.3" fill="none" stroke="#000" stroke-width="3.4" stroke-dasharray="11.6 4.6"/>
<path d="M1422.3 997.7V880.5H1349.8V997.7H1424" fill="none" stroke="#000" stroke-width="3.4" stroke-linejoin="miter"/>
<g font-size="28.1">
<text x="1354.4" y="914.1" fill="#0a1f5c">-78%</text>
<text x="1426.1" y="914.1" fill="#0a1f5c">-78%</text>
<text x="1354.4" y="947.4" fill="#fb8208">-91%</text>
<text x="1426.1" y="947.4" fill="#fb8208">-91%</text>
<text x="1354.4" y="980.7" fill="#8e0000">-99%</text>
<text x="1426.1" y="980.7" fill="#8e0000">-99%</text>
</g>
<path d="M1129.6 880.6 L1133.9 886.5 L1138.2 892.9 L1142.5 899.4 L1146.8 901.6 L1151.1 903 L1155.4 904.5 L1159.7 908.9 L1164 911.3 L1168.4 914.1 L1172.7 915.3 L1177 919.7 L1181.3 922.2 L1185.6 923.1 L1189.9 926 L1194.2 928.3 L1198.5 931.2 L1202.8 935.7 L1207.1 941.4 L1211.4 944.1 L1215.7 946.9 L1220 950.2 L1224.3 952.3 L1228.6 953.9 L1232.9 956.1 L1237.2 960.3 L1241.6 962.6 L1245.9 963.9 L1250.2 968.2 L1254.5 970.7 L1258.8 975 L1263.1 978.3 L1267.4 981 L1271.7 984.8 L1276 988.2 L1280.3 989.5 L1284.6 994.1 L1288.9 994.8 L1293.2 996.7 L1297.5 999.9 L1301.8 1002.3 L1306.1 1001.6 L1310.4 1002.9 L1314.8 1004.8 L1319.1 1006.4 L1323.4 1008.9 L1327.7 1011.9 L1332 1013.2 L1336.3 1013.4 L1340.6 1015.1 L1344.9 1016.4 L1349.2 1017.9 L1353.5 1019.9 L1357.8 1024.3 L1362.1 1024.7 L1366.4 1025 L1370.7 1025.9 L1375 1028.2 L1379.3 1030.2 L1383.6 1029.4 L1388 1032 L1392.3 1032.1 L1396.6 1032.7 L1400.9 1033.7 L1405.2 1034.7 L1409.5 1033.4 L1413.8 1036.7 L1418.1 1036.2 L1422.4 1039 L1426.7 1037 L1431 1037.4 L1435.3 1039.7 L1439.6 1040.4 L1443.9 1040.9 L1448.2 1041.7 L1452.5 1042.4 L1456.8 1043.4 L1461.2 1042.1 L1465.5 1042.9 L1469.8 1041.3 L1474.1 1041.1 L1478.4 1043.8 L1482.7 1044.9 L1487 1044.2 L1491.3 1044.8 L1495.6 1044.8" fill="none" stroke="#0c2d64" stroke-width="6.2" stroke-linejoin="round"/>
<path d="M1129.6 880.6 L1133.9 886.5 L1138.2 892.9 L1142.5 899.3 L1146.8 901.4 L1151.1 903.1 L1155.4 904.7 L1159.7 908.9 L1164 911.3 L1168.4 913.8 L1172.7 914.7 L1177 919.2 L1181.3 922.2 L1185.6 923.5 L1189.9 926.6 L1194.2 928.6 L1198.5 931.4 L1202.8 935.3 L1207.1 940.8 L1211.4 943.9 L1215.7 947.1 L1220 950.7 L1224.3 952.4 L1228.6 954.4 L1232.9 956 L1237.2 960.4 L1241.6 962.9 L1245.9 964.9 L1250.2 970.1 L1254.5 971.4 L1258.8 976.2 L1263.1 979.6 L1267.4 982.3 L1271.7 986.2 L1276 988.3 L1280.3 988.5 L1284.6 993.5 L1288.9 995.1 L1293.2 995.7 L1297.5 999 L1301.8 1002.5 L1306.1 1001.1 L1310.4 1001.7 L1314.8 1003.7 L1319.1 1005.4 L1323.4 1008.5 L1327.7 1010.3 L1332 1011.7 L1336.3 1012.2 L1340.6 1014.9 L1344.9 1015.7 L1349.2 1017 L1353.5 1019.5 L1357.8 1023.8 L1362.1 1024.7 L1366.4 1024.2 L1370.7 1025.7 L1375 1026.7 L1379.3 1029.9 L1383.6 1028.6 L1388 1031.1 L1392.3 1030.7 L1396.6 1031.8 L1400.9 1032.8 L1405.2 1034 L1409.5 1032.6 L1413.8 1036.2 L1418.1 1036.1 L1422.4 1039.8 L1426.7 1037.3 L1431 1038.3 L1435.3 1040.3 L1439.6 1041.2 L1443.9 1042.3 L1448.2 1042 L1452.5 1041.4 L1456.8 1041.7 L1461.2 1040.5 L1465.5 1043.2 L1469.8 1041.8 L1474.1 1042 L1478.4 1044.5 L1482.7 1045 L1487 1043.2 L1491.3 1044.6 L1495.6 1044.8" fill="none" stroke="#0c2d64" stroke-width="6.6" stroke-dasharray="25.5 23.5" stroke-linejoin="round"/>
<path d="M1129.6 880.6 L1133.9 886.1 L1138.2 892.3 L1142.5 897.9 L1146.8 901.4 L1151.1 902.8 L1155.4 906 L1159.7 908.5 L1164 912.7 L1168.4 916.8 L1172.7 921.8 L1177 925.1 L1181.3 926.5 L1185.6 929.6 L1189.9 932.9 L1194.2 935.7 L1198.5 939.7 L1202.8 945.4 L1207.1 950.3 L1211.4 954.5 L1215.7 957.3 L1220 958.6 L1224.3 963 L1228.6 965.7 L1232.9 968.8 L1237.2 971.2 L1241.6 976.1 L1245.9 978.2 L1250.2 983.9 L1254.5 985.9 L1258.8 987 L1263.1 989.5 L1267.4 991.8 L1271.7 994.7 L1276 997 L1280.3 1001.6 L1284.6 1006 L1288.9 1005.5 L1293.2 1006.4 L1297.5 1008.8 L1301.8 1010.9 L1306.1 1013 L1310.4 1015.5 L1314.8 1017.7 L1319.1 1018.6 L1323.4 1022.3 L1327.7 1025.4 L1332 1027 L1336.3 1028.3 L1340.6 1030.8 L1344.9 1031.6 L1349.2 1033.3 L1353.5 1036.2 L1357.8 1038.9 L1362.1 1041.5 L1366.4 1041.8 L1370.7 1043.8 L1375 1047 L1379.3 1048.5 L1383.6 1050.6 L1388 1051.3 L1392.3 1052.7 L1396.6 1054.7 L1400.9 1056.6 L1405.2 1060.1 L1409.5 1059.4 L1413.8 1060.6 L1418.1 1059.5 L1422.4 1060.3 L1426.7 1061.9 L1431 1061.8 L1435.3 1062.4 L1439.6 1063.2 L1443.9 1062.2 L1448.2 1064.2 L1452.5 1064.8 L1456.8 1066.2 L1461.2 1066.1 L1465.5 1068.1 L1469.8 1068.5 L1474.1 1069.2 L1478.4 1069.4 L1482.7 1070.5 L1487 1070.7 L1491.3 1071.2 L1495.6 1072.1" fill="none" stroke="#f7941d" stroke-width="6.2" stroke-linejoin="round"/>
<path d="M1129.6 880.6 L1133.9 886.1 L1138.2 892.2 L1142.5 897.6 L1146.8 901.3 L1151.1 902.7 L1155.4 906.1 L1159.7 908.6 L1164 912.8 L1168.4 917.1 L1172.7 922.1 L1177 925.4 L1181.3 927.1 L1185.6 929.8 L1189.9 933.3 L1194.2 935.8 L1198.5 938.7 L1202.8 945.6 L1207.1 950.4 L1211.4 954.6 L1215.7 957.4 L1220 958.5 L1224.3 962.4 L1228.6 965.3 L1232.9 968.2 L1237.2 970.9 L1241.6 975.8 L1245.9 977.7 L1250.2 984.3 L1254.5 984.9 L1258.8 985.9 L1263.1 988.5 L1267.4 991.8 L1271.7 994.7 L1276 996.6 L1280.3 1001.9 L1284.6 1007.6 L1288.9 1005.6 L1293.2 1006.5 L1297.5 1009.5 L1301.8 1009.2 L1306.1 1011.8 L1310.4 1013.8 L1314.8 1017.6 L1319.1 1018.9 L1323.4 1022.3 L1327.7 1026.9 L1332 1028.2 L1336.3 1028.2 L1340.6 1030.4 L1344.9 1032.4 L1349.2 1032.7 L1353.5 1035.4 L1357.8 1036.5 L1362.1 1039.6 L1366.4 1039.5 L1370.7 1042.3 L1375 1045.7 L1379.3 1046.9 L1383.6 1049.9 L1388 1050 L1392.3 1053.2 L1396.6 1055.3 L1400.9 1056.8 L1405.2 1059.9 L1409.5 1059.5 L1413.8 1060.1 L1418.1 1059.2 L1422.4 1059.7 L1426.7 1060.9 L1431 1060.8 L1435.3 1061.1 L1439.6 1061.3 L1443.9 1060.8 L1448.2 1063.9 L1452.5 1064.4 L1456.8 1065.8 L1461.2 1065 L1465.5 1066.7 L1469.8 1067.4 L1474.1 1068.4 L1478.4 1069 L1482.7 1070.5 L1487 1070.9 L1491.3 1071.4 L1495.6 1072.1" fill="none" stroke="#f7941d" stroke-width="6.6" stroke-dasharray="25.5 23.5" stroke-linejoin="round"/>
<path d="M1129.6 880.6 L1133.9 886.2 L1138.2 892.6 L1142.5 896.7 L1146.8 899.1 L1151.1 899.9 L1155.4 902.1 L1159.7 904.2 L1164 905.6 L1168.4 908.9 L1172.7 911.2 L1177 914.7 L1181.3 919.6 L1185.6 924 L1189.9 929.1 L1194.2 933.9 L1198.5 937.7 L1202.8 943.1 L1207.1 947.8 L1211.4 952.3 L1215.7 954 L1220 958 L1224.3 961.1 L1228.6 964.6 L1232.9 968 L1237.2 971.6 L1241.6 974.6 L1245.9 979.5 L1250.2 985.3 L1254.5 987.5 L1258.8 993.1 L1263.1 997.3 L1267.4 1000.9 L1271.7 1008.6 L1276 1015 L1280.3 1018.1 L1284.6 1023.4 L1288.9 1026 L1293.2 1028.4 L1297.5 1030.5 L1301.8 1030.7 L1306.1 1033.6 L1310.4 1035 L1314.8 1037.2 L1319.1 1039.5 L1323.4 1040.1 L1327.7 1043.2 L1332 1047.9 L1336.3 1049.6 L1340.6 1051.6 L1344.9 1053.2 L1349.2 1057.1 L1353.5 1060.8 L1357.8 1061.9 L1362.1 1063 L1366.4 1065 L1370.7 1066.8 L1375 1069.7 L1379.3 1070.8 L1383.6 1072.4 L1388 1073.3 L1392.3 1075.1 L1396.6 1076.5 L1400.9 1078.2 L1405.2 1078.5 L1409.5 1079.5 L1413.8 1080.2 L1418.1 1081.4 L1422.4 1082.2 L1426.7 1082.6 L1431 1083 L1435.3 1084.1 L1439.6 1084.6 L1443.9 1084.8 L1448.2 1085.3 L1452.5 1085.9 L1456.8 1086.4 L1461.2 1086.5 L1465.5 1087 L1469.8 1087.5 L1474.1 1087.6 L1478.4 1088 L1482.7 1088.2 L1487 1088.3 L1491.3 1088.9 L1495.6 1088.9" fill="none" stroke="#960000" stroke-width="6.2" stroke-linejoin="round"/>
<path d="M1129.6 880.6 L1133.9 886.1 L1138.2 892.5 L1142.5 896.7 L1146.8 899.1 L1151.1 899.6 L1155.4 902.1 L1159.7 904.2 L1164 905.7 L1168.4 908.8 L1172.7 910.6 L1177 914.4 L1181.3 918.9 L1185.6 923.3 L1189.9 929.2 L1194.2 933.7 L1198.5 937.2 L1202.8 943.7 L1207.1 946.8 L1211.4 950.9 L1215.7 953.7 L1220 957.5 L1224.3 960.3 L1228.6 964.6 L1232.9 966.9 L1237.2 972 L1241.6 974.4 L1245.9 978.4 L1250.2 985.1 L1254.5 988.3 L1258.8 994.6 L1263.1 997.8 L1267.4 1001.6 L1271.7 1009.5 L1276 1015 L1280.3 1018 L1284.6 1022.6 L1288.9 1025.7 L1293.2 1027.8 L1297.5 1029.9 L1301.8 1029.7 L1306.1 1033.2 L1310.4 1034.1 L1314.8 1036 L1319.1 1038.4 L1323.4 1040.3 L1327.7 1042.9 L1332 1047.7 L1336.3 1049.7 L1340.6 1052.3 L1344.9 1054.7 L1349.2 1058 L1353.5 1061.6 L1357.8 1062.6 L1362.1 1062.9 L1366.4 1064.4 L1370.7 1066.4 L1375 1069.8 L1379.3 1070.9 L1383.6 1072.8 L1388 1073.7 L1392.3 1075.4 L1396.6 1076.4 L1400.9 1078.3 L1405.2 1078.7 L1409.5 1079.9 L1413.8 1080.9 L1418.1 1081.5 L1422.4 1082.5 L1426.7 1083.1 L1431 1083.3 L1435.3 1084.3 L1439.6 1084.7 L1443.9 1084.8 L1448.2 1085.2 L1452.5 1085.8 L1456.8 1086.5 L1461.2 1086.4 L1465.5 1086.9 L1469.8 1087.3 L1474.1 1087.6 L1478.4 1087.8 L1482.7 1088.1 L1487 1088.3 L1491.3 1088.9 L1495.6 1088.9" fill="none" stroke="#960000" stroke-width="6.6" stroke-dasharray="25.5 23.5" stroke-linejoin="round"/>
</g>
<g>
<path d="M1653.2 1086.8V880.6M1674.8 1086.8V880.6M1696.3 1086.8V880.6M1717.8 1086.8V880.6M1739.3 1086.8V880.6M1760.9 1086.8V880.6M1782.4 1086.8V880.6M1803.9 1086.8V880.6M1825.5 1086.8V880.6M1847 1086.8V880.6M1868.5 1086.8V880.6M1890.1 1086.8V880.6M1911.6 1086.8V880.6M1933.1 1086.8V880.6M1954.6 1086.8V880.6M1976.2 1086.8V880.6M1636 1070H1997.7M1636 1049H1997.7M1636 1027.9H1997.7M1636 1006.9H1997.7M1636 985.8H1997.7M1636 964.8H1997.7M1636 943.8H1997.7M1636 922.7H1997.7M1636 901.7H1997.7" fill="none" stroke="#9a9a9a" stroke-width="1.5" stroke-dasharray="1.5 7.1" opacity="0.6"/>
<rect x="1631.7" y="880.6" width="366" height="210.4" fill="none" stroke="#303030" stroke-width="1.3"/>
<path d="M1653.2 1091v-4.2M1653.2 880.6v4.2M1739.3 1091v-4.2M1739.3 880.6v4.2M1825.5 1091v-4.2M1825.5 880.6v4.2M1911.6 1091v-4.2M1911.6 880.6v4.2M1997.7 1091v-4.2M1997.7 880.6v4.2M1631.7 1091h4.2M1997.7 1091h-4.2M1631.7 985.8h4.2M1997.7 985.8h-4.2M1631.7 880.6h4.2M1997.7 880.6h-4.2" fill="none" stroke="#303030" stroke-width="1.4"/>
<g font-size="32.8" fill="#000">
<text x="1651.5" y="1134.6" text-anchor="middle">2020</text>
<text x="1737.6" y="1134.6" text-anchor="middle">2040</text>
<text x="1823.8" y="1134.6" text-anchor="middle">2060</text>
<text x="1909.9" y="1134.6" text-anchor="middle">2080</text>
<text x="1996" y="1134.6" text-anchor="middle">2100</text>
<text x="1618.1" y="1103.5" text-anchor="end">0</text>
<text x="1618.1" y="998.3" text-anchor="end">50</text>
<text x="1618.1" y="893.1" text-anchor="end">100</text>
</g>
<text x="1814.7" y="868.4" text-anchor="middle" font-weight="bold" font-size="35.35" clip-path="url(#tclip)">R12 Caucasus &amp; Middle East</text>
<path d="M1924.4 881.3H1996.8V998.5H1924.4" fill="none" stroke="#000" stroke-width="3.4" stroke-dasharray="11.6 4.6"/>
<path d="M1924.4 998.5V881.3H1851.9V998.5H1926.1" fill="none" stroke="#000" stroke-width="3.4" stroke-linejoin="miter"/>
<g font-size="28.1">
<text x="1856.5" y="914.9" fill="#0a1f5c">-76%</text>
<text x="1928.2" y="914.9" fill="#0a1f5c">-77%</text>
<text x="1856.5" y="948.2" fill="#fb8208">-88%</text>
<text x="1928.2" y="948.2" fill="#fb8208">-89%</text>
<text x="1856.5" y="981.5" fill="#8e0000">-97%</text>
<text x="1928.2" y="981.5" fill="#8e0000">-98%</text>
</g>
<path d="M1631.7 880.6 L1636 884.6 L1640.3 888.5 L1644.6 891.9 L1648.9 895.1 L1653.2 899.4 L1657.5 905.1 L1661.8 910.1 L1666.1 914.4 L1670.5 919.7 L1674.8 923.8 L1679.1 928.3 L1683.4 934.5 L1687.7 939.9 L1692 944.9 L1696.3 948.7 L1700.6 951.2 L1704.9 955.9 L1709.2 959.5 L1713.5 960.3 L1717.8 963.5 L1722.1 966.3 L1726.4 970.8 L1730.7 974.2 L1735 978.1 L1739.3 979.7 L1743.7 981.2 L1748 982.7 L1752.3 985.2 L1756.6 988.6 L1760.9 989.2 L1765.2 991 L1769.5 993 L1773.8 994.6 L1778.1 996.3 L1782.4 998.4 L1786.7 999.8 L1791 1002 L1795.3 1003.9 L1799.6 1006.4 L1803.9 1010.4 L1808.2 1012.2 L1812.5 1014.5 L1816.9 1016.5 L1821.2 1018.1 L1825.5 1019.5 L1829.8 1020.3 L1834.1 1022.4 L1838.4 1023.4 L1842.7 1023.3 L1847 1022.2 L1851.3 1022.4 L1855.6 1023.6 L1859.9 1024.2 L1864.2 1025.3 L1868.5 1026.8 L1872.8 1027.4 L1877.1 1029.7 L1881.4 1030.4 L1885.7 1031.5 L1890.1 1031.4 L1894.4 1033 L1898.7 1032.8 L1903 1033.8 L1907.3 1035.2 L1911.6 1034.1 L1915.9 1035.6 L1920.2 1036.9 L1924.5 1038.2 L1928.8 1038.5 L1933.1 1038.8 L1937.4 1036.7 L1941.7 1037.5 L1946 1039.9 L1950.3 1041 L1954.6 1043.1 L1958.9 1043 L1963.3 1042.5 L1967.6 1041.2 L1971.9 1041.5 L1976.2 1040.2 L1980.5 1039.5 L1984.8 1038.8 L1989.1 1038.2 L1993.4 1040.1 L1997.7 1040.6" fill="none" stroke="#0c2d64" stroke-width="6.2" stroke-linejoin="round"/>
<path d="M1631.7 880.6 L1636 884.7 L1640.3 888.5 L1644.6 891.7 L1648.9 895.1 L1653.2 899 L1657.5 904.9 L1661.8 909.8 L1666.1 914 L1670.5 919.5 L1674.8 923.4 L1679.1 927.8 L1683.4 934.6 L1687.7 939.7 L1692 944.9 L1696.3 948.7 L1700.6 951.1 L1704.9 956.8 L1709.2 960.4 L1713.5 960.3 L1717.8 962.9 L1722.1 965.9 L1726.4 971.4 L1730.7 974.9 L1735 977.2 L1739.3 980.2 L1743.7 981.9 L1748 983.8 L1752.3 986.2 L1756.6 988.5 L1760.9 990 L1765.2 991.2 L1769.5 993.9 L1773.8 994.4 L1778.1 996.5 L1782.4 998.4 L1786.7 1001.1 L1791 1003.9 L1795.3 1005.5 L1799.6 1008.2 L1803.9 1011.8 L1808.2 1014.9 L1812.5 1016.6 L1816.9 1019 L1821.2 1021.5 L1825.5 1022.5 L1829.8 1023.4 L1834.1 1025.6 L1838.4 1026.2 L1842.7 1025.5 L1847 1024.3 L1851.3 1023.1 L1855.6 1025.1 L1859.9 1026.9 L1864.2 1028 L1868.5 1028.5 L1872.8 1028.6 L1877.1 1031.5 L1881.4 1033.2 L1885.7 1034 L1890.1 1033.5 L1894.4 1035 L1898.7 1034.2 L1903 1034.8 L1907.3 1036.4 L1911.6 1035.3 L1915.9 1036.8 L1920.2 1039.1 L1924.5 1038.6 L1928.8 1040 L1933.1 1040.6 L1937.4 1036.7 L1941.7 1037.7 L1946 1040.2 L1950.3 1042.4 L1954.6 1043.5 L1958.9 1045 L1963.3 1044 L1967.6 1042.3 L1971.9 1042.5 L1976.2 1041.1 L1980.5 1041.4 L1984.8 1041 L1989.1 1041.5 L1993.4 1042.5 L1997.7 1042.7" fill="none" stroke="#0c2d64" stroke-width="6.6" stroke-dasharray="25.5 23.5" stroke-linejoin="round"/>
<path d="M1631.7 880.6 L1636 884.7 L1640.3 888.7 L1644.6 893 L1648.9 897.3 L1653.2 902.2 L1657.5 905 L1661.8 908.2 L1666.1 913.3 L1670.5 917.7 L1674.8 920.8 L1679.1 925.4 L1683.4 930.1 L1687.7 933.1 L1692 940.6 L1696.3 945.2 L1700.6 948.4 L1704.9 951.8 L1709.2 955.9 L1713.5 959.9 L1717.8 963.8 L1722.1 968.9 L1726.4 972.6 L1730.7 978 L1735 982.7 L1739.3 986.4 L1743.7 989.6 L1748 994.3 L1752.3 996.6 L1756.6 1001.6 L1760.9 1004.3 L1765.2 1007.1 L1769.5 1008 L1773.8 1009.6 L1778.1 1011.3 L1782.4 1011.6 L1786.7 1015.2 L1791 1017.2 L1795.3 1016.5 L1799.6 1018.5 L1803.9 1020 L1808.2 1021.6 L1812.5 1023.5 L1816.9 1026.5 L1821.2 1027.1 L1825.5 1028.9 L1829.8 1029.8 L1834.1 1032 L1838.4 1033.8 L1842.7 1034.1 L1847 1035.1 L1851.3 1036.7 L1855.6 1037.3 L1859.9 1036.6 L1864.2 1038.5 L1868.5 1041.2 L1872.8 1041.5 L1877.1 1045 L1881.4 1044 L1885.7 1045.7 L1890.1 1046.6 L1894.4 1047.1 L1898.7 1049.2 L1903 1051.4 L1907.3 1051.7 L1911.6 1051 L1915.9 1053.4 L1920.2 1054.2 L1924.5 1053.4 L1928.8 1054.4 L1933.1 1056.9 L1937.4 1057.1 L1941.7 1058.3 L1946 1058.8 L1950.3 1059.7 L1954.6 1061.1 L1958.9 1062.4 L1963.3 1062.4 L1967.6 1064.1 L1971.9 1063.3 L1976.2 1062.4 L1980.5 1063.3 L1984.8 1064.6 L1989.1 1064.7 L1993.4 1065.5 L1997.7 1065.8" fill="none" stroke="#f7941d" stroke-width="6.2" stroke-linejoin="round"/>
<path d="M1631.7 880.6 L1636 884.7 L1640.3 888.8 L1644.6 893.1 L1648.9 897.7 L1653.2 902.8 L1657.5 905.5 L1661.8 909 L1666.1 914 L1670.5 918.7 L1674.8 921.6 L1679.1 925.9 L1683.4 930.1 L1687.7 933.5 L1692 940.8 L1696.3 945.4 L1700.6 948.4 L1704.9 951.7 L1709.2 955.7 L1713.5 959.8 L1717.8 964.1 L1722.1 968.7 L1726.4 972.6 L1730.7 976.9 L1735 982.4 L1739.3 986.5 L1743.7 989.8 L1748 994.7 L1752.3 997.1 L1756.6 1002.4 L1760.9 1004.4 L1765.2 1006.3 L1769.5 1008.3 L1773.8 1009.4 L1778.1 1011.2 L1782.4 1011.7 L1786.7 1016.2 L1791 1018.4 L1795.3 1018.1 L1799.6 1020.1 L1803.9 1021.4 L1808.2 1023 L1812.5 1025.5 L1816.9 1028.7 L1821.2 1028.5 L1825.5 1031.2 L1829.8 1031.6 L1834.1 1033.1 L1838.4 1034.7 L1842.7 1036.2 L1847 1036.9 L1851.3 1038.3 L1855.6 1038 L1859.9 1037.8 L1864.2 1039.3 L1868.5 1041.9 L1872.8 1043.1 L1877.1 1045.6 L1881.4 1044.8 L1885.7 1046.9 L1890.1 1048.6 L1894.4 1049.1 L1898.7 1051.3 L1903 1053.2 L1907.3 1053.3 L1911.6 1052.9 L1915.9 1055.1 L1920.2 1056.5 L1924.5 1056 L1928.8 1057.7 L1933.1 1060.2 L1937.4 1060.4 L1941.7 1060.5 L1946 1061.9 L1950.3 1062.8 L1954.6 1063.4 L1958.9 1064.8 L1963.3 1064.8 L1967.6 1066.4 L1971.9 1064.9 L1976.2 1064.1 L1980.5 1064.8 L1984.8 1066 L1989.1 1065.9 L1993.4 1067.7 L1997.7 1067.9" fill="none" stroke="#f7941d" stroke-width="6.6" stroke-dasharray="25.5 23.5" stroke-linejoin="round"/>
<path d="M1631.7 880.6 L1636 884.9 L1640.3 888.4 L1644.6 890.1 L1648.9 893.1 L1653.2 897.5 L1657.5 902.3 L1661.8 907.4 L1666.1 910.4 L1670.5 916.1 L1674.8 921.1 L1679.1 928.1 L1683.4 933.5 L1687.7 938.4 L1692 946.4 L1696.3 950.7 L1700.6 953.3 L1704.9 956.6 L1709.2 957.9 L1713.5 963.4 L1717.8 966.7 L1722.1 971.1 L1726.4 974.5 L1730.7 977.9 L1735 981.1 L1739.3 984.7 L1743.7 990.4 L1748 995.4 L1752.3 1001.1 L1756.6 1004.6 L1760.9 1008.6 L1765.2 1012.2 L1769.5 1016.8 L1773.8 1017.5 L1778.1 1019 L1782.4 1020.8 L1786.7 1024.4 L1791 1026.1 L1795.3 1028.7 L1799.6 1030.8 L1803.9 1034.7 L1808.2 1036.1 L1812.5 1040.6 L1816.9 1043.2 L1821.2 1045.3 L1825.5 1045 L1829.8 1046.7 L1834.1 1048.9 L1838.4 1050.7 L1842.7 1052.5 L1847 1053.9 L1851.3 1054.6 L1855.6 1057.1 L1859.9 1057.9 L1864.2 1059.4 L1868.5 1060.9 L1872.8 1061.9 L1877.1 1064.5 L1881.4 1066.1 L1885.7 1068.3 L1890.1 1069.5 L1894.4 1070.2 L1898.7 1071.6 L1903 1073.2 L1907.3 1074.2 L1911.6 1074.3 L1915.9 1075.3 L1920.2 1076.5 L1924.5 1078.4 L1928.8 1079.4 L1933.1 1080.4 L1937.4 1080.2 L1941.7 1080.9 L1946 1081.4 L1950.3 1081.7 L1954.6 1082 L1958.9 1082.3 L1963.3 1082.5 L1967.6 1082.5 L1971.9 1083 L1976.2 1083.2 L1980.5 1083.3 L1984.8 1083.5 L1989.1 1084 L1993.4 1084.4 L1997.7 1084.7" fill="none" stroke="#960000" stroke-width="6.2" stroke-linejoin="round"/>
<path d="M1631.7 880.6 L1636 885 L1640.3 888.7 L1644.6 890.3 L1648.9 893.3 L1653.2 898 L1657.5 902.7 L1661.8 907.6 L1666.1 910.5 L1670.5 916.1 L1674.8 921.1 L1679.1 928.4 L1683.4 933.8 L1687.7 938.5 L1692 946.2 L1696.3 950.4 L1700.6 953.2 L1704.9 956.8 L1709.2 957.9 L1713.5 964.8 L1717.8 967.2 L1722.1 972 L1726.4 976.5 L1730.7 979.5 L1735 983.6 L1739.3 987.8 L1743.7 991.8 L1748 997.3 L1752.3 1003.2 L1756.6 1005.6 L1760.9 1009.5 L1765.2 1012.2 L1769.5 1016.4 L1773.8 1017.3 L1778.1 1018.1 L1782.4 1019.9 L1786.7 1023.7 L1791 1026 L1795.3 1028.1 L1799.6 1030.5 L1803.9 1034.6 L1808.2 1037.1 L1812.5 1041.5 L1816.9 1044.5 L1821.2 1046.9 L1825.5 1047.5 L1829.8 1047.9 L1834.1 1050.2 L1838.4 1052.3 L1842.7 1054.6 L1847 1056.4 L1851.3 1056.7 L1855.6 1058 L1859.9 1060 L1864.2 1061.6 L1868.5 1063.3 L1872.8 1065.1 L1877.1 1066.7 L1881.4 1068.8 L1885.7 1070.7 L1890.1 1071.8 L1894.4 1072.3 L1898.7 1073.1 L1903 1074.6 L1907.3 1076.4 L1911.6 1076 L1915.9 1077 L1920.2 1078.1 L1924.5 1080.3 L1928.8 1081.2 L1933.1 1082.4 L1937.4 1082.4 L1941.7 1082.9 L1946 1083.2 L1950.3 1083.6 L1954.6 1084.1 L1958.9 1084.7 L1963.3 1084.8 L1967.6 1085.1 L1971.9 1085.5 L1976.2 1085.6 L1980.5 1085.5 L1984.8 1085.7 L1989.1 1086 L1993.4 1086.4 L1997.7 1086.8" fill="none" stroke="#960000" stroke-width="6.6" stroke-dasharray="25.5 23.5" stroke-linejoin="round"/>
</g>
<g>
<path d="M146.2 1455.7V1248.4M167.8 1455.7V1248.4M189.3 1455.7V1248.4M210.8 1455.7V1248.4M232.3 1455.7V1248.4M253.9 1455.7V1248.4M275.4 1455.7V1248.4M296.9 1455.7V1248.4M318.5 1455.7V1248.4M340 1455.7V1248.4M361.5 1455.7V1248.4M383.1 1455.7V1248.4M404.6 1455.7V1248.4M426.1 1455.7V1248.4M447.6 1455.7V1248.4M469.2 1455.7V1248.4M129 1438.8H490.7M129 1417.7H490.7M129 1396.5H490.7M129 1375.4H490.7M129 1354.2H490.7M129 1333H490.7M129 1311.9H490.7M129 1290.7H490.7M129 1269.6H490.7" fill="none" stroke="#9a9a9a" stroke-width="1.5" stroke-dasharray="1.5 7.1" opacity="0.6"/>
<rect x="124.7" y="1248.4" width="366" height="211.6" fill="none" stroke="#303030" stroke-width="1.3"/>
<path d="M146.2 1460v-4.2M146.2 1248.4v4.2M232.3 1460v-4.2M232.3 1248.4v4.2M318.5 1460v-4.2M318.5 1248.4v4.2M404.6 1460v-4.2M404.6 1248.4v4.2M490.7 1460v-4.2M490.7 1248.4v4.2M124.7 1460h4.2M490.7 1460h-4.2M124.7 1354.2h4.2M490.7 1354.2h-4.2M124.7 1248.4h4.2M490.7 1248.4h-4.2" fill="none" stroke="#303030" stroke-width="1.4"/>
<g font-size="32.8" fill="#000">
<text x="144.5" y="1503.6" text-anchor="middle">2020</text>
<text x="230.6" y="1503.6" text-anchor="middle">2040</text>
<text x="316.8" y="1503.6" text-anchor="middle">2060</text>
<text x="402.9" y="1503.6" text-anchor="middle">2080</text>
<text x="489" y="1503.6" text-anchor="middle">2100</text>
<text x="111.1" y="1472.5" text-anchor="end">0</text>
<text x="111.1" y="1366.7" text-anchor="end">50</text>
<text x="111.1" y="1260.9" text-anchor="end">100</text>
</g>
<text x="307.7" y="1236.2" text-anchor="middle" font-weight="bold" font-size="35.35" clip-path="url(#tclip)">R13 Central Asia</text>
<path d="M198.7 1341.5H270.5V1458.7H198.7" fill="none" stroke="#000" stroke-width="3.4" stroke-dasharray="11.6 4.6"/>
<path d="M198.7 1458.7V1341.5H125.2V1458.7H200.4" fill="none" stroke="#000" stroke-width="3.4" stroke-linejoin="miter"/>
<g font-size="28.1">
<text x="129.8" y="1376.1" fill="#0a1f5c">-55%</text>
<text x="202.5" y="1376.1" fill="#0a1f5c">-60%</text>
<text x="129.8" y="1409.4" fill="#fb8208">-67%</text>
<text x="202.5" y="1409.4" fill="#fb8208">-73%</text>
<text x="129.8" y="1442.7" fill="#8e0000">-88%</text>
<text x="202.5" y="1442.7" fill="#8e0000">-90%</text>
</g>
<path d="M124.7 1248.4 L129 1250.1 L133.3 1251.8 L137.6 1253.5 L141.9 1255.1 L146.2 1256.8 L150.5 1257.8 L154.8 1259.8 L159.1 1261.4 L163.5 1262.8 L167.8 1264.1 L172.1 1266.2 L176.4 1267.2 L180.7 1269.3 L185 1270.5 L189.3 1271.6 L193.6 1273.1 L197.9 1274.5 L202.2 1275.7 L206.5 1277.5 L210.8 1279 L215.1 1280.3 L219.4 1281.5 L223.7 1283 L228 1284.5 L232.3 1285.7 L236.7 1286.7 L241 1287.9 L245.3 1289.9 L249.6 1291.3 L253.9 1293.6 L258.2 1295.3 L262.5 1297.5 L266.8 1299.4 L271.1 1300.9 L275.4 1302.8 L279.7 1304.4 L284 1305.5 L288.3 1307.5 L292.6 1309.1 L296.9 1311.2 L301.2 1313.2 L305.5 1314.5 L309.9 1316.1 L314.2 1317.6 L318.5 1318.6 L322.8 1320.3 L327.1 1321.8 L331.4 1323.5 L335.7 1325.1 L340 1326.5 L344.3 1327.4 L348.6 1328.6 L352.9 1330.3 L357.2 1331.8 L361.5 1333.1 L365.8 1334.9 L370.1 1335.7 L374.4 1337 L378.7 1338.2 L383.1 1339.7 L387.4 1341.2 L391.7 1342.9 L396 1343.4 L400.3 1344.5 L404.6 1346.2 L408.9 1347.4 L413.2 1348.8 L417.5 1350 L421.8 1351.1 L426.1 1352.7 L430.4 1353.5 L434.7 1354.3 L439 1355.5 L443.3 1356.4 L447.6 1357.3 L451.9 1358.2 L456.3 1358.7 L460.6 1359.3 L464.9 1360 L469.2 1360.6 L473.5 1361.9 L477.8 1362.9 L482.1 1363.2 L486.4 1364.1 L490.7 1364.8" fill="none" stroke="#0c2d64" stroke-width="6.2" stroke-linejoin="round"/>
<path d="M124.7 1248.4 L129 1250.3 L133.3 1252.2 L137.6 1254 L141.9 1255.8 L146.2 1257.7 L150.5 1259 L154.8 1260.9 L159.1 1262.7 L163.5 1264.3 L167.8 1266.1 L172.1 1268.3 L176.4 1269.4 L180.7 1271.8 L185 1273.3 L189.3 1274.4 L193.6 1276.1 L197.9 1277.6 L202.2 1279.1 L206.5 1280.8 L210.8 1282.8 L215.1 1284 L219.4 1285.4 L223.7 1287 L228 1288.7 L232.3 1290.2 L236.7 1291.1 L241 1292.8 L245.3 1295 L249.6 1296.6 L253.9 1299.1 L258.2 1300.7 L262.5 1303 L266.8 1305.4 L271.1 1307.1 L275.4 1309.6 L279.7 1311.1 L284 1312.5 L288.3 1314.3 L292.6 1316.1 L296.9 1318.3 L301.2 1320.6 L305.5 1322.2 L309.9 1323.4 L314.2 1325.1 L318.5 1326.2 L322.8 1328 L327.1 1329.8 L331.4 1331.5 L335.7 1333.5 L340 1334.9 L344.3 1336.2 L348.6 1337.5 L352.9 1339.8 L357.2 1341.4 L361.5 1342.8 L365.8 1344.8 L370.1 1345.7 L374.4 1347.4 L378.7 1348.7 L383.1 1350.3 L387.4 1351.7 L391.7 1353.4 L396 1354 L400.3 1355.3 L404.6 1356.8 L408.9 1357.9 L413.2 1359.2 L417.5 1360.4 L421.8 1361.4 L426.1 1363.2 L430.4 1364.1 L434.7 1365 L439 1366.2 L443.3 1367 L447.6 1367.8 L451.9 1368.7 L456.3 1368.9 L460.6 1369.8 L464.9 1370.5 L469.2 1371.1 L473.5 1372.5 L477.8 1374 L482.1 1373.8 L486.4 1375 L490.7 1375.4" fill="none" stroke="#0c2d64" stroke-width="6.6" stroke-dasharray="25.5 23.5" stroke-linejoin="round"/>
<path d="M124.7 1248.4 L129 1250 L133.3 1251.8 L137.6 1253.7 L141.9 1255.5 L146.2 1257.1 L150.5 1258.8 L154.8 1260.9 L159.1 1262 L163.5 1262.8 L167.8 1264.2 L172.1 1265.7 L176.4 1267.3 L180.7 1268.2 L185 1270.1 L189.3 1271.9 L193.6 1273.6 L197.9 1274.9 L202.2 1275.9 L206.5 1277.8 L210.8 1279.6 L215.1 1281.4 L219.4 1283.4 L223.7 1285 L228 1286.3 L232.3 1288.1 L236.7 1289.7 L241 1291.8 L245.3 1293.2 L249.6 1295.5 L253.9 1297.8 L258.2 1299.3 L262.5 1301.6 L266.8 1303.4 L271.1 1305.1 L275.4 1307.7 L279.7 1309.6 L284 1311 L288.3 1313.1 L292.6 1315.1 L296.9 1317.1 L301.2 1319.2 L305.5 1321.5 L309.9 1323.2 L314.2 1325.4 L318.5 1327.5 L322.8 1329.4 L327.1 1331.5 L331.4 1333.2 L335.7 1334.9 L340 1336.7 L344.3 1338.3 L348.6 1340.4 L352.9 1342.5 L357.2 1344.6 L361.5 1346.4 L365.8 1348.2 L370.1 1349.6 L374.4 1352.1 L378.7 1354.1 L383.1 1356.1 L387.4 1357.6 L391.7 1359.4 L396 1361.4 L400.3 1362.7 L404.6 1364.3 L408.9 1366 L413.2 1367.9 L417.5 1369.1 L421.8 1370.2 L426.1 1371.6 L430.4 1372.7 L434.7 1374.1 L439 1375 L443.3 1376.1 L447.6 1377.3 L451.9 1378.7 L456.3 1380 L460.6 1381.2 L464.9 1382.8 L469.2 1384.1 L473.5 1385.6 L477.8 1387.2 L482.1 1388 L486.4 1389.2 L490.7 1390.2" fill="none" stroke="#f7941d" stroke-width="6.2" stroke-linejoin="round"/>
<path d="M124.7 1248.4 L129 1250.2 L133.3 1252.2 L137.6 1254.3 L141.9 1256.3 L146.2 1258.2 L150.5 1260 L154.8 1262.4 L159.1 1263.7 L163.5 1264.6 L167.8 1266.2 L172.1 1268 L176.4 1269.9 L180.7 1270.9 L185 1273 L189.3 1275 L193.6 1276.8 L197.9 1278.5 L202.2 1279.8 L206.5 1281.7 L210.8 1284 L215.1 1285.6 L219.4 1287.8 L223.7 1289.2 L228 1290.9 L232.3 1292.7 L236.7 1295 L241 1297.4 L245.3 1298.9 L249.6 1301.5 L253.9 1304.2 L258.2 1305.8 L262.5 1308.5 L266.8 1310.4 L271.1 1312.3 L275.4 1314.8 L279.7 1317 L284 1318.7 L288.3 1321.1 L292.6 1323.2 L296.9 1325.2 L301.2 1327.2 L305.5 1329.7 L309.9 1331.5 L314.2 1333.8 L318.5 1336.2 L322.8 1338.4 L327.1 1340.7 L331.4 1342.8 L335.7 1344.8 L340 1346.7 L344.3 1348.4 L348.6 1350.8 L352.9 1353.3 L357.2 1355.7 L361.5 1357.6 L365.8 1359.5 L370.1 1361.5 L374.4 1364.1 L378.7 1366.2 L383.1 1368.1 L387.4 1369.4 L391.7 1371.2 L396 1373.3 L400.3 1374.6 L404.6 1376.1 L408.9 1377.9 L413.2 1380 L417.5 1381.5 L421.8 1382.6 L426.1 1384 L430.4 1384.9 L434.7 1386.4 L439 1387.2 L443.3 1388.5 L447.6 1389.8 L451.9 1391.1 L456.3 1392.3 L460.6 1393.4 L464.9 1395.3 L469.2 1396.7 L473.5 1398.1 L477.8 1399.7 L482.1 1400.5 L486.4 1401.9 L490.7 1402.9" fill="none" stroke="#f7941d" stroke-width="6.6" stroke-dasharray="25.5 23.5" stroke-linejoin="round"/>
<path d="M124.7 1248.4 L129 1250.1 L133.3 1251.7 L137.6 1253.3 L141.9 1255.2 L146.2 1257.1 L150.5 1259.1 L154.8 1261.2 L159.1 1262.9 L163.5 1264.4 L167.8 1265.4 L172.1 1267.9 L176.4 1269.6 L180.7 1271.2 L185 1272.4 L189.3 1274.3 L193.6 1275.9 L197.9 1278.4 L202.2 1279.8 L206.5 1281.9 L210.8 1283.2 L215.1 1285.2 L219.4 1286.6 L223.7 1289.1 L228 1290.7 L232.3 1293.4 L236.7 1296.1 L241 1298.4 L245.3 1301.1 L249.6 1303.7 L253.9 1307.2 L258.2 1310.1 L262.5 1313.7 L266.8 1316.6 L271.1 1319.9 L275.4 1323.4 L279.7 1326.3 L284 1329.5 L288.3 1332.1 L292.6 1334.9 L296.9 1337.6 L301.2 1340.3 L305.5 1342.9 L309.9 1345.4 L314.2 1347.4 L318.5 1350.3 L322.8 1352.9 L327.1 1355.4 L331.4 1357.9 L335.7 1360.4 L340 1362.9 L344.3 1365.1 L348.6 1367.9 L352.9 1370.2 L357.2 1372.6 L361.5 1375.6 L365.8 1378 L370.1 1380.5 L374.4 1383.2 L378.7 1385.5 L383.1 1388.1 L387.4 1390.5 L391.7 1392.7 L396 1395.4 L400.3 1398 L404.6 1400.7 L408.9 1403.7 L413.2 1405.8 L417.5 1408.4 L421.8 1411.5 L426.1 1413.3 L430.4 1415.8 L434.7 1418.5 L439 1420.5 L443.3 1423 L447.6 1424.2 L451.9 1426.1 L456.3 1427.4 L460.6 1428 L464.9 1428.7 L469.2 1430 L473.5 1430.9 L477.8 1431.3 L482.1 1432.6 L486.4 1433.7 L490.7 1434.6" fill="none" stroke="#960000" stroke-width="6.2" stroke-linejoin="round"/>
<path d="M124.7 1248.4 L129 1250.2 L133.3 1252.1 L137.6 1253.8 L141.9 1255.8 L146.2 1257.8 L150.5 1260.1 L154.8 1262.2 L159.1 1264 L163.5 1265.7 L167.8 1267.2 L172.1 1269.8 L176.4 1271.7 L180.7 1273.7 L185 1275.1 L189.3 1277.8 L193.6 1279.9 L197.9 1282.9 L202.2 1284.4 L206.5 1287.1 L210.8 1288.6 L215.1 1291.1 L219.4 1292.8 L223.7 1295.6 L228 1297.6 L232.3 1300.5 L236.7 1304 L241 1306.3 L245.3 1309.4 L249.6 1312.2 L253.9 1316.4 L258.2 1319.4 L262.5 1323.6 L266.8 1326.6 L271.1 1330.2 L275.4 1334 L279.7 1337.5 L284 1340.5 L288.3 1343.3 L292.6 1346.3 L296.9 1349.3 L301.2 1351.9 L305.5 1355 L309.9 1357.4 L314.2 1359.6 L318.5 1362.5 L322.8 1365 L327.1 1367.7 L331.4 1370.1 L335.7 1372.3 L340 1374.6 L344.3 1376.5 L348.6 1379.5 L352.9 1381.8 L357.2 1384.1 L361.5 1387.3 L365.8 1389.6 L370.1 1392 L374.4 1394.9 L378.7 1397.2 L383.1 1399.5 L387.4 1401.7 L391.7 1403.5 L396 1406.3 L400.3 1409 L404.6 1411.6 L408.9 1414.5 L413.2 1416.4 L417.5 1418.7 L421.8 1421.2 L426.1 1422.6 L430.4 1424.7 L434.7 1426.8 L439 1427.9 L443.3 1430.2 L447.6 1431.1 L451.9 1432.7 L456.3 1434.1 L460.6 1434.4 L464.9 1435.1 L469.2 1435.9 L473.5 1436.4 L477.8 1436.5 L482.1 1437.4 L486.4 1438.2 L490.7 1438.8" fill="none" stroke="#960000" stroke-width="6.6" stroke-dasharray="25.5 23.5" stroke-linejoin="round"/>
<text transform="translate(44 1354.4) rotate(-90)" text-anchor="middle" font-size="35">V (%, vs. 2015)</text>
</g>
<g>
<path d="M648.3 1455.7V1248.4M669.9 1455.7V1248.4M691.4 1455.7V1248.4M712.9 1455.7V1248.4M734.4 1455.7V1248.4M756 1455.7V1248.4M777.5 1455.7V1248.4M799 1455.7V1248.4M820.6 1455.7V1248.4M842.1 1455.7V1248.4M863.6 1455.7V1248.4M885.2 1455.7V1248.4M906.7 1455.7V1248.4M928.2 1455.7V1248.4M949.7 1455.7V1248.4M971.3 1455.7V1248.4M631.1 1438.8H992.8M631.1 1417.7H992.8M631.1 1396.5H992.8M631.1 1375.4H992.8M631.1 1354.2H992.8M631.1 1333H992.8M631.1 1311.9H992.8M631.1 1290.7H992.8M631.1 1269.6H992.8" fill="none" stroke="#9a9a9a" stroke-width="1.5" stroke-dasharray="1.5 7.1" opacity="0.6"/>
<rect x="626.8" y="1248.4" width="366" height="211.6" fill="none" stroke="#303030" stroke-width="1.3"/>
<path d="M648.3 1460v-4.2M648.3 1248.4v4.2M734.4 1460v-4.2M734.4 1248.4v4.2M820.6 1460v-4.2M820.6 1248.4v4.2M906.7 1460v-4.2M906.7 1248.4v4.2M992.8 1460v-4.2M992.8 1248.4v4.2M626.8 1460h4.2M992.8 1460h-4.2M626.8 1354.2h4.2M992.8 1354.2h-4.2M626.8 1248.4h4.2M992.8 1248.4h-4.2" fill="none" stroke="#303030" stroke-width="1.4"/>
<g font-size="32.8" fill="#000">
<text x="646.6" y="1503.6" text-anchor="middle">2020</text>
<text x="732.7" y="1503.6" text-anchor="middle">2040</text>
<text x="818.9" y="1503.6" text-anchor="middle">2060</text>
<text x="905" y="1503.6" text-anchor="middle">2080</text>
<text x="991.1" y="1503.6" text-anchor="middle">2100</text>
<text x="613.2" y="1472.5" text-anchor="end">0</text>
<text x="613.2" y="1366.7" text-anchor="end">50</text>
<text x="613.2" y="1260.9" text-anchor="end">100</text>
</g>
<text x="809.8" y="1236.2" text-anchor="middle" font-weight="bold" font-size="35.35" clip-path="url(#tclip)">R14 South Asia West</text>
<path d="M700.8 1341.5H772.6V1458.7H700.8" fill="none" stroke="#000" stroke-width="3.4" stroke-dasharray="11.6 4.6"/>
<path d="M700.8 1458.7V1341.5H627.3V1458.7H702.5" fill="none" stroke="#000" stroke-width="3.4" stroke-linejoin="miter"/>
<g font-size="28.1">
<text x="631.9" y="1376.1" fill="#0a1f5c">-38%</text>
<text x="704.6" y="1376.1" fill="#0a1f5c">-38%</text>
<text x="631.9" y="1409.4" fill="#fb8208">-49%</text>
<text x="704.6" y="1409.4" fill="#fb8208">-50%</text>
<text x="631.9" y="1442.7" fill="#8e0000">-74%</text>
<text x="704.6" y="1442.7" fill="#8e0000">-74%</text>
</g>
<path d="M626.8 1248.4 L631.1 1249.4 L635.4 1250.7 L639.7 1252.2 L644 1254.1 L648.3 1254.4 L652.6 1256.1 L656.9 1256.9 L661.2 1257.7 L665.6 1258.3 L669.9 1259.2 L674.2 1259.9 L678.5 1260.3 L682.8 1261.4 L687.1 1262.4 L691.4 1263.7 L695.7 1264.2 L700 1264.9 L704.3 1265.2 L708.6 1266.1 L712.9 1267.3 L717.2 1267.6 L721.5 1268.7 L725.8 1268.7 L730.1 1270.2 L734.4 1271 L738.8 1271.3 L743.1 1273.1 L747.4 1273.9 L751.7 1274.6 L756 1276.3 L760.3 1277.6 L764.6 1279.1 L768.9 1280.7 L773.2 1282.7 L777.5 1284 L781.8 1284.3 L786.1 1285.5 L790.4 1287.5 L794.7 1289.4 L799 1291.5 L803.3 1293.5 L807.6 1294.7 L812 1296.5 L816.3 1297.6 L820.6 1298.6 L824.9 1298.8 L829.2 1300 L833.5 1300.9 L837.8 1301.8 L842.1 1302.3 L846.4 1303.2 L850.7 1303.1 L855 1303.4 L859.3 1304.5 L863.6 1306.1 L867.9 1306.7 L872.2 1307.3 L876.5 1308.1 L880.8 1308.6 L885.2 1309.8 L889.5 1310.3 L893.8 1311.4 L898.1 1312.1 L902.4 1312 L906.7 1313.7 L911 1313.9 L915.3 1315 L919.6 1315.7 L923.9 1317.7 L928.2 1318.6 L932.5 1319.3 L936.8 1318.7 L941.1 1320.2 L945.4 1322.1 L949.7 1322.4 L954 1322.2 L958.4 1322.5 L962.7 1322.7 L967 1324.3 L971.3 1324.6 L975.6 1325.5 L979.9 1326.3 L984.2 1327.1 L988.5 1327.9 L992.8 1328.8" fill="none" stroke="#0c2d64" stroke-width="6.2" stroke-linejoin="round"/>
<path d="M626.8 1248.4 L631.1 1249.3 L635.4 1250.6 L639.7 1252.2 L644 1254 L648.3 1254.2 L652.6 1255.9 L656.9 1256.6 L661.2 1257.4 L665.6 1258.1 L669.9 1259.2 L674.2 1260.1 L678.5 1260.4 L682.8 1261.5 L687.1 1262.5 L691.4 1263.7 L695.7 1264.6 L700 1264.7 L704.3 1265.4 L708.6 1266.8 L712.9 1268.4 L717.2 1268.5 L721.5 1269.6 L725.8 1269.6 L730.1 1270.4 L734.4 1271.1 L738.8 1271.3 L743.1 1273.7 L747.4 1274.4 L751.7 1274.6 L756 1276.1 L760.3 1277.5 L764.6 1279.2 L768.9 1281.3 L773.2 1283.2 L777.5 1284.7 L781.8 1285.1 L786.1 1285.9 L790.4 1288.2 L794.7 1289.9 L799 1291.6 L803.3 1293.4 L807.6 1294.3 L812 1296.4 L816.3 1297.1 L820.6 1298.5 L824.9 1298 L829.2 1299 L833.5 1299.6 L837.8 1301.6 L842.1 1302.3 L846.4 1303.2 L850.7 1303.1 L855 1303.2 L859.3 1303.7 L863.6 1304.9 L867.9 1305.4 L872.2 1306.1 L876.5 1307.7 L880.8 1308.7 L885.2 1309.9 L889.5 1310.5 L893.8 1312.1 L898.1 1312.6 L902.4 1312.8 L906.7 1314.3 L911 1313.8 L915.3 1314.8 L919.6 1315.2 L923.9 1317.5 L928.2 1318.7 L932.5 1319.1 L936.8 1318 L941.1 1319.6 L945.4 1321.7 L949.7 1322.2 L954 1321.7 L958.4 1322.1 L962.7 1322.4 L967 1323.6 L971.3 1323.5 L975.6 1325.2 L979.9 1326.3 L984.2 1327.2 L988.5 1328 L992.8 1328.8" fill="none" stroke="#0c2d64" stroke-width="6.6" stroke-dasharray="25.5 23.5" stroke-linejoin="round"/>
<path d="M626.8 1248.4 L631.1 1249.6 L635.4 1250.9 L639.7 1252.3 L644 1252.8 L648.3 1254.6 L652.6 1255.7 L656.9 1255.2 L661.2 1255.7 L665.6 1257.9 L669.9 1259.8 L674.2 1261.3 L678.5 1261 L682.8 1262.3 L687.1 1263.4 L691.4 1263.5 L695.7 1264.7 L700 1265 L704.3 1264.7 L708.6 1266.1 L712.9 1266.5 L717.2 1268 L721.5 1268 L725.8 1269 L730.1 1269.9 L734.4 1271.1 L738.8 1272.1 L743.1 1273.4 L747.4 1273.9 L751.7 1276 L756 1277 L760.3 1278 L764.6 1278.9 L768.9 1280.6 L773.2 1282.2 L777.5 1283.5 L781.8 1284.6 L786.1 1286.6 L790.4 1288 L794.7 1290.2 L799 1291.9 L803.3 1292.8 L807.6 1293.8 L812 1296.2 L816.3 1297.4 L820.6 1298.5 L824.9 1299.1 L829.2 1299.8 L833.5 1301.5 L837.8 1301.7 L842.1 1302.9 L846.4 1303.9 L850.7 1305.3 L855 1306.5 L859.3 1307.5 L863.6 1308.7 L867.9 1311.1 L872.2 1312.6 L876.5 1312.6 L880.8 1313.6 L885.2 1315.9 L889.5 1316.7 L893.8 1319.5 L898.1 1321.4 L902.4 1323.4 L906.7 1325.4 L911 1326.2 L915.3 1328.8 L919.6 1331 L923.9 1332.8 L928.2 1334 L932.5 1336.5 L936.8 1337.4 L941.1 1339.2 L945.4 1341.1 L949.7 1342.9 L954 1343.8 L958.4 1343.9 L962.7 1346.1 L967 1346.6 L971.3 1348.2 L975.6 1348.6 L979.9 1349.6 L984.2 1351.2 L988.5 1352.2 L992.8 1352.1" fill="none" stroke="#f7941d" stroke-width="6.2" stroke-linejoin="round"/>
<path d="M626.8 1248.4 L631.1 1249.6 L635.4 1250.9 L639.7 1252.3 L644 1252.9 L648.3 1254.8 L652.6 1255.9 L656.9 1255.3 L661.2 1256 L665.6 1258.2 L669.9 1259.9 L674.2 1261.5 L678.5 1261.1 L682.8 1262.6 L687.1 1263.7 L691.4 1264 L695.7 1264.8 L700 1265.6 L704.3 1265.6 L708.6 1267.4 L712.9 1267.6 L717.2 1268.3 L721.5 1267.9 L725.8 1269.2 L730.1 1270.5 L734.4 1272.3 L738.8 1273.9 L743.1 1274.6 L747.4 1275 L751.7 1277.3 L756 1277.5 L760.3 1278.5 L764.6 1280.5 L768.9 1281.8 L773.2 1283.2 L777.5 1284.7 L781.8 1286.3 L786.1 1288.6 L790.4 1290.1 L794.7 1291.7 L799 1293.5 L803.3 1294.3 L807.6 1296.1 L812 1298.6 L816.3 1300.1 L820.6 1301.8 L824.9 1302.7 L829.2 1303.1 L833.5 1303.9 L837.8 1304.6 L842.1 1305.7 L846.4 1306.4 L850.7 1307.5 L855 1308.3 L859.3 1309.6 L863.6 1311 L867.9 1313.6 L872.2 1315.2 L876.5 1315.3 L880.8 1316.9 L885.2 1318.9 L889.5 1319.8 L893.8 1322.8 L898.1 1324.2 L902.4 1326.6 L906.7 1328.8 L911 1329.2 L915.3 1331.9 L919.6 1333.8 L923.9 1335 L928.2 1336.5 L932.5 1339 L936.8 1339.9 L941.1 1342.2 L945.4 1344.2 L949.7 1345.2 L954 1346.2 L958.4 1346.6 L962.7 1349.5 L967 1349.6 L971.3 1350.9 L975.6 1350.8 L979.9 1352.2 L984.2 1354 L988.5 1354.7 L992.8 1354.2" fill="none" stroke="#f7941d" stroke-width="6.6" stroke-dasharray="25.5 23.5" stroke-linejoin="round"/>
<path d="M626.8 1248.4 L631.1 1249.6 L635.4 1250.9 L639.7 1252.2 L644 1253.2 L648.3 1253.8 L652.6 1255.9 L656.9 1256.6 L661.2 1257.5 L665.6 1258.5 L669.9 1261 L674.2 1261.7 L678.5 1262.6 L682.8 1264.1 L687.1 1265.3 L691.4 1265.2 L695.7 1266.1 L700 1267.5 L704.3 1268 L708.6 1269 L712.9 1271.2 L717.2 1272.3 L721.5 1273.2 L725.8 1274.9 L730.1 1275.7 L734.4 1277.1 L738.8 1278 L743.1 1279.4 L747.4 1280.6 L751.7 1282.5 L756 1283 L760.3 1283.8 L764.6 1284.7 L768.9 1286.4 L773.2 1288.7 L777.5 1290.6 L781.8 1293.4 L786.1 1294.6 L790.4 1298.5 L794.7 1302.2 L799 1304.3 L803.3 1307.2 L807.6 1309.9 L812 1312.9 L816.3 1315.9 L820.6 1316.8 L824.9 1319.9 L829.2 1320.9 L833.5 1323.1 L837.8 1324.3 L842.1 1325.7 L846.4 1328.1 L850.7 1330.7 L855 1333.2 L859.3 1335.4 L863.6 1337.2 L867.9 1338.6 L872.2 1340 L876.5 1342.6 L880.8 1343.8 L885.2 1347.1 L889.5 1350.4 L893.8 1353 L898.1 1355.3 L902.4 1358.6 L906.7 1360.9 L911 1363.2 L915.3 1366.3 L919.6 1369 L923.9 1370.4 L928.2 1372.5 L932.5 1373.9 L936.8 1374.7 L941.1 1376.8 L945.4 1379.1 L949.7 1380.5 L954 1382.9 L958.4 1385 L962.7 1387.4 L967 1390.6 L971.3 1393.3 L975.6 1395.8 L979.9 1398 L984.2 1399.2 L988.5 1402.5 L992.8 1405" fill="none" stroke="#960000" stroke-width="6.2" stroke-linejoin="round"/>
<path d="M626.8 1248.4 L631.1 1249.7 L635.4 1251 L639.7 1252.3 L644 1253.3 L648.3 1253.8 L652.6 1256.1 L656.9 1256.8 L661.2 1257.8 L665.6 1258.5 L669.9 1260.8 L674.2 1261.6 L678.5 1262.8 L682.8 1264.3 L687.1 1265 L691.4 1265.1 L695.7 1265.7 L700 1266.9 L704.3 1267.4 L708.6 1269.1 L712.9 1271.4 L717.2 1272.4 L721.5 1273.6 L725.8 1275.4 L730.1 1276.1 L734.4 1276.8 L738.8 1277.4 L743.1 1279 L747.4 1281.1 L751.7 1283.1 L756 1283.2 L760.3 1283.9 L764.6 1284.7 L768.9 1287.1 L773.2 1289.6 L777.5 1291.5 L781.8 1294.3 L786.1 1295.4 L790.4 1299.3 L794.7 1302.4 L799 1304.2 L803.3 1307.1 L807.6 1309.6 L812 1312.5 L816.3 1315.1 L820.6 1315.9 L824.9 1319.6 L829.2 1320.4 L833.5 1322.9 L837.8 1323.9 L842.1 1325.8 L846.4 1327.6 L850.7 1330.1 L855 1332.8 L859.3 1335.4 L863.6 1337.5 L867.9 1338.5 L872.2 1339.7 L876.5 1342.3 L880.8 1343.6 L885.2 1347.5 L889.5 1350.9 L893.8 1354.1 L898.1 1355.7 L902.4 1359.1 L906.7 1361.5 L911 1363.7 L915.3 1366.6 L919.6 1369.1 L923.9 1370.7 L928.2 1373.3 L932.5 1374.6 L936.8 1375.4 L941.1 1377.8 L945.4 1379.4 L949.7 1380.5 L954 1383 L958.4 1385.2 L962.7 1387.9 L967 1391 L971.3 1394.2 L975.6 1396.8 L979.9 1398.5 L984.2 1399.6 L988.5 1402.5 L992.8 1405" fill="none" stroke="#960000" stroke-width="6.6" stroke-dasharray="25.5 23.5" stroke-linejoin="round"/>
</g>
<g>
<path d="M1151.1 1455.7V1248.4M1172.7 1455.7V1248.4M1194.2 1455.7V1248.4M1215.7 1455.7V1248.4M1237.2 1455.7V1248.4M1258.8 1455.7V1248.4M1280.3 1455.7V1248.4M1301.8 1455.7V1248.4M1323.4 1455.7V1248.4M1344.9 1455.7V1248.4M1366.4 1455.7V1248.4M1388 1455.7V1248.4M1409.5 1455.7V1248.4M1431 1455.7V1248.4M1452.5 1455.7V1248.4M1474.1 1455.7V1248.4M1133.9 1438.8H1495.6M1133.9 1417.7H1495.6M1133.9 1396.5H1495.6M1133.9 1375.4H1495.6M1133.9 1354.2H1495.6M1133.9 1333H1495.6M1133.9 1311.9H1495.6M1133.9 1290.7H1495.6M1133.9 1269.6H1495.6" fill="none" stroke="#9a9a9a" stroke-width="1.5" stroke-dasharray="1.5 7.1" opacity="0.6"/>
<rect x="1129.6" y="1248.4" width="366" height="211.6" fill="none" stroke="#303030" stroke-width="1.3"/>
<path d="M1151.1 1460v-4.2M1151.1 1248.4v4.2M1237.2 1460v-4.2M1237.2 1248.4v4.2M1323.4 1460v-4.2M1323.4 1248.4v4.2M1409.5 1460v-4.2M1409.5 1248.4v4.2M1495.6 1460v-4.2M1495.6 1248.4v4.2M1129.6 1460h4.2M1495.6 1460h-4.2M1129.6 1354.2h4.2M1495.6 1354.2h-4.2M1129.6 1248.4h4.2M1495.6 1248.4h-4.2" fill="none" stroke="#303030" stroke-width="1.4"/>
<g font-size="32.8" fill="#000">
<text x="1149.4" y="1503.6" text-anchor="middle">2020</text>
<text x="1235.5" y="1503.6" text-anchor="middle">2040</text>
<text x="1321.7" y="1503.6" text-anchor="middle">2060</text>
<text x="1407.8" y="1503.6" text-anchor="middle">2080</text>
<text x="1493.9" y="1503.6" text-anchor="middle">2100</text>
<text x="1116" y="1472.5" text-anchor="end">0</text>
<text x="1116" y="1366.7" text-anchor="end">50</text>
<text x="1116" y="1260.9" text-anchor="end">100</text>
</g>
<text x="1312.6" y="1236.2" text-anchor="middle" font-weight="bold" font-size="35.35" clip-path="url(#tclip)">R15 South Asia East</text>
<path d="M1422.3 1249.4H1494.7V1366.6H1422.3" fill="none" stroke="#000" stroke-width="3.4" stroke-dasharray="11.6 4.6"/>
<path d="M1422.3 1366.6V1249.4H1349.8V1366.6H1424" fill="none" stroke="#000" stroke-width="3.4" stroke-linejoin="miter"/>
<g font-size="28.1">
<text x="1354.4" y="1283" fill="#0a1f5c">-75%</text>
<text x="1426.1" y="1283" fill="#0a1f5c">-76%</text>
<text x="1354.4" y="1316.3" fill="#fb8208">-86%</text>
<text x="1426.1" y="1316.3" fill="#fb8208">-86%</text>
<text x="1354.4" y="1349.6" fill="#8e0000">-95%</text>
<text x="1426.1" y="1349.6" fill="#8e0000">-95%</text>
</g>
<path d="M1129.6 1248.4 L1133.9 1248.8 L1138.2 1251.3 L1142.5 1257.9 L1146.8 1262.8 L1151.1 1263.2 L1155.4 1265.3 L1159.7 1268.3 L1164 1270.6 L1168.4 1273.5 L1172.7 1275.7 L1177 1279.5 L1181.3 1283.1 L1185.6 1285.9 L1189.9 1290 L1194.2 1293.1 L1198.5 1296.5 L1202.8 1299 L1207.1 1302.5 L1211.4 1306 L1215.7 1308.1 L1220 1311.3 L1224.3 1313.1 L1228.6 1316.1 L1232.9 1319.3 L1237.2 1322.9 L1241.6 1326.2 L1245.9 1329 L1250.2 1331.6 L1254.5 1333.2 L1258.8 1336.2 L1263.1 1338.6 L1267.4 1341.5 L1271.7 1344.5 L1276 1346.9 L1280.3 1348.6 L1284.6 1350.3 L1288.9 1352.5 L1293.2 1354.3 L1297.5 1355.1 L1301.8 1356.7 L1306.1 1358.6 L1310.4 1361.6 L1314.8 1362.9 L1319.1 1364.7 L1323.4 1366 L1327.7 1366.5 L1332 1369.3 L1336.3 1371.7 L1340.6 1374.1 L1344.9 1376.9 L1349.2 1377.6 L1353.5 1379.4 L1357.8 1381 L1362.1 1382.6 L1366.4 1383.9 L1370.7 1385.4 L1375 1385.6 L1379.3 1386.2 L1383.6 1387.8 L1388 1387.9 L1392.3 1388.3 L1396.6 1389 L1400.9 1390.2 L1405.2 1391.2 L1409.5 1392.7 L1413.8 1393 L1418.1 1393.9 L1422.4 1394.6 L1426.7 1396.1 L1431 1397.6 L1435.3 1398.4 L1439.6 1398.9 L1443.9 1401 L1448.2 1401.4 L1452.5 1402.3 L1456.8 1402.9 L1461.2 1403.7 L1465.5 1404.3 L1469.8 1404.8 L1474.1 1405.5 L1478.4 1406.5 L1482.7 1406.6 L1487 1406.7 L1491.3 1406.9 L1495.6 1407.1" fill="none" stroke="#0c2d64" stroke-width="6.2" stroke-linejoin="round"/>
<path d="M1129.6 1248.4 L1133.9 1248.8 L1138.2 1251.3 L1142.5 1258 L1146.8 1262.9 L1151.1 1263.2 L1155.4 1265.4 L1159.7 1268.5 L1164 1270.9 L1168.4 1273.9 L1172.7 1276.1 L1177 1279.7 L1181.3 1283.3 L1185.6 1286.4 L1189.9 1290.6 L1194.2 1293.2 L1198.5 1297.1 L1202.8 1299.1 L1207.1 1303 L1211.4 1306.5 L1215.7 1308.2 L1220 1311.1 L1224.3 1313 L1228.6 1315.2 L1232.9 1318 L1237.2 1322.2 L1241.6 1325.7 L1245.9 1328.7 L1250.2 1331.5 L1254.5 1333.3 L1258.8 1336.4 L1263.1 1339.3 L1267.4 1341.6 L1271.7 1345.3 L1276 1347.8 L1280.3 1350.1 L1284.6 1351 L1288.9 1353.5 L1293.2 1355 L1297.5 1356.3 L1301.8 1358 L1306.1 1359.1 L1310.4 1361.7 L1314.8 1363.3 L1319.1 1365.2 L1323.4 1366.8 L1327.7 1367.7 L1332 1370.1 L1336.3 1372.7 L1340.6 1375.3 L1344.9 1377.7 L1349.2 1378.3 L1353.5 1379.8 L1357.8 1381.3 L1362.1 1384.1 L1366.4 1385.8 L1370.7 1386.9 L1375 1387.1 L1379.3 1388 L1383.6 1390 L1388 1389.7 L1392.3 1388.7 L1396.6 1390 L1400.9 1390.4 L1405.2 1391.2 L1409.5 1393.4 L1413.8 1393.6 L1418.1 1394.3 L1422.4 1395.5 L1426.7 1397 L1431 1398.1 L1435.3 1399 L1439.6 1399.6 L1443.9 1401.9 L1448.2 1401.9 L1452.5 1403.2 L1456.8 1404.2 L1461.2 1404.9 L1465.5 1406 L1469.8 1406.2 L1474.1 1406.6 L1478.4 1407.4 L1482.7 1407.9 L1487 1408.3 L1491.3 1409 L1495.6 1409.2" fill="none" stroke="#0c2d64" stroke-width="6.6" stroke-dasharray="25.5 23.5" stroke-linejoin="round"/>
<path d="M1129.6 1248.4 L1133.9 1248.6 L1138.2 1251.2 L1142.5 1258.5 L1146.8 1263.3 L1151.1 1264 L1155.4 1265.3 L1159.7 1267.7 L1164 1269.6 L1168.4 1273.3 L1172.7 1275.6 L1177 1279.9 L1181.3 1282.2 L1185.6 1285.8 L1189.9 1289.3 L1194.2 1292.7 L1198.5 1295.6 L1202.8 1297.9 L1207.1 1300.6 L1211.4 1303.6 L1215.7 1307.8 L1220 1311.1 L1224.3 1313.8 L1228.6 1316.5 L1232.9 1318.9 L1237.2 1321.1 L1241.6 1325.3 L1245.9 1327.5 L1250.2 1330.7 L1254.5 1335.3 L1258.8 1338.1 L1263.1 1341.4 L1267.4 1343.8 L1271.7 1346 L1276 1348.1 L1280.3 1349.8 L1284.6 1351.7 L1288.9 1353.6 L1293.2 1354.8 L1297.5 1357.2 L1301.8 1358.2 L1306.1 1359 L1310.4 1361.4 L1314.8 1363.1 L1319.1 1365.5 L1323.4 1367.7 L1327.7 1371 L1332 1373.4 L1336.3 1374.6 L1340.6 1376.8 L1344.9 1379.9 L1349.2 1381.7 L1353.5 1384.5 L1357.8 1386.5 L1362.1 1388 L1366.4 1390 L1370.7 1391.9 L1375 1394.1 L1379.3 1396.3 L1383.6 1399.4 L1388 1401.2 L1392.3 1402 L1396.6 1403.1 L1400.9 1404.8 L1405.2 1406.8 L1409.5 1408.7 L1413.8 1410.1 L1418.1 1410.6 L1422.4 1411.8 L1426.7 1411.2 L1431 1413.5 L1435.3 1415.2 L1439.6 1416.3 L1443.9 1417.2 L1448.2 1419.1 L1452.5 1419.9 L1456.8 1421.1 L1461.2 1422.2 L1465.5 1423.2 L1469.8 1425.3 L1474.1 1426.1 L1478.4 1426.9 L1482.7 1428.1 L1487 1428.6 L1491.3 1428.7 L1495.6 1430.4" fill="none" stroke="#f7941d" stroke-width="6.2" stroke-linejoin="round"/>
<path d="M1129.6 1248.4 L1133.9 1248.6 L1138.2 1251.2 L1142.5 1258.3 L1146.8 1263.2 L1151.1 1263.8 L1155.4 1265.1 L1159.7 1267.4 L1164 1269.1 L1168.4 1272.6 L1172.7 1274.8 L1177 1279.2 L1181.3 1281.4 L1185.6 1284.9 L1189.9 1288.8 L1194.2 1292.5 L1198.5 1295.2 L1202.8 1297.8 L1207.1 1300 L1211.4 1303.7 L1215.7 1307.6 L1220 1310.7 L1224.3 1313.4 L1228.6 1316.3 L1232.9 1318.7 L1237.2 1321.1 L1241.6 1324.8 L1245.9 1327.1 L1250.2 1330.7 L1254.5 1335.4 L1258.8 1338.3 L1263.1 1341.2 L1267.4 1343.8 L1271.7 1345 L1276 1347.2 L1280.3 1349.1 L1284.6 1351.1 L1288.9 1352.9 L1293.2 1354.1 L1297.5 1356.8 L1301.8 1358 L1306.1 1358.9 L1310.4 1361.2 L1314.8 1363.5 L1319.1 1365.6 L1323.4 1367.7 L1327.7 1371.1 L1332 1373.4 L1336.3 1375.1 L1340.6 1377.3 L1344.9 1379.8 L1349.2 1381.6 L1353.5 1383.9 L1357.8 1385.4 L1362.1 1387.1 L1366.4 1389.6 L1370.7 1391.5 L1375 1394.1 L1379.3 1396.2 L1383.6 1398.9 L1388 1400.7 L1392.3 1401.2 L1396.6 1402.7 L1400.9 1404.1 L1405.2 1405.7 L1409.5 1408.4 L1413.8 1409 L1418.1 1409.8 L1422.4 1411.2 L1426.7 1410.3 L1431 1412.7 L1435.3 1414.8 L1439.6 1416.3 L1443.9 1416.5 L1448.2 1418.5 L1452.5 1419.4 L1456.8 1420.1 L1461.2 1421.2 L1465.5 1422.5 L1469.8 1425.1 L1474.1 1425.7 L1478.4 1426.4 L1482.7 1427.8 L1487 1428.2 L1491.3 1428.5 L1495.6 1430.4" fill="none" stroke="#f7941d" stroke-width="6.6" stroke-dasharray="25.5 23.5" stroke-linejoin="round"/>
<path d="M1129.6 1248.4 L1133.9 1248.7 L1138.2 1251.2 L1142.5 1258.9 L1146.8 1264.4 L1151.1 1264.3 L1155.4 1266.8 L1159.7 1268.9 L1164 1272.1 L1168.4 1275.7 L1172.7 1278.9 L1177 1282.5 L1181.3 1286.4 L1185.6 1289.9 L1189.9 1292.1 L1194.2 1296.5 L1198.5 1299.3 L1202.8 1301.7 L1207.1 1304.6 L1211.4 1308 L1215.7 1311.2 L1220 1314.7 L1224.3 1317.2 L1228.6 1320.9 L1232.9 1323.4 L1237.2 1326 L1241.6 1329 L1245.9 1331.6 L1250.2 1334.7 L1254.5 1337.7 L1258.8 1341.3 L1263.1 1343.9 L1267.4 1346.2 L1271.7 1349.6 L1276 1353.5 L1280.3 1357.1 L1284.6 1360.4 L1288.9 1365 L1293.2 1367.7 L1297.5 1371.1 L1301.8 1375.6 L1306.1 1377.8 L1310.4 1381.6 L1314.8 1386.2 L1319.1 1389.2 L1323.4 1391.8 L1327.7 1393.9 L1332 1396.7 L1336.3 1399.7 L1340.6 1401.8 L1344.9 1403.1 L1349.2 1405.4 L1353.5 1406.7 L1357.8 1409.9 L1362.1 1412.4 L1366.4 1413.1 L1370.7 1416.1 L1375 1418.9 L1379.3 1420.1 L1383.6 1421.4 L1388 1422.9 L1392.3 1424.2 L1396.6 1426.7 L1400.9 1429.1 L1405.2 1430.7 L1409.5 1433 L1413.8 1434.4 L1418.1 1435.1 L1422.4 1436.7 L1426.7 1438.3 L1431 1439.5 L1435.3 1440.4 L1439.6 1441.3 L1443.9 1442 L1448.2 1443.2 L1452.5 1444 L1456.8 1444.3 L1461.2 1445.2 L1465.5 1445.9 L1469.8 1446.7 L1474.1 1447 L1478.4 1447.6 L1482.7 1447.9 L1487 1448.4 L1491.3 1449 L1495.6 1449.4" fill="none" stroke="#960000" stroke-width="6.2" stroke-linejoin="round"/>
<path d="M1129.6 1248.4 L1133.9 1248.7 L1138.2 1251.2 L1142.5 1258.8 L1146.8 1264.4 L1151.1 1264.4 L1155.4 1266.9 L1159.7 1269.1 L1164 1272.3 L1168.4 1275.8 L1172.7 1278.7 L1177 1282 L1181.3 1286 L1185.6 1289.6 L1189.9 1292.2 L1194.2 1296.6 L1198.5 1299.1 L1202.8 1301.8 L1207.1 1304.8 L1211.4 1308.4 L1215.7 1311.1 L1220 1314.6 L1224.3 1317.1 L1228.6 1320.5 L1232.9 1322.4 L1237.2 1325 L1241.6 1328.4 L1245.9 1330.6 L1250.2 1334.1 L1254.5 1337.6 L1258.8 1341.2 L1263.1 1344.7 L1267.4 1347.4 L1271.7 1350.6 L1276 1354.3 L1280.3 1357.8 L1284.6 1360.5 L1288.9 1365 L1293.2 1368 L1297.5 1371.3 L1301.8 1376.1 L1306.1 1378.3 L1310.4 1382.2 L1314.8 1387.1 L1319.1 1389.5 L1323.4 1392 L1327.7 1394.4 L1332 1397.2 L1336.3 1399.9 L1340.6 1402 L1344.9 1403.6 L1349.2 1405.4 L1353.5 1406.8 L1357.8 1410.1 L1362.1 1412.6 L1366.4 1413.3 L1370.7 1416.2 L1375 1418.9 L1379.3 1420 L1383.6 1421.2 L1388 1422.7 L1392.3 1423.6 L1396.6 1426.4 L1400.9 1428.5 L1405.2 1430.2 L1409.5 1432.3 L1413.8 1433.6 L1418.1 1434.5 L1422.4 1436.5 L1426.7 1438.2 L1431 1439.5 L1435.3 1440.4 L1439.6 1441.4 L1443.9 1442.1 L1448.2 1442.8 L1452.5 1443.6 L1456.8 1443.9 L1461.2 1444.9 L1465.5 1445.8 L1469.8 1446.7 L1474.1 1447 L1478.4 1447.4 L1482.7 1447.9 L1487 1448.3 L1491.3 1448.8 L1495.6 1449.4" fill="none" stroke="#960000" stroke-width="6.6" stroke-dasharray="25.5 23.5" stroke-linejoin="round"/>
</g>
<g>
<path d="M1653.2 1455.7V1248.4M1674.8 1455.7V1248.4M1696.3 1455.7V1248.4M1717.8 1455.7V1248.4M1739.3 1455.7V1248.4M1760.9 1455.7V1248.4M1782.4 1455.7V1248.4M1803.9 1455.7V1248.4M1825.5 1455.7V1248.4M1847 1455.7V1248.4M1868.5 1455.7V1248.4M1890.1 1455.7V1248.4M1911.6 1455.7V1248.4M1933.1 1455.7V1248.4M1954.6 1455.7V1248.4M1976.2 1455.7V1248.4M1636 1438.8H1997.7M1636 1417.7H1997.7M1636 1396.5H1997.7M1636 1375.4H1997.7M1636 1354.2H1997.7M1636 1333H1997.7M1636 1311.9H1997.7M1636 1290.7H1997.7M1636 1269.6H1997.7" fill="none" stroke="#9a9a9a" stroke-width="1.5" stroke-dasharray="1.5 7.1" opacity="0.6"/>
<rect x="1631.7" y="1248.4" width="366" height="211.6" fill="none" stroke="#303030" stroke-width="1.3"/>
<path d="M1653.2 1460v-4.2M1653.2 1248.4v4.2M1739.3 1460v-4.2M1739.3 1248.4v4.2M1825.5 1460v-4.2M1825.5 1248.4v4.2M1911.6 1460v-4.2M1911.6 1248.4v4.2M1997.7 1460v-4.2M1997.7 1248.4v4.2M1631.7 1460h4.2M1997.7 1460h-4.2M1631.7 1354.2h4.2M1997.7 1354.2h-4.2M1631.7 1248.4h4.2M1997.7 1248.4h-4.2" fill="none" stroke="#303030" stroke-width="1.4"/>
<g font-size="32.8" fill="#000">
<text x="1651.5" y="1503.6" text-anchor="middle">2020</text>
<text x="1737.6" y="1503.6" text-anchor="middle">2040</text>
<text x="1823.8" y="1503.6" text-anchor="middle">2060</text>
<text x="1909.9" y="1503.6" text-anchor="middle">2080</text>
<text x="1996" y="1503.6" text-anchor="middle">2100</text>
<text x="1618.1" y="1472.5" text-anchor="end">0</text>
<text x="1618.1" y="1366.7" text-anchor="end">50</text>
<text x="1618.1" y="1260.9" text-anchor="end">100</text>
</g>
<text x="1814.7" y="1236.2" text-anchor="middle" font-weight="bold" font-size="35.35" clip-path="url(#tclip)">R16 Low Latitudes</text>
<path d="M1924.4 1247.9H1996.8V1363.9H1924.4" fill="none" stroke="#000" stroke-width="3.4" stroke-dasharray="11.6 4.6"/>
<path d="M1924.4 1363.9V1247.9H1851.9V1363.9H1926.1" fill="none" stroke="#000" stroke-width="3.4" stroke-linejoin="miter"/>
<g font-size="28.1">
<text x="1856.5" y="1281.5" fill="#0a1f5c">-80%</text>
<text x="1928.2" y="1281.5" fill="#0a1f5c">-82%</text>
<text x="1856.5" y="1314.8" fill="#fb8208">-94%</text>
<text x="1928.2" y="1314.8" fill="#fb8208">-94%</text>
<text x="1856.5" y="1348.1" fill="#8e0000">-99%</text>
<text x="1928.2" y="1348.1" fill="#8e0000">-99%</text>
</g>
<path d="M1631.7 1248.4 L1636 1249.1 L1640.3 1265.1 L1644.6 1267.3 L1648.9 1270.9 L1653.2 1276.5 L1657.5 1282.9 L1661.8 1288.1 L1666.1 1291.6 L1670.5 1296.6 L1674.8 1302 L1679.1 1307.1 L1683.4 1313.7 L1687.7 1316.9 L1692 1322.5 L1696.3 1327 L1700.6 1331.3 L1704.9 1337 L1709.2 1341.1 L1713.5 1346 L1717.8 1349.1 L1722.1 1354.3 L1726.4 1359.4 L1730.7 1364 L1735 1369.3 L1739.3 1372.8 L1743.7 1377.3 L1748 1379.6 L1752.3 1382.3 L1756.6 1386.6 L1760.9 1389.6 L1765.2 1391.9 L1769.5 1393.6 L1773.8 1394.2 L1778.1 1393.3 L1782.4 1394.6 L1786.7 1395.9 L1791 1398.5 L1795.3 1399.7 L1799.6 1400.7 L1803.9 1401.4 L1808.2 1402.1 L1812.5 1402.2 L1816.9 1402.6 L1821.2 1405 L1825.5 1405.1 L1829.8 1405.6 L1834.1 1405.5 L1838.4 1404.9 L1842.7 1406.7 L1847 1407.7 L1851.3 1407.4 L1855.6 1408.4 L1859.9 1411.5 L1864.2 1413.9 L1868.5 1415.3 L1872.8 1416.8 L1877.1 1416.1 L1881.4 1419.2 L1885.7 1419 L1890.1 1418.2 L1894.4 1419.1 L1898.7 1420 L1903 1420.5 L1907.3 1419.2 L1911.6 1418 L1915.9 1416.3 L1920.2 1416.1 L1924.5 1415.2 L1928.8 1415.2 L1933.1 1416 L1937.4 1417 L1941.7 1417.8 L1946 1417.4 L1950.3 1417.7 L1954.6 1416 L1958.9 1416 L1963.3 1415.9 L1967.6 1415.2 L1971.9 1416.6 L1976.2 1417.3 L1980.5 1418.4 L1984.8 1417.7 L1989.1 1417.6 L1993.4 1417 L1997.7 1417.7" fill="none" stroke="#0c2d64" stroke-width="6.2" stroke-linejoin="round"/>
<path d="M1631.7 1248.4 L1636 1249.2 L1640.3 1265.3 L1644.6 1267.6 L1648.9 1271.2 L1653.2 1276.8 L1657.5 1283.1 L1661.8 1288.2 L1666.1 1292 L1670.5 1297.3 L1674.8 1302.7 L1679.1 1307.4 L1683.4 1314.8 L1687.7 1318.3 L1692 1323.9 L1696.3 1328.3 L1700.6 1333.3 L1704.9 1339.2 L1709.2 1343.3 L1713.5 1348.9 L1717.8 1351.3 L1722.1 1355.7 L1726.4 1361.1 L1730.7 1365.3 L1735 1370.6 L1739.3 1373.1 L1743.7 1377.6 L1748 1380.5 L1752.3 1383.8 L1756.6 1388.6 L1760.9 1391.3 L1765.2 1394.4 L1769.5 1395.9 L1773.8 1397.1 L1778.1 1395.2 L1782.4 1395.9 L1786.7 1397.4 L1791 1399.5 L1795.3 1401 L1799.6 1401.7 L1803.9 1402.8 L1808.2 1403.9 L1812.5 1403.9 L1816.9 1404.3 L1821.2 1406.3 L1825.5 1405.7 L1829.8 1406.7 L1834.1 1405.7 L1838.4 1405.4 L1842.7 1407.1 L1847 1408.8 L1851.3 1410.4 L1855.6 1411.5 L1859.9 1413.7 L1864.2 1415.8 L1868.5 1416.8 L1872.8 1417.3 L1877.1 1417.4 L1881.4 1420.6 L1885.7 1421.2 L1890.1 1419.2 L1894.4 1420.7 L1898.7 1422.8 L1903 1423.5 L1907.3 1422.3 L1911.6 1421.1 L1915.9 1419.8 L1920.2 1420.3 L1924.5 1419.5 L1928.8 1419.4 L1933.1 1419.8 L1937.4 1420 L1941.7 1420.5 L1946 1419.3 L1950.3 1420.1 L1954.6 1418.9 L1958.9 1418.2 L1963.3 1417.3 L1967.6 1417.7 L1971.9 1419.6 L1976.2 1420.6 L1980.5 1420.5 L1984.8 1420.1 L1989.1 1419.6 L1993.4 1419.2 L1997.7 1421.9" fill="none" stroke="#0c2d64" stroke-width="6.6" stroke-dasharray="25.5 23.5" stroke-linejoin="round"/>
<path d="M1631.7 1248.4 L1636 1249.1 L1640.3 1265.2 L1644.6 1267.6 L1648.9 1270.4 L1653.2 1274.7 L1657.5 1279.8 L1661.8 1284.2 L1666.1 1288.9 L1670.5 1293.8 L1674.8 1300 L1679.1 1304.2 L1683.4 1310.7 L1687.7 1316 L1692 1322.1 L1696.3 1325.5 L1700.6 1329.8 L1704.9 1334.1 L1709.2 1340.2 L1713.5 1345.4 L1717.8 1349.4 L1722.1 1352.5 L1726.4 1357.8 L1730.7 1362.2 L1735 1367 L1739.3 1370 L1743.7 1375.7 L1748 1380.2 L1752.3 1382.7 L1756.6 1386.5 L1760.9 1389 L1765.2 1390.8 L1769.5 1393 L1773.8 1396.2 L1778.1 1397.2 L1782.4 1400.4 L1786.7 1403.6 L1791 1406.4 L1795.3 1408 L1799.6 1408 L1803.9 1410.8 L1808.2 1410.4 L1812.5 1411.8 L1816.9 1415.1 L1821.2 1417.3 L1825.5 1419.5 L1829.8 1421.1 L1834.1 1423.1 L1838.4 1426.3 L1842.7 1425.6 L1847 1426.5 L1851.3 1428.7 L1855.6 1430.1 L1859.9 1431 L1864.2 1433 L1868.5 1433.6 L1872.8 1434.4 L1877.1 1434 L1881.4 1434.3 L1885.7 1435.1 L1890.1 1436.3 L1894.4 1436.8 L1898.7 1436.9 L1903 1437.8 L1907.3 1439.3 L1911.6 1439.9 L1915.9 1439.3 L1920.2 1439.7 L1924.5 1440.5 L1928.8 1441.6 L1933.1 1441.4 L1937.4 1441.9 L1941.7 1441.9 L1946 1442.2 L1950.3 1443 L1954.6 1443.5 L1958.9 1443.4 L1963.3 1443.8 L1967.6 1444.7 L1971.9 1445.7 L1976.2 1445.4 L1980.5 1445.8 L1984.8 1445.8 L1989.1 1446.1 L1993.4 1446.7 L1997.7 1447.3" fill="none" stroke="#f7941d" stroke-width="6.2" stroke-linejoin="round"/>
<path d="M1631.7 1248.4 L1636 1249 L1640.3 1265.2 L1644.6 1267.6 L1648.9 1270.4 L1653.2 1274.5 L1657.5 1279.6 L1661.8 1284.1 L1666.1 1288.9 L1670.5 1293.3 L1674.8 1299.5 L1679.1 1304.4 L1683.4 1310.7 L1687.7 1316.2 L1692 1322.4 L1696.3 1325.5 L1700.6 1330 L1704.9 1334.1 L1709.2 1340 L1713.5 1345.3 L1717.8 1349 L1722.1 1351.9 L1726.4 1359 L1730.7 1363.2 L1735 1367.3 L1739.3 1370.5 L1743.7 1375.9 L1748 1380.3 L1752.3 1383.3 L1756.6 1387.2 L1760.9 1390.2 L1765.2 1391.3 L1769.5 1393.1 L1773.8 1395.7 L1778.1 1396 L1782.4 1399.8 L1786.7 1402.9 L1791 1406.3 L1795.3 1409.1 L1799.6 1408.4 L1803.9 1411.6 L1808.2 1411.4 L1812.5 1412.3 L1816.9 1416.9 L1821.2 1419.7 L1825.5 1422 L1829.8 1424.1 L1834.1 1424.7 L1838.4 1427.8 L1842.7 1426.8 L1847 1427.6 L1851.3 1429.7 L1855.6 1430.5 L1859.9 1431.8 L1864.2 1433.9 L1868.5 1434.7 L1872.8 1435.7 L1877.1 1435.7 L1881.4 1436 L1885.7 1436.4 L1890.1 1436.8 L1894.4 1437.7 L1898.7 1437.5 L1903 1438.3 L1907.3 1439.1 L1911.6 1440.5 L1915.9 1440.1 L1920.2 1440.5 L1924.5 1441.6 L1928.8 1442.9 L1933.1 1442.6 L1937.4 1443.7 L1941.7 1444 L1946 1443.8 L1950.3 1444.1 L1954.6 1444.5 L1958.9 1444.3 L1963.3 1444.7 L1967.6 1445.5 L1971.9 1446.2 L1976.2 1445.8 L1980.5 1446.1 L1984.8 1446.2 L1989.1 1446.4 L1993.4 1447 L1997.7 1447.3" fill="none" stroke="#f7941d" stroke-width="6.6" stroke-dasharray="25.5 23.5" stroke-linejoin="round"/>
<path d="M1631.7 1248.4 L1636 1249.4 L1640.3 1265.3 L1644.6 1268 L1648.9 1271.4 L1653.2 1276.1 L1657.5 1281.8 L1661.8 1287.1 L1666.1 1291.1 L1670.5 1294.8 L1674.8 1300.5 L1679.1 1304.6 L1683.4 1311.5 L1687.7 1317 L1692 1323.3 L1696.3 1329.2 L1700.6 1337.4 L1704.9 1343.6 L1709.2 1348.5 L1713.5 1352.9 L1717.8 1360 L1722.1 1363.4 L1726.4 1368 L1730.7 1373 L1735 1377.3 L1739.3 1382 L1743.7 1386.2 L1748 1391.3 L1752.3 1395.6 L1756.6 1402.1 L1760.9 1404.7 L1765.2 1406.5 L1769.5 1408.4 L1773.8 1410.1 L1778.1 1412.3 L1782.4 1415.5 L1786.7 1416.8 L1791 1418.4 L1795.3 1421.2 L1799.6 1424.3 L1803.9 1427.3 L1808.2 1429.3 L1812.5 1430.9 L1816.9 1432.9 L1821.2 1435.7 L1825.5 1437.5 L1829.8 1439.1 L1834.1 1440.5 L1838.4 1440.5 L1842.7 1441.6 L1847 1443.5 L1851.3 1443.8 L1855.6 1445.4 L1859.9 1446.3 L1864.2 1447 L1868.5 1447.4 L1872.8 1447.8 L1877.1 1449 L1881.4 1449.8 L1885.7 1449.9 L1890.1 1450.6 L1894.4 1451.2 L1898.7 1452.1 L1903 1452.7 L1907.3 1453.3 L1911.6 1453.7 L1915.9 1454.1 L1920.2 1454.7 L1924.5 1454.8 L1928.8 1455 L1933.1 1455.3 L1937.4 1455.4 L1941.7 1455.8 L1946 1455.9 L1950.3 1456.1 L1954.6 1456.4 L1958.9 1456.7 L1963.3 1456.6 L1967.6 1456.7 L1971.9 1457.1 L1976.2 1457.1 L1980.5 1457.2 L1984.8 1457.3 L1989.1 1457.7 L1993.4 1457.6 L1997.7 1457.9" fill="none" stroke="#960000" stroke-width="6.2" stroke-linejoin="round"/>
<path d="M1631.7 1248.4 L1636 1249.4 L1640.3 1265.4 L1644.6 1268.3 L1648.9 1271.5 L1653.2 1276.4 L1657.5 1281.7 L1661.8 1287.4 L1666.1 1291.4 L1670.5 1294.6 L1674.8 1300.6 L1679.1 1305 L1683.4 1312 L1687.7 1317.3 L1692 1323.1 L1696.3 1328.4 L1700.6 1336.4 L1704.9 1342.9 L1709.2 1348.8 L1713.5 1353.1 L1717.8 1360.9 L1722.1 1364.4 L1726.4 1368.5 L1730.7 1373.1 L1735 1378.2 L1739.3 1382.2 L1743.7 1386.4 L1748 1390.9 L1752.3 1396.3 L1756.6 1403.1 L1760.9 1404.9 L1765.2 1406.3 L1769.5 1407.9 L1773.8 1409.5 L1778.1 1411.8 L1782.4 1416.1 L1786.7 1416.2 L1791 1418.5 L1795.3 1421.6 L1799.6 1424.1 L1803.9 1425.8 L1808.2 1428 L1812.5 1429.8 L1816.9 1432.4 L1821.2 1435.2 L1825.5 1436.6 L1829.8 1437.8 L1834.1 1439.2 L1838.4 1439.2 L1842.7 1440.7 L1847 1442.8 L1851.3 1443.2 L1855.6 1444.6 L1859.9 1445.7 L1864.2 1446.7 L1868.5 1447.3 L1872.8 1448 L1877.1 1449.3 L1881.4 1449.5 L1885.7 1449.8 L1890.1 1450.8 L1894.4 1451.6 L1898.7 1452.3 L1903 1453 L1907.3 1453.4 L1911.6 1454 L1915.9 1454.3 L1920.2 1455 L1924.5 1454.8 L1928.8 1455 L1933.1 1455.3 L1937.4 1455.5 L1941.7 1455.9 L1946 1455.8 L1950.3 1456 L1954.6 1456.3 L1958.9 1456.7 L1963.3 1456.6 L1967.6 1456.8 L1971.9 1457.3 L1976.2 1457.2 L1980.5 1457.1 L1984.8 1457.3 L1989.1 1457.6 L1993.4 1457.5 L1997.7 1457.9" fill="none" stroke="#960000" stroke-width="6.6" stroke-dasharray="25.5 23.5" stroke-linejoin="round"/>
</g>
<g>
<path d="M146.2 1822.7V1616.9M167.8 1822.7V1616.9M189.3 1822.7V1616.9M210.8 1822.7V1616.9M232.3 1822.7V1616.9M253.9 1822.7V1616.9M275.4 1822.7V1616.9M296.9 1822.7V1616.9M318.5 1822.7V1616.9M340 1822.7V1616.9M361.5 1822.7V1616.9M383.1 1822.7V1616.9M404.6 1822.7V1616.9M426.1 1822.7V1616.9M447.6 1822.7V1616.9M469.2 1822.7V1616.9M129 1806H490.7M129 1785H490.7M129 1764H490.7M129 1743H490.7M129 1722H490.7M129 1700.9H490.7M129 1679.9H490.7M129 1658.9H490.7M129 1637.9H490.7" fill="none" stroke="#9a9a9a" stroke-width="1.5" stroke-dasharray="1.5 7.1" opacity="0.6"/>
<rect x="124.7" y="1616.9" width="366" height="210.1" fill="none" stroke="#303030" stroke-width="1.3"/>
<path d="M146.2 1827v-4.2M146.2 1616.9v4.2M232.3 1827v-4.2M232.3 1616.9v4.2M318.5 1827v-4.2M318.5 1616.9v4.2M404.6 1827v-4.2M404.6 1616.9v4.2M490.7 1827v-4.2M490.7 1616.9v4.2M124.7 1827h4.2M490.7 1827h-4.2M124.7 1722h4.2M490.7 1722h-4.2M124.7 1616.9h4.2M490.7 1616.9h-4.2" fill="none" stroke="#303030" stroke-width="1.4"/>
<g font-size="32.8" fill="#000">
<text x="144.5" y="1870.6" text-anchor="middle">2020</text>
<text x="230.6" y="1870.6" text-anchor="middle">2040</text>
<text x="316.8" y="1870.6" text-anchor="middle">2060</text>
<text x="402.9" y="1870.6" text-anchor="middle">2080</text>
<text x="489" y="1870.6" text-anchor="middle">2100</text>
<text x="111.1" y="1839.5" text-anchor="end">0</text>
<text x="111.1" y="1734.5" text-anchor="end">50</text>
<text x="111.1" y="1629.4" text-anchor="end">100</text>
</g>
<text x="307.7" y="1604.7" text-anchor="middle" font-weight="bold" font-size="35.35" clip-path="url(#tclip)">R17 Southern Andes</text>
<path d="M198.7 1709.2H270.5V1826.4H198.7" fill="none" stroke="#000" stroke-width="3.4" stroke-dasharray="11.6 4.6"/>
<path d="M198.7 1826.4V1709.2H125.2V1826.4H200.4" fill="none" stroke="#000" stroke-width="3.4" stroke-linejoin="miter"/>
<g font-size="28.1">
<text x="129.8" y="1743.8" fill="#0a1f5c">-47%</text>
<text x="202.5" y="1743.8" fill="#0a1f5c">-47%</text>
<text x="129.8" y="1777.1" fill="#fb8208">-56%</text>
<text x="202.5" y="1777.1" fill="#fb8208">-55%</text>
<text x="129.8" y="1810.4" fill="#8e0000">-74%</text>
<text x="202.5" y="1810.4" fill="#8e0000">-74%</text>
</g>
<path d="M124.7 1616.9 L129 1618.5 L133.3 1619.9 L137.6 1621.9 L141.9 1622.6 L146.2 1624.8 L150.5 1626.8 L154.8 1628.4 L159.1 1628.7 L163.5 1631.4 L167.8 1631.9 L172.1 1633.7 L176.4 1634.5 L180.7 1636.1 L185 1637.6 L189.3 1638 L193.6 1638.2 L197.9 1639.8 L202.2 1640.3 L206.5 1641.2 L210.8 1643 L215.1 1644.5 L219.4 1644.8 L223.7 1645.8 L228 1648.4 L232.3 1649.9 L236.7 1651.5 L241 1652.7 L245.3 1653.1 L249.6 1655.5 L253.9 1656.1 L258.2 1657.4 L262.5 1658.8 L266.8 1660.4 L271.1 1662.8 L275.4 1663.6 L279.7 1665.8 L284 1666.5 L288.3 1668.6 L292.6 1669.6 L296.9 1671.2 L301.2 1672.4 L305.5 1673.5 L309.9 1673 L314.2 1673.7 L318.5 1676 L322.8 1676.9 L327.1 1678.9 L331.4 1680.2 L335.7 1681.5 L340 1682.6 L344.3 1684.2 L348.6 1685.9 L352.9 1686.7 L357.2 1688.6 L361.5 1689 L365.8 1690.5 L370.1 1691.8 L374.4 1693.3 L378.7 1695.7 L383.1 1696.2 L387.4 1696.4 L391.7 1697.9 L396 1698.7 L400.3 1699.8 L404.6 1701.3 L408.9 1701.9 L413.2 1703.9 L417.5 1704.3 L421.8 1705.1 L426.1 1705.9 L430.4 1706.4 L434.7 1708.2 L439 1709.4 L443.3 1710 L447.6 1710.8 L451.9 1710.8 L456.3 1710.6 L460.6 1711.5 L464.9 1712.2 L469.2 1713.5 L473.5 1713.3 L477.8 1713.2 L482.1 1714.7 L486.4 1715.8 L490.7 1715.6" fill="none" stroke="#0c2d64" stroke-width="6.2" stroke-linejoin="round"/>
<path d="M124.7 1616.9 L129 1618.5 L133.3 1620 L137.6 1621.9 L141.9 1622.6 L146.2 1624.9 L150.5 1627 L154.8 1628.7 L159.1 1629 L163.5 1631.7 L167.8 1632.1 L172.1 1634.2 L176.4 1634.7 L180.7 1636.4 L185 1637.6 L189.3 1638.4 L193.6 1638.5 L197.9 1639.2 L202.2 1640.1 L206.5 1640.5 L210.8 1642.1 L215.1 1644 L219.4 1644.2 L223.7 1645.1 L228 1648 L232.3 1649.6 L236.7 1650.8 L241 1651.9 L245.3 1653.1 L249.6 1654.9 L253.9 1655.8 L258.2 1657.6 L262.5 1659.2 L266.8 1660.6 L271.1 1662.9 L275.4 1663.7 L279.7 1665.3 L284 1666.4 L288.3 1668.4 L292.6 1669.3 L296.9 1670.8 L301.2 1672.2 L305.5 1673.2 L309.9 1672.8 L314.2 1673.9 L318.5 1676 L322.8 1676.9 L327.1 1679.1 L331.4 1680.1 L335.7 1681.2 L340 1681.9 L344.3 1683.7 L348.6 1685 L352.9 1685.4 L357.2 1688.1 L361.5 1688 L365.8 1689.7 L370.1 1691.1 L374.4 1692.5 L378.7 1694.2 L383.1 1695.3 L387.4 1695.4 L391.7 1696.9 L396 1698.4 L400.3 1699 L404.6 1700.5 L408.9 1701.5 L413.2 1703.4 L417.5 1704.2 L421.8 1704.9 L426.1 1705.4 L430.4 1706.4 L434.7 1707.1 L439 1708.3 L443.3 1709.7 L447.6 1710.8 L451.9 1710.7 L456.3 1710.1 L460.6 1711 L464.9 1711.6 L469.2 1712.3 L473.5 1712.1 L477.8 1712.4 L482.1 1714.3 L486.4 1715.4 L490.7 1715.6" fill="none" stroke="#0c2d64" stroke-width="6.6" stroke-dasharray="25.5 23.5" stroke-linejoin="round"/>
<path d="M124.7 1616.9 L129 1618 L133.3 1619.6 L137.6 1620 L141.9 1621.4 L146.2 1623.3 L150.5 1624.5 L154.8 1625.5 L159.1 1626.9 L163.5 1628.5 L167.8 1631.3 L172.1 1631.2 L176.4 1632.7 L180.7 1634.3 L185 1636 L189.3 1636.5 L193.6 1639.4 L197.9 1639.6 L202.2 1641.2 L206.5 1642.5 L210.8 1643.5 L215.1 1644.1 L219.4 1644.9 L223.7 1647.3 L228 1648.7 L232.3 1650 L236.7 1651.5 L241 1653 L245.3 1654.9 L249.6 1656.9 L253.9 1657.5 L258.2 1660.1 L262.5 1662.7 L266.8 1664.1 L271.1 1666.6 L275.4 1668.1 L279.7 1669.7 L284 1670.7 L288.3 1671.1 L292.6 1671.9 L296.9 1673.4 L301.2 1675 L305.5 1677.2 L309.9 1678.9 L314.2 1681.2 L318.5 1681.7 L322.8 1682.9 L327.1 1684.3 L331.4 1685.9 L335.7 1686.8 L340 1687.5 L344.3 1689.5 L348.6 1692.1 L352.9 1693.3 L357.2 1694.7 L361.5 1696.3 L365.8 1696.7 L370.1 1697.4 L374.4 1700.7 L378.7 1703.4 L383.1 1703.8 L387.4 1705.4 L391.7 1707.1 L396 1707.6 L400.3 1708.8 L404.6 1709.7 L408.9 1712.2 L413.2 1713.1 L417.5 1714.6 L421.8 1716.1 L426.1 1716.6 L430.4 1718.3 L434.7 1718.9 L439 1719.9 L443.3 1721.7 L447.6 1722.9 L451.9 1723.6 L456.3 1724.9 L460.6 1725.6 L464.9 1727.8 L469.2 1729.5 L473.5 1732.3 L477.8 1733.1 L482.1 1732.5 L486.4 1734 L490.7 1734.6" fill="none" stroke="#f7941d" stroke-width="6.2" stroke-linejoin="round"/>
<path d="M124.7 1616.9 L129 1618 L133.3 1619.6 L137.6 1620 L141.9 1621.2 L146.2 1623 L150.5 1624.4 L154.8 1625.2 L159.1 1626.4 L163.5 1628.3 L167.8 1631.2 L172.1 1631.3 L176.4 1632.6 L180.7 1633.8 L185 1636 L189.3 1636.6 L193.6 1639.7 L197.9 1640.3 L202.2 1641.5 L206.5 1642.7 L210.8 1643.2 L215.1 1643.5 L219.4 1644.6 L223.7 1647.1 L228 1648.2 L232.3 1650 L236.7 1651.5 L241 1652.8 L245.3 1654.7 L249.6 1656.5 L253.9 1657.6 L258.2 1660.3 L262.5 1663 L266.8 1663.9 L271.1 1665.7 L275.4 1667.1 L279.7 1669.1 L284 1669.7 L288.3 1670.5 L292.6 1672 L296.9 1673.5 L301.2 1675.3 L305.5 1676.4 L309.9 1679.1 L314.2 1681.3 L318.5 1681.7 L322.8 1683.1 L327.1 1684.6 L331.4 1686.3 L335.7 1687.6 L340 1687.7 L344.3 1688.9 L348.6 1692 L352.9 1692.5 L357.2 1694.2 L361.5 1695.4 L365.8 1695.8 L370.1 1695.6 L374.4 1699.2 L378.7 1702.5 L383.1 1703.2 L387.4 1704.9 L391.7 1707.1 L396 1707.7 L400.3 1708.5 L404.6 1709.1 L408.9 1711 L413.2 1711.7 L417.5 1712.5 L421.8 1714.6 L426.1 1716.5 L430.4 1718.4 L434.7 1718.9 L439 1720 L443.3 1721.2 L447.6 1721.7 L451.9 1722.3 L456.3 1724.2 L460.6 1724.6 L464.9 1727.2 L469.2 1728.5 L473.5 1731.3 L477.8 1731.5 L482.1 1730.3 L486.4 1731.9 L490.7 1732.5" fill="none" stroke="#f7941d" stroke-width="6.6" stroke-dasharray="25.5 23.5" stroke-linejoin="round"/>
<path d="M124.7 1616.9 L129 1618.3 L133.3 1620 L137.6 1621.3 L141.9 1623.3 L146.2 1624.4 L150.5 1626.6 L154.8 1627.4 L159.1 1628.8 L163.5 1629.2 L167.8 1631.3 L172.1 1633 L176.4 1632.6 L180.7 1633.4 L185 1634.7 L189.3 1635.9 L193.6 1637.3 L197.9 1639 L202.2 1641.1 L206.5 1642.6 L210.8 1644.6 L215.1 1645.2 L219.4 1647.5 L223.7 1648.8 L228 1650 L232.3 1652.2 L236.7 1655 L241 1656.5 L245.3 1659.6 L249.6 1661.2 L253.9 1662.9 L258.2 1665.9 L262.5 1667.5 L266.8 1669 L271.1 1671.5 L275.4 1674.5 L279.7 1677.1 L284 1679 L288.3 1680.9 L292.6 1682.1 L296.9 1682.6 L301.2 1685.2 L305.5 1687.2 L309.9 1689 L314.2 1690.3 L318.5 1691.9 L322.8 1693.6 L327.1 1696.8 L331.4 1698.4 L335.7 1702.3 L340 1703.8 L344.3 1706.2 L348.6 1708.9 L352.9 1711.6 L357.2 1713.2 L361.5 1714.9 L365.8 1715.7 L370.1 1718.4 L374.4 1720.7 L378.7 1722.2 L383.1 1723.6 L387.4 1726.2 L391.7 1727.8 L396 1730.9 L400.3 1733.4 L404.6 1734 L408.9 1735.5 L413.2 1737.5 L417.5 1740.5 L421.8 1742.2 L426.1 1742.5 L430.4 1745 L434.7 1745.5 L439 1747.7 L443.3 1750.5 L447.6 1753.5 L451.9 1755.2 L456.3 1757.9 L460.6 1759.3 L464.9 1761.6 L469.2 1763.1 L473.5 1765.2 L477.8 1765.7 L482.1 1768 L486.4 1770.4 L490.7 1772.4" fill="none" stroke="#960000" stroke-width="6.2" stroke-linejoin="round"/>
<path d="M124.7 1616.9 L129 1618.4 L133.3 1620 L137.6 1621.4 L141.9 1623.4 L146.2 1624.5 L150.5 1626.7 L154.8 1627.6 L159.1 1628.9 L163.5 1629.3 L167.8 1631.2 L172.1 1632.9 L176.4 1632.8 L180.7 1633.3 L185 1634.8 L189.3 1635.5 L193.6 1637.2 L197.9 1638.9 L202.2 1641.3 L206.5 1641.8 L210.8 1644.6 L215.1 1645.4 L219.4 1648.6 L223.7 1649.8 L228 1651.1 L232.3 1653 L236.7 1654.9 L241 1656.2 L245.3 1658.6 L249.6 1660.4 L253.9 1662.5 L258.2 1666.1 L262.5 1667.5 L266.8 1669.2 L271.1 1671.5 L275.4 1674.6 L279.7 1677 L284 1679 L288.3 1681 L292.6 1682.4 L296.9 1682.5 L301.2 1685.2 L305.5 1687.5 L309.9 1690.1 L314.2 1691.4 L318.5 1693.5 L322.8 1694.6 L327.1 1697.2 L331.4 1699 L335.7 1703.1 L340 1704.8 L344.3 1707.5 L348.6 1710.3 L352.9 1712.7 L357.2 1714.2 L361.5 1715.6 L365.8 1716.6 L370.1 1720 L374.4 1722 L378.7 1723.2 L383.1 1723.9 L387.4 1726.8 L391.7 1728 L396 1731.2 L400.3 1734.3 L404.6 1734.8 L408.9 1736.8 L413.2 1738.6 L417.5 1741.6 L421.8 1743.2 L426.1 1742.2 L430.4 1745.5 L434.7 1746.4 L439 1748.2 L443.3 1751.8 L447.6 1755.6 L451.9 1756.9 L456.3 1759.6 L460.6 1759.9 L464.9 1762.7 L469.2 1763.5 L473.5 1765.5 L477.8 1765.9 L482.1 1768 L486.4 1770 L490.7 1772.4" fill="none" stroke="#960000" stroke-width="6.6" stroke-dasharray="25.5 23.5" stroke-linejoin="round"/>
<text transform="translate(44 1722.2) rotate(-90)" text-anchor="middle" font-size="35">V (%, vs. 2015)</text>
<text x="308" y="1914" text-anchor="middle" font-size="37.5">Year</text>
</g>
<g>
<path d="M648.3 1822.7V1616.9M669.9 1822.7V1616.9M691.4 1822.7V1616.9M712.9 1822.7V1616.9M734.4 1822.7V1616.9M756 1822.7V1616.9M777.5 1822.7V1616.9M799 1822.7V1616.9M820.6 1822.7V1616.9M842.1 1822.7V1616.9M863.6 1822.7V1616.9M885.2 1822.7V1616.9M906.7 1822.7V1616.9M928.2 1822.7V1616.9M949.7 1822.7V1616.9M971.3 1822.7V1616.9M631.1 1806.7H992.8M631.1 1786.5H992.8M631.1 1766.2H992.8M631.1 1745.9H992.8M631.1 1725.6H992.8M631.1 1705.4H992.8M631.1 1685.1H992.8M631.1 1664.8H992.8M631.1 1644.6H992.8" fill="none" stroke="#9a9a9a" stroke-width="1.5" stroke-dasharray="1.5 7.1" opacity="0.6"/>
<rect x="626.8" y="1616.9" width="366" height="210.1" fill="none" stroke="#303030" stroke-width="1.3"/>
<path d="M648.3 1827v-4.2M648.3 1616.9v4.2M734.4 1827v-4.2M734.4 1616.9v4.2M820.6 1827v-4.2M820.6 1616.9v4.2M906.7 1827v-4.2M906.7 1616.9v4.2M992.8 1827v-4.2M992.8 1616.9v4.2M626.8 1827h4.2M992.8 1827h-4.2M626.8 1725.6h4.2M992.8 1725.6h-4.2M626.8 1624.3h4.2M992.8 1624.3h-4.2" fill="none" stroke="#303030" stroke-width="1.4"/>
<g font-size="32.8" fill="#000">
<text x="646.6" y="1870.6" text-anchor="middle">2020</text>
<text x="732.7" y="1870.6" text-anchor="middle">2040</text>
<text x="818.9" y="1870.6" text-anchor="middle">2060</text>
<text x="905" y="1870.6" text-anchor="middle">2080</text>
<text x="991.1" y="1870.6" text-anchor="middle">2100</text>
<text x="613.2" y="1839.5" text-anchor="end">0</text>
<text x="613.2" y="1738.1" text-anchor="end">50</text>
<text x="613.2" y="1636.8" text-anchor="end">100</text>
</g>
<text x="809.8" y="1604.7" text-anchor="middle" font-weight="bold" font-size="35.35" clip-path="url(#tclip)">R18 New Zealand</text>
<path d="M700.8 1709.2H772.6V1826.4H700.8" fill="none" stroke="#000" stroke-width="3.4" stroke-dasharray="11.6 4.6"/>
<path d="M700.8 1826.4V1709.2H627.3V1826.4H702.5" fill="none" stroke="#000" stroke-width="3.4" stroke-linejoin="miter"/>
<g font-size="28.1">
<text x="631.9" y="1743.8" fill="#0a1f5c">-52%</text>
<text x="704.6" y="1743.8" fill="#0a1f5c">-51%</text>
<text x="631.9" y="1777.1" fill="#fb8208">-70%</text>
<text x="704.6" y="1777.1" fill="#fb8208">-67%</text>
<text x="631.9" y="1810.4" fill="#8e0000">-87%</text>
<text x="704.6" y="1810.4" fill="#8e0000">-86%</text>
</g>
<path d="M626.8 1623.5 L631.1 1619.9 L635.4 1616.9 L639.7 1617 L644 1630.4 L648.3 1636.3 L652.6 1638.8 L656.9 1641.5 L661.2 1645.7 L665.6 1648.5 L669.9 1650 L674.2 1650.5 L678.5 1650.1 L682.8 1653.7 L687.1 1654.3 L691.4 1654.7 L695.7 1656.8 L700 1658.1 L704.3 1659.7 L708.6 1660.5 L712.9 1662 L717.2 1666.4 L721.5 1670.8 L725.8 1674.5 L730.1 1679.5 L734.4 1685 L738.8 1693.5 L743.1 1690.8 L747.4 1687.5 L751.7 1691.2 L756 1694.8 L760.3 1692.7 L764.6 1690.3 L768.9 1697.9 L773.2 1700.4 L777.5 1702.1 L781.8 1703.7 L786.1 1705.1 L790.4 1704 L794.7 1703.2 L799 1706.9 L803.3 1710.9 L807.6 1712.6 L812 1714.2 L816.3 1716.4 L820.6 1718.3 L824.9 1717.9 L829.2 1717.9 L833.5 1717.9 L837.8 1719.2 L842.1 1719.9 L846.4 1715.1 L850.7 1714.9 L855 1714.3 L859.3 1715.7 L863.6 1716.9 L867.9 1716.1 L872.2 1715.7 L876.5 1717.5 L880.8 1719.3 L885.2 1718.9 L889.5 1718.7 L893.8 1716 L898.1 1719.8 L902.4 1722.3 L906.7 1724.7 L911 1727 L915.3 1728.5 L919.6 1730 L923.9 1732.7 L928.2 1732.5 L932.5 1732 L936.8 1731.2 L941.1 1730.3 L945.4 1731.7 L949.7 1732.9 L954 1733.6 L958.4 1734.1 L962.7 1735.6 L967 1737 L971.3 1734.6 L975.6 1731.7 L979.9 1730.7 L984.2 1729.1 L988.5 1729.6 L992.8 1729.7" fill="none" stroke="#0c2d64" stroke-width="6.2" stroke-linejoin="round"/>
<path d="M626.8 1623.5 L631.1 1619.9 L635.4 1616.8 L639.7 1616.9 L644 1630.2 L648.3 1636.2 L652.6 1638.7 L656.9 1641.3 L661.2 1645.4 L665.6 1648.1 L669.9 1649.6 L674.2 1650 L678.5 1649.7 L682.8 1653.4 L687.1 1653.8 L691.4 1653.9 L695.7 1656.1 L700 1657.4 L704.3 1659.2 L708.6 1659.7 L712.9 1661 L717.2 1665.6 L721.5 1669.7 L725.8 1673.1 L730.1 1678.4 L734.4 1683.9 L738.8 1692.5 L743.1 1690 L747.4 1686.2 L751.7 1689.5 L756 1692.6 L760.3 1690.7 L764.6 1688.4 L768.9 1695.8 L773.2 1698.1 L777.5 1699.5 L781.8 1699.9 L786.1 1700.4 L790.4 1698.1 L794.7 1696.5 L799 1700.1 L803.3 1705.1 L807.6 1709.2 L812 1712.4 L816.3 1714.6 L820.6 1716.8 L824.9 1716 L829.2 1716.3 L833.5 1716.9 L837.8 1718.1 L842.1 1717.3 L846.4 1709.7 L850.7 1708.2 L855 1708.6 L859.3 1711.6 L863.6 1714.4 L867.9 1714 L872.2 1713.7 L876.5 1715.6 L880.8 1717.4 L885.2 1717.2 L889.5 1717.4 L893.8 1714.9 L898.1 1719.1 L902.4 1722 L906.7 1724.4 L911 1726.3 L915.3 1727.2 L919.6 1728.6 L923.9 1731.4 L928.2 1730.5 L932.5 1730.2 L936.8 1729.3 L941.1 1728.4 L945.4 1729.5 L949.7 1731.2 L954 1731.4 L958.4 1732.3 L962.7 1734.2 L967 1735.3 L971.3 1733.3 L975.6 1729.9 L979.9 1728.6 L984.2 1726.7 L988.5 1727.3 L992.8 1727.7" fill="none" stroke="#0c2d64" stroke-width="6.6" stroke-dasharray="25.5 23.5" stroke-linejoin="round"/>
<path d="M626.8 1623.5 L631.1 1619.9 L635.4 1616.7 L639.7 1616 L644 1629.9 L648.3 1636 L652.6 1639.6 L656.9 1642.1 L661.2 1644.8 L665.6 1648.4 L669.9 1651.2 L674.2 1652.7 L678.5 1654.3 L682.8 1656.2 L687.1 1659.3 L691.4 1661.3 L695.7 1665 L700 1668.8 L704.3 1672.3 L708.6 1675.3 L712.9 1678.3 L717.2 1679.2 L721.5 1680.2 L725.8 1681.9 L730.1 1685.2 L734.4 1688.2 L738.8 1690.3 L743.1 1692.5 L747.4 1694.7 L751.7 1697.8 L756 1700.2 L760.3 1701.5 L764.6 1702.8 L768.9 1703.8 L773.2 1705.3 L777.5 1706.6 L781.8 1707.7 L786.1 1708.1 L790.4 1708.1 L794.7 1709.2 L799 1710.1 L803.3 1714.9 L807.6 1717.2 L812 1719.1 L816.3 1721.4 L820.6 1723.9 L824.9 1724.9 L829.2 1725.9 L833.5 1727.6 L837.8 1728.6 L842.1 1728.1 L846.4 1729.7 L850.7 1731.1 L855 1732.6 L859.3 1734.4 L863.6 1738.5 L867.9 1739.6 L872.2 1741.1 L876.5 1742 L880.8 1742.4 L885.2 1743.2 L889.5 1745.1 L893.8 1746.5 L898.1 1748.6 L902.4 1749.9 L906.7 1751.6 L911 1751.9 L915.3 1751.9 L919.6 1754.6 L923.9 1756.4 L928.2 1759.9 L932.5 1755.8 L936.8 1754 L941.1 1753.5 L945.4 1752.9 L949.7 1752.6 L954 1754.3 L958.4 1755.7 L962.7 1757 L967 1758.7 L971.3 1759.8 L975.6 1761.3 L979.9 1762.2 L984.2 1763.8 L988.5 1765.1 L992.8 1766.2" fill="none" stroke="#f7941d" stroke-width="6.2" stroke-linejoin="round"/>
<path d="M626.8 1623.5 L631.1 1619.8 L635.4 1616.7 L639.7 1615.9 L644 1629.8 L648.3 1635.9 L652.6 1639.4 L656.9 1642.1 L661.2 1644.7 L665.6 1648 L669.9 1650.9 L674.2 1652.4 L678.5 1654.1 L682.8 1655.9 L687.1 1659 L691.4 1660.8 L695.7 1664.9 L700 1668.3 L704.3 1671.6 L708.6 1674.7 L712.9 1677.4 L717.2 1678 L721.5 1679.5 L725.8 1681 L730.1 1684 L734.4 1687.1 L738.8 1688.4 L743.1 1689.4 L747.4 1689.9 L751.7 1691.3 L756 1692.7 L760.3 1693.4 L764.6 1695.9 L768.9 1698.6 L773.2 1702.3 L777.5 1704.7 L781.8 1705.5 L786.1 1706.2 L790.4 1706.6 L794.7 1707.7 L799 1708.5 L803.3 1713 L807.6 1715.2 L812 1717.4 L816.3 1720.1 L820.6 1722.3 L824.9 1722.8 L829.2 1722.4 L833.5 1722.2 L837.8 1721.3 L842.1 1719.3 L846.4 1720 L850.7 1720.6 L855 1722.9 L859.3 1726 L863.6 1731.2 L867.9 1733.2 L872.2 1735 L876.5 1735.8 L880.8 1735.2 L885.2 1734.9 L889.5 1735.5 L893.8 1736.4 L898.1 1738 L902.4 1739.4 L906.7 1741.5 L911 1742.9 L915.3 1744.2 L919.6 1747.8 L923.9 1750.9 L928.2 1755.5 L932.5 1752.8 L936.8 1751.9 L941.1 1751.5 L945.4 1750.7 L949.7 1750.5 L954 1752 L958.4 1753.1 L962.7 1753.9 L967 1755.3 L971.3 1756.1 L975.6 1757.5 L979.9 1757.5 L984.2 1758.5 L988.5 1759.6 L992.8 1760.1" fill="none" stroke="#f7941d" stroke-width="6.6" stroke-dasharray="25.5 23.5" stroke-linejoin="round"/>
<path d="M626.8 1623.5 L631.1 1619.9 L635.4 1616.9 L639.7 1618.2 L644 1630.9 L648.3 1636.2 L652.6 1638.9 L656.9 1641.4 L661.2 1642.6 L665.6 1642.2 L669.9 1643 L674.2 1642.2 L678.5 1645.8 L682.8 1652.2 L687.1 1652.3 L691.4 1651.9 L695.7 1657.4 L700 1659.5 L704.3 1662.3 L708.6 1663.6 L712.9 1664.5 L717.2 1665.6 L721.5 1667.4 L725.8 1667.5 L730.1 1670.3 L734.4 1673.2 L738.8 1681.1 L743.1 1678.6 L747.4 1680.1 L751.7 1681.5 L756 1683.2 L760.3 1683.6 L764.6 1690.5 L768.9 1700.6 L773.2 1703.9 L777.5 1707.2 L781.8 1707.5 L786.1 1707.7 L790.4 1714.4 L794.7 1715.9 L799 1718.1 L803.3 1721.7 L807.6 1727.8 L812 1733.7 L816.3 1735.5 L820.6 1736.9 L824.9 1738.9 L829.2 1740.5 L833.5 1741.5 L837.8 1741.9 L842.1 1744.3 L846.4 1746.2 L850.7 1748.6 L855 1750.9 L859.3 1753.2 L863.6 1755 L867.9 1757 L872.2 1759.1 L876.5 1759.9 L880.8 1760.8 L885.2 1761.6 L889.5 1762.5 L893.8 1762.7 L898.1 1763.7 L902.4 1765.6 L906.7 1767.4 L911 1769.5 L915.3 1771.3 L919.6 1773.5 L923.9 1775 L928.2 1777.3 L932.5 1779.6 L936.8 1781.8 L941.1 1783.7 L945.4 1785.7 L949.7 1787.5 L954 1788.8 L958.4 1790 L962.7 1790.6 L967 1790.5 L971.3 1792.4 L975.6 1794 L979.9 1795.6 L984.2 1797.6 L988.5 1799.3 L992.8 1800.6" fill="none" stroke="#960000" stroke-width="6.2" stroke-linejoin="round"/>
<path d="M626.8 1623.5 L631.1 1619.8 L635.4 1616.8 L639.7 1618 L644 1630.7 L648.3 1636 L652.6 1638.7 L656.9 1641.2 L661.2 1642.5 L665.6 1642 L669.9 1642.7 L674.2 1641.8 L678.5 1645.4 L682.8 1651.7 L687.1 1651.9 L691.4 1651.6 L695.7 1656.9 L700 1659.4 L704.3 1662.5 L708.6 1663.3 L712.9 1664.2 L717.2 1665.1 L721.5 1666.5 L725.8 1666.7 L730.1 1669.6 L734.4 1672.7 L738.8 1680.3 L743.1 1678.1 L747.4 1679.5 L751.7 1680.5 L756 1682.3 L760.3 1682.2 L764.6 1689 L768.9 1699.1 L773.2 1702.5 L777.5 1705.6 L781.8 1705.9 L786.1 1705.9 L790.4 1712.7 L794.7 1714.4 L799 1716.5 L803.3 1719.6 L807.6 1725.6 L812 1731.5 L816.3 1733.1 L820.6 1734.5 L824.9 1735.9 L829.2 1736.6 L833.5 1736.7 L837.8 1737 L842.1 1739.3 L846.4 1741.6 L850.7 1744.1 L855 1746.5 L859.3 1749.2 L863.6 1750.9 L867.9 1752.9 L872.2 1755.3 L876.5 1756 L880.8 1756.8 L885.2 1757.5 L889.5 1758.5 L893.8 1759.2 L898.1 1759.9 L902.4 1761.6 L906.7 1763 L911 1765.2 L915.3 1767 L919.6 1769.4 L923.9 1770.8 L928.2 1772.8 L932.5 1775.2 L936.8 1777.3 L941.1 1779.2 L945.4 1781.4 L949.7 1783.5 L954 1784.8 L958.4 1786.3 L962.7 1787.2 L967 1787.3 L971.3 1789 L975.6 1790.8 L979.9 1792.8 L984.2 1795.3 L988.5 1797.2 L992.8 1798.6" fill="none" stroke="#960000" stroke-width="6.6" stroke-dasharray="25.5 23.5" stroke-linejoin="round"/>
<text x="810.1" y="1914" text-anchor="middle" font-size="37.5">Year</text>
</g>
<g>
<path d="M1151.1 1822.7V1616.9M1172.7 1822.7V1616.9M1194.2 1822.7V1616.9M1215.7 1822.7V1616.9M1237.2 1822.7V1616.9M1258.8 1822.7V1616.9M1280.3 1822.7V1616.9M1301.8 1822.7V1616.9M1323.4 1822.7V1616.9M1344.9 1822.7V1616.9M1366.4 1822.7V1616.9M1388 1822.7V1616.9M1409.5 1822.7V1616.9M1431 1822.7V1616.9M1452.5 1822.7V1616.9M1474.1 1822.7V1616.9M1133.9 1806H1495.6M1133.9 1785H1495.6M1133.9 1764H1495.6M1133.9 1743H1495.6M1133.9 1722H1495.6M1133.9 1700.9H1495.6M1133.9 1679.9H1495.6M1133.9 1658.9H1495.6M1133.9 1637.9H1495.6" fill="none" stroke="#9a9a9a" stroke-width="1.5" stroke-dasharray="1.5 7.1" opacity="0.6"/>
<rect x="1129.6" y="1616.9" width="366" height="210.1" fill="none" stroke="#303030" stroke-width="1.3"/>
<path d="M1151.1 1827v-4.2M1151.1 1616.9v4.2M1237.2 1827v-4.2M1237.2 1616.9v4.2M1323.4 1827v-4.2M1323.4 1616.9v4.2M1409.5 1827v-4.2M1409.5 1616.9v4.2M1495.6 1827v-4.2M1495.6 1616.9v4.2M1129.6 1827h4.2M1495.6 1827h-4.2M1129.6 1722h4.2M1495.6 1722h-4.2M1129.6 1616.9h4.2M1495.6 1616.9h-4.2" fill="none" stroke="#303030" stroke-width="1.4"/>
<g font-size="32.8" fill="#000">
<text x="1149.4" y="1870.6" text-anchor="middle">2020</text>
<text x="1235.5" y="1870.6" text-anchor="middle">2040</text>
<text x="1321.7" y="1870.6" text-anchor="middle">2060</text>
<text x="1407.8" y="1870.6" text-anchor="middle">2080</text>
<text x="1493.9" y="1870.6" text-anchor="middle">2100</text>
<text x="1116" y="1839.5" text-anchor="end">0</text>
<text x="1116" y="1734.5" text-anchor="end">50</text>
<text x="1116" y="1629.4" text-anchor="end">100</text>
</g>
<text x="1312.6" y="1604.7" text-anchor="middle" font-weight="bold" font-size="35.35" clip-path="url(#tclip)">R19 Antarctic &amp; subantarctic</text>
<path d="M1203.6 1709.2H1275.4V1826.4H1203.6" fill="none" stroke="#000" stroke-width="3.4" stroke-dasharray="11.6 4.6"/>
<path d="M1203.6 1826.4V1709.2H1130.1V1826.4H1205.3" fill="none" stroke="#000" stroke-width="3.4" stroke-linejoin="miter"/>
<g font-size="28.1">
<text x="1134.7" y="1743.8" fill="#0a1f5c">-14%</text>
<text x="1207.4" y="1743.8" fill="#0a1f5c">-18%</text>
<text x="1134.7" y="1777.1" fill="#fb8208">-17%</text>
<text x="1207.4" y="1777.1" fill="#fb8208">-21%</text>
<text x="1134.7" y="1810.4" fill="#8e0000">-33%</text>
<text x="1207.4" y="1810.4" fill="#8e0000">-39%</text>
</g>
<path d="M1129.6 1616.9 L1133.9 1617.1 L1138.2 1617.3 L1142.5 1617.6 L1146.8 1617.9 L1151.1 1618.1 L1155.4 1618.3 L1159.7 1618.5 L1164 1618.7 L1168.4 1619.1 L1172.7 1619.2 L1177 1619.3 L1181.3 1619.3 L1185.6 1619.4 L1189.9 1619.5 L1194.2 1619.8 L1198.5 1620.4 L1202.8 1620.7 L1207.1 1621.1 L1211.4 1621.5 L1215.7 1621.7 L1220 1621.8 L1224.3 1622.4 L1228.6 1622.9 L1232.9 1623.4 L1237.2 1623.7 L1241.6 1624.1 L1245.9 1624.4 L1250.2 1624.9 L1254.5 1625.6 L1258.8 1626 L1263.1 1626.5 L1267.4 1627.1 L1271.7 1627.4 L1276 1628.1 L1280.3 1628.6 L1284.6 1629.1 L1288.9 1629.5 L1293.2 1630.1 L1297.5 1630.5 L1301.8 1630.8 L1306.1 1631.2 L1310.4 1631.6 L1314.8 1632 L1319.1 1632.3 L1323.4 1632.7 L1327.7 1633 L1332 1633.5 L1336.3 1633.9 L1340.6 1634.3 L1344.9 1634.5 L1349.2 1635 L1353.5 1635.2 L1357.8 1635.4 L1362.1 1635.8 L1366.4 1636.2 L1370.7 1636.7 L1375 1637.1 L1379.3 1637.6 L1383.6 1637.7 L1388 1638.1 L1392.3 1638.3 L1396.6 1638.4 L1400.9 1638.6 L1405.2 1639 L1409.5 1639.2 L1413.8 1639.3 L1418.1 1639.5 L1422.4 1639.8 L1426.7 1640.2 L1431 1640.5 L1435.3 1640.8 L1439.6 1641.2 L1443.9 1641.7 L1448.2 1642.2 L1452.5 1642.6 L1456.8 1642.9 L1461.2 1643.2 L1465.5 1643.6 L1469.8 1644 L1474.1 1644.2 L1478.4 1644.7 L1482.7 1645 L1487 1645.3 L1491.3 1645.8 L1495.6 1646.3" fill="none" stroke="#0c2d64" stroke-width="6.2" stroke-linejoin="round"/>
<path d="M1129.6 1616.9 L1133.9 1617.2 L1138.2 1617.5 L1142.5 1617.9 L1146.8 1618.4 L1151.1 1618.6 L1155.4 1619 L1159.7 1619.3 L1164 1619.6 L1168.4 1620.1 L1172.7 1620.4 L1177 1620.6 L1181.3 1620.7 L1185.6 1621 L1189.9 1621.2 L1194.2 1621.5 L1198.5 1622.1 L1202.8 1622.6 L1207.1 1623 L1211.4 1623.6 L1215.7 1623.9 L1220 1624.2 L1224.3 1625 L1228.6 1625.7 L1232.9 1626.1 L1237.2 1626.7 L1241.6 1627.1 L1245.9 1627.7 L1250.2 1628.2 L1254.5 1628.9 L1258.8 1629.5 L1263.1 1629.9 L1267.4 1630.6 L1271.7 1631 L1276 1631.8 L1280.3 1632.3 L1284.6 1633.1 L1288.9 1633.5 L1293.2 1634.3 L1297.5 1635 L1301.8 1635.5 L1306.1 1635.8 L1310.4 1636.3 L1314.8 1636.8 L1319.1 1637.3 L1323.4 1637.9 L1327.7 1638.2 L1332 1638.7 L1336.3 1639.3 L1340.6 1639.8 L1344.9 1640.3 L1349.2 1640.9 L1353.5 1641.2 L1357.8 1641.5 L1362.1 1641.9 L1366.4 1642.5 L1370.7 1643.1 L1375 1643.6 L1379.3 1644.2 L1383.6 1644.5 L1388 1644.9 L1392.3 1645.3 L1396.6 1645.5 L1400.9 1645.8 L1405.2 1646.3 L1409.5 1646.6 L1413.8 1647 L1418.1 1647.2 L1422.4 1647.7 L1426.7 1648.1 L1431 1648.4 L1435.3 1648.9 L1439.6 1649.4 L1443.9 1650.1 L1448.2 1650.7 L1452.5 1651.2 L1456.8 1651.4 L1461.2 1651.6 L1465.5 1652.1 L1469.8 1652.4 L1474.1 1652.5 L1478.4 1653 L1482.7 1653.2 L1487 1653.6 L1491.3 1654.1 L1495.6 1654.7" fill="none" stroke="#0c2d64" stroke-width="6.6" stroke-dasharray="25.5 23.5" stroke-linejoin="round"/>
<path d="M1129.6 1616.9 L1133.9 1617.1 L1138.2 1617.3 L1142.5 1617.4 L1146.8 1617.7 L1151.1 1617.9 L1155.4 1618.3 L1159.7 1618.2 L1164 1618.4 L1168.4 1618.5 L1172.7 1618.8 L1177 1619 L1181.3 1619.3 L1185.6 1619.5 L1189.9 1619.5 L1194.2 1619.9 L1198.5 1620.3 L1202.8 1620.5 L1207.1 1621 L1211.4 1621.2 L1215.7 1621.6 L1220 1622 L1224.3 1622.5 L1228.6 1623 L1232.9 1623.3 L1237.2 1623.7 L1241.6 1624.2 L1245.9 1624.6 L1250.2 1625 L1254.5 1625.7 L1258.8 1626.1 L1263.1 1626.8 L1267.4 1627.2 L1271.7 1627.6 L1276 1628 L1280.3 1628.7 L1284.6 1629.3 L1288.9 1630 L1293.2 1630.5 L1297.5 1631.1 L1301.8 1631.6 L1306.1 1632.1 L1310.4 1632.4 L1314.8 1632.8 L1319.1 1633.2 L1323.4 1633.7 L1327.7 1634.3 L1332 1634.8 L1336.3 1635 L1340.6 1635.4 L1344.9 1635.8 L1349.2 1636.2 L1353.5 1636.5 L1357.8 1636.9 L1362.1 1637.2 L1366.4 1637.7 L1370.7 1638.2 L1375 1638.6 L1379.3 1639 L1383.6 1639.3 L1388 1639.6 L1392.3 1639.9 L1396.6 1640.2 L1400.9 1640.4 L1405.2 1640.9 L1409.5 1641.3 L1413.8 1641.9 L1418.1 1642.2 L1422.4 1642.4 L1426.7 1642.6 L1431 1643 L1435.3 1643.4 L1439.6 1643.7 L1443.9 1644.1 L1448.2 1644.7 L1452.5 1645 L1456.8 1645.8 L1461.2 1646.5 L1465.5 1647.2 L1469.8 1648.1 L1474.1 1648.7 L1478.4 1649.4 L1482.7 1650.4 L1487 1651.1 L1491.3 1651.8 L1495.6 1652.6" fill="none" stroke="#f7941d" stroke-width="6.2" stroke-linejoin="round"/>
<path d="M1129.6 1616.9 L1133.9 1617.2 L1138.2 1617.5 L1142.5 1617.7 L1146.8 1618.2 L1151.1 1618.5 L1155.4 1619 L1159.7 1619 L1164 1619.4 L1168.4 1619.5 L1172.7 1620 L1177 1620.2 L1181.3 1620.8 L1185.6 1621 L1189.9 1621.2 L1194.2 1621.7 L1198.5 1622.2 L1202.8 1622.5 L1207.1 1623 L1211.4 1623.3 L1215.7 1623.8 L1220 1624.5 L1224.3 1625.1 L1228.6 1625.8 L1232.9 1626.3 L1237.2 1626.7 L1241.6 1627.2 L1245.9 1627.7 L1250.2 1628.2 L1254.5 1628.9 L1258.8 1629.3 L1263.1 1630.1 L1267.4 1630.7 L1271.7 1631.4 L1276 1631.7 L1280.3 1632.6 L1284.6 1633.3 L1288.9 1634.1 L1293.2 1634.8 L1297.5 1635.6 L1301.8 1636.3 L1306.1 1636.9 L1310.4 1637.3 L1314.8 1637.9 L1319.1 1638.3 L1323.4 1638.9 L1327.7 1639.6 L1332 1640.2 L1336.3 1640.3 L1340.6 1640.9 L1344.9 1641.5 L1349.2 1642.1 L1353.5 1642.5 L1357.8 1643 L1362.1 1643.3 L1366.4 1644.1 L1370.7 1644.7 L1375 1645.2 L1379.3 1645.8 L1383.6 1646.1 L1388 1646.5 L1392.3 1646.8 L1396.6 1647.3 L1400.9 1647.6 L1405.2 1648.3 L1409.5 1648.7 L1413.8 1649.3 L1418.1 1649.8 L1422.4 1650.1 L1426.7 1650.4 L1431 1650.8 L1435.3 1651.4 L1439.6 1652 L1443.9 1652.4 L1448.2 1652.9 L1452.5 1653.4 L1456.8 1654.1 L1461.2 1654.8 L1465.5 1655.5 L1469.8 1656.5 L1474.1 1657.1 L1478.4 1657.7 L1482.7 1658.7 L1487 1659.6 L1491.3 1660.2 L1495.6 1661" fill="none" stroke="#f7941d" stroke-width="6.6" stroke-dasharray="25.5 23.5" stroke-linejoin="round"/>
<path d="M1129.6 1616.9 L1133.9 1617.1 L1138.2 1617.3 L1142.5 1617.7 L1146.8 1618 L1151.1 1618.1 L1155.4 1618.3 L1159.7 1618.3 L1164 1618.5 L1168.4 1618.8 L1172.7 1619.2 L1177 1619.3 L1181.3 1619.4 L1185.6 1619.9 L1189.9 1620.3 L1194.2 1620.5 L1198.5 1620.9 L1202.8 1621.3 L1207.1 1621.6 L1211.4 1622.1 L1215.7 1622.8 L1220 1623.1 L1224.3 1623.7 L1228.6 1624.4 L1232.9 1624.9 L1237.2 1625.5 L1241.6 1626.1 L1245.9 1626.5 L1250.2 1627.1 L1254.5 1627.8 L1258.8 1628.4 L1263.1 1629 L1267.4 1629.7 L1271.7 1630.3 L1276 1630.9 L1280.3 1631.4 L1284.6 1632.1 L1288.9 1632.8 L1293.2 1633.6 L1297.5 1634.2 L1301.8 1635 L1306.1 1635.8 L1310.4 1636.6 L1314.8 1637.5 L1319.1 1638.2 L1323.4 1639.2 L1327.7 1640.4 L1332 1641.3 L1336.3 1642.3 L1340.6 1643.1 L1344.9 1643.9 L1349.2 1644.8 L1353.5 1645.8 L1357.8 1647 L1362.1 1648 L1366.4 1648.9 L1370.7 1650.2 L1375 1651.6 L1379.3 1652.5 L1383.6 1653.8 L1388 1654.9 L1392.3 1656.1 L1396.6 1657.4 L1400.9 1658.4 L1405.2 1659.5 L1409.5 1660.6 L1413.8 1661.7 L1418.1 1662.6 L1422.4 1663.7 L1426.7 1664.6 L1431 1665.5 L1435.3 1666.6 L1439.6 1667.5 L1443.9 1668.5 L1448.2 1669.4 L1452.5 1670.6 L1456.8 1671.9 L1461.2 1673.7 L1465.5 1675.1 L1469.8 1676.6 L1474.1 1678.2 L1478.4 1679.9 L1482.7 1681.6 L1487 1683 L1491.3 1684.7 L1495.6 1686.2" fill="none" stroke="#960000" stroke-width="6.2" stroke-linejoin="round"/>
<path d="M1129.6 1616.9 L1133.9 1617.3 L1138.2 1617.7 L1142.5 1618.2 L1146.8 1618.7 L1151.1 1619 L1155.4 1619.4 L1159.7 1619.5 L1164 1619.9 L1168.4 1620.3 L1172.7 1620.9 L1177 1621.1 L1181.3 1621.4 L1185.6 1622.1 L1189.9 1622.8 L1194.2 1623.2 L1198.5 1623.8 L1202.8 1624.2 L1207.1 1624.6 L1211.4 1625.5 L1215.7 1626.3 L1220 1627 L1224.3 1627.5 L1228.6 1628.2 L1232.9 1628.9 L1237.2 1629.9 L1241.6 1630.7 L1245.9 1631.1 L1250.2 1631.9 L1254.5 1632.9 L1258.8 1633.5 L1263.1 1634.5 L1267.4 1635.3 L1271.7 1636.1 L1276 1636.7 L1280.3 1637.5 L1284.6 1638.4 L1288.9 1639.2 L1293.2 1640.1 L1297.5 1640.9 L1301.8 1641.9 L1306.1 1642.9 L1310.4 1643.9 L1314.8 1644.9 L1319.1 1645.8 L1323.4 1646.9 L1327.7 1648.2 L1332 1649.2 L1336.3 1650.5 L1340.6 1651.4 L1344.9 1652.3 L1349.2 1653.4 L1353.5 1654.6 L1357.8 1656 L1362.1 1657.1 L1366.4 1658.4 L1370.7 1659.6 L1375 1661.2 L1379.3 1662.3 L1383.6 1663.7 L1388 1665.2 L1392.3 1666.6 L1396.6 1668.2 L1400.9 1669.3 L1405.2 1670.5 L1409.5 1671.7 L1413.8 1672.9 L1418.1 1674.1 L1422.4 1675.3 L1426.7 1676.3 L1431 1677.6 L1435.3 1678.7 L1439.6 1679.9 L1443.9 1680.9 L1448.2 1681.8 L1452.5 1683 L1456.8 1684.2 L1461.2 1686.1 L1465.5 1687.5 L1469.8 1688.9 L1474.1 1690.5 L1478.4 1692.3 L1482.7 1694.1 L1487 1695.6 L1491.3 1697.4 L1495.6 1698.8" fill="none" stroke="#960000" stroke-width="6.6" stroke-dasharray="25.5 23.5" stroke-linejoin="round"/>
<text x="1312.9" y="1914" text-anchor="middle" font-size="37.5">Year</text>
</g>
<g>
<path d="M1653.2 1822.7V1616.9M1674.8 1822.7V1616.9M1696.3 1822.7V1616.9M1717.8 1822.7V1616.9M1739.3 1822.7V1616.9M1760.9 1822.7V1616.9M1782.4 1822.7V1616.9M1803.9 1822.7V1616.9M1825.5 1822.7V1616.9M1847 1822.7V1616.9M1868.5 1822.7V1616.9M1890.1 1822.7V1616.9M1911.6 1822.7V1616.9M1933.1 1822.7V1616.9M1954.6 1822.7V1616.9M1976.2 1822.7V1616.9M1636 1806H1997.7M1636 1785H1997.7M1636 1764H1997.7M1636 1743H1997.7M1636 1722H1997.7M1636 1700.9H1997.7M1636 1679.9H1997.7M1636 1658.9H1997.7M1636 1637.9H1997.7" fill="none" stroke="#9a9a9a" stroke-width="1.5" stroke-dasharray="1.5 7.1" opacity="0.6"/>
<rect x="1631.7" y="1616.9" width="366" height="210.1" fill="none" stroke="#303030" stroke-width="1.3"/>
<path d="M1653.2 1827v-4.2M1653.2 1616.9v4.2M1739.3 1827v-4.2M1739.3 1616.9v4.2M1825.5 1827v-4.2M1825.5 1616.9v4.2M1911.6 1827v-4.2M1911.6 1616.9v4.2M1997.7 1827v-4.2M1997.7 1616.9v4.2M1631.7 1827h4.2M1997.7 1827h-4.2M1631.7 1722h4.2M1997.7 1722h-4.2M1631.7 1616.9h4.2M1997.7 1616.9h-4.2" fill="none" stroke="#303030" stroke-width="1.4"/>
<g font-size="32.8" fill="#000">
<text x="1651.5" y="1870.6" text-anchor="middle">2020</text>
<text x="1737.6" y="1870.6" text-anchor="middle">2040</text>
<text x="1823.8" y="1870.6" text-anchor="middle">2060</text>
<text x="1909.9" y="1870.6" text-anchor="middle">2080</text>
<text x="1996" y="1870.6" text-anchor="middle">2100</text>
<text x="1618.1" y="1839.5" text-anchor="end">0</text>
<text x="1618.1" y="1734.5" text-anchor="end">50</text>
<text x="1618.1" y="1629.4" text-anchor="end">100</text>
</g>
<text x="1814.2" y="1601.4" text-anchor="middle" font-weight="bold" font-size="42.8">Global</text>
<path d="M1705.7 1709.2H1777.5V1826.4H1705.7" fill="none" stroke="#000" stroke-width="3.4" stroke-dasharray="11.6 4.6"/>
<path d="M1705.7 1826.4V1709.2H1632.2V1826.4H1707.4" fill="none" stroke="#000" stroke-width="3.4" stroke-linejoin="miter"/>
<g font-size="28.1">
<text x="1636.8" y="1743.8" fill="#0a1f5c">-25%</text>
<text x="1709.5" y="1743.8" fill="#0a1f5c">-28%</text>
<text x="1636.8" y="1777.1" fill="#fb8208">-31%</text>
<text x="1709.5" y="1777.1" fill="#fb8208">-34%</text>
<text x="1636.8" y="1810.4" fill="#8e0000">-46%</text>
<text x="1709.5" y="1810.4" fill="#8e0000">-49%</text>
</g>
<path d="M1631.7 1616.9 L1636 1617.5 L1640.3 1618.2 L1644.6 1618.7 L1648.9 1619.5 L1653.2 1619.8 L1657.5 1620.5 L1661.8 1621.1 L1666.1 1621.6 L1670.5 1622.3 L1674.8 1622.9 L1679.1 1623.5 L1683.4 1624.1 L1687.7 1624.7 L1692 1625.3 L1696.3 1626 L1700.6 1626.6 L1704.9 1627.5 L1709.2 1628 L1713.5 1628.8 L1717.8 1629.5 L1722.1 1630.1 L1726.4 1630.8 L1730.7 1631.5 L1735 1632.2 L1739.3 1633 L1743.7 1633.7 L1748 1634.6 L1752.3 1635.3 L1756.6 1636.1 L1760.9 1636.9 L1765.2 1637.7 L1769.5 1638.5 L1773.8 1639.4 L1778.1 1640 L1782.4 1640.9 L1786.7 1641.6 L1791 1642.1 L1795.3 1642.7 L1799.6 1643.3 L1803.9 1643.9 L1808.2 1644.6 L1812.5 1645.2 L1816.9 1646 L1821.2 1646.6 L1825.5 1647.2 L1829.8 1648 L1834.1 1648.5 L1838.4 1649.1 L1842.7 1649.9 L1847 1650.7 L1851.3 1651.4 L1855.6 1652.1 L1859.9 1652.7 L1864.2 1653.4 L1868.5 1654 L1872.8 1654.6 L1877.1 1655.2 L1881.4 1655.9 L1885.7 1656.3 L1890.1 1656.8 L1894.4 1657.4 L1898.7 1657.9 L1903 1658.6 L1907.3 1659 L1911.6 1659.4 L1915.9 1660 L1920.2 1660.5 L1924.5 1661 L1928.8 1661.4 L1933.1 1661.9 L1937.4 1662.4 L1941.7 1663.1 L1946 1663.4 L1950.3 1664 L1954.6 1664.6 L1958.9 1665.1 L1963.3 1665.7 L1967.6 1666.1 L1971.9 1666.6 L1976.2 1667.1 L1980.5 1667.7 L1984.8 1668.2 L1989.1 1668.8 L1993.4 1669.2 L1997.7 1669.4" fill="none" stroke="#0c2d64" stroke-width="6.2" stroke-linejoin="round"/>
<path d="M1631.7 1616.9 L1636 1617.6 L1640.3 1618.3 L1644.6 1619 L1648.9 1619.8 L1653.2 1620.2 L1657.5 1621 L1661.8 1621.7 L1666.1 1622.3 L1670.5 1623.1 L1674.8 1623.8 L1679.1 1624.5 L1683.4 1625.1 L1687.7 1625.8 L1692 1626.5 L1696.3 1627.3 L1700.6 1628.1 L1704.9 1629 L1709.2 1629.6 L1713.5 1630.5 L1717.8 1631.2 L1722.1 1632 L1726.4 1632.8 L1730.7 1633.6 L1735 1634.3 L1739.3 1635.3 L1743.7 1636.1 L1748 1637.1 L1752.3 1638 L1756.6 1638.8 L1760.9 1639.8 L1765.2 1640.6 L1769.5 1641.4 L1773.8 1642.3 L1778.1 1643 L1782.4 1644.1 L1786.7 1644.8 L1791 1645.4 L1795.3 1646 L1799.6 1646.8 L1803.9 1647.5 L1808.2 1648.2 L1812.5 1648.8 L1816.9 1649.8 L1821.2 1650.5 L1825.5 1651.2 L1829.8 1652.1 L1834.1 1652.8 L1838.4 1653.4 L1842.7 1654.2 L1847 1655.1 L1851.3 1656 L1855.6 1656.7 L1859.9 1657.4 L1864.2 1658.2 L1868.5 1659 L1872.8 1659.8 L1877.1 1660.5 L1881.4 1661.3 L1885.7 1661.7 L1890.1 1662.3 L1894.4 1663 L1898.7 1663.6 L1903 1664.3 L1907.3 1664.7 L1911.6 1665 L1915.9 1665.8 L1920.2 1666.4 L1924.5 1667 L1928.8 1667.5 L1933.1 1668.2 L1937.4 1668.7 L1941.7 1669.3 L1946 1669.6 L1950.3 1670.2 L1954.6 1670.7 L1958.9 1671.3 L1963.3 1671.9 L1967.6 1672.3 L1971.9 1672.8 L1976.2 1673.2 L1980.5 1673.8 L1984.8 1674.4 L1989.1 1675.1 L1993.4 1675.5 L1997.7 1675.7" fill="none" stroke="#0c2d64" stroke-width="6.6" stroke-dasharray="25.5 23.5" stroke-linejoin="round"/>
<path d="M1631.7 1616.9 L1636 1617.6 L1640.3 1618.2 L1644.6 1618.9 L1648.9 1619.5 L1653.2 1620 L1657.5 1620.7 L1661.8 1621.2 L1666.1 1621.8 L1670.5 1622.4 L1674.8 1623 L1679.1 1623.7 L1683.4 1624.2 L1687.7 1624.7 L1692 1625.2 L1696.3 1625.9 L1700.6 1626.7 L1704.9 1627.3 L1709.2 1627.8 L1713.5 1628.7 L1717.8 1629.5 L1722.1 1630.1 L1726.4 1630.9 L1730.7 1631.5 L1735 1632.3 L1739.3 1633.1 L1743.7 1633.9 L1748 1634.6 L1752.3 1635.5 L1756.6 1636.2 L1760.9 1637.1 L1765.2 1638 L1769.5 1638.8 L1773.8 1639.8 L1778.1 1640.7 L1782.4 1641.5 L1786.7 1642.1 L1791 1643.1 L1795.3 1643.8 L1799.6 1644.6 L1803.9 1645.3 L1808.2 1646.1 L1812.5 1646.7 L1816.9 1647.4 L1821.2 1648.2 L1825.5 1649.1 L1829.8 1649.8 L1834.1 1650.7 L1838.4 1651.6 L1842.7 1652.5 L1847 1653.5 L1851.3 1654.3 L1855.6 1655.1 L1859.9 1655.9 L1864.2 1656.8 L1868.5 1657.6 L1872.8 1658.6 L1877.1 1659.4 L1881.4 1660.1 L1885.7 1660.9 L1890.1 1661.7 L1894.4 1662.5 L1898.7 1663.3 L1903 1664.1 L1907.3 1664.9 L1911.6 1665.9 L1915.9 1666.6 L1920.2 1667.4 L1924.5 1668.2 L1928.8 1668.8 L1933.1 1669.8 L1937.4 1670.6 L1941.7 1671.2 L1946 1672.1 L1950.3 1673 L1954.6 1673.9 L1958.9 1674.7 L1963.3 1675.4 L1967.6 1676.1 L1971.9 1676.9 L1976.2 1677.6 L1980.5 1678.5 L1984.8 1679.3 L1989.1 1680.2 L1993.4 1681.3 L1997.7 1682" fill="none" stroke="#f7941d" stroke-width="6.2" stroke-linejoin="round"/>
<path d="M1631.7 1616.9 L1636 1617.6 L1640.3 1618.4 L1644.6 1619.2 L1648.9 1619.9 L1653.2 1620.5 L1657.5 1621.2 L1661.8 1621.9 L1666.1 1622.5 L1670.5 1623.2 L1674.8 1623.9 L1679.1 1624.7 L1683.4 1625.2 L1687.7 1625.7 L1692 1626.4 L1696.3 1627.3 L1700.6 1628.1 L1704.9 1628.8 L1709.2 1629.5 L1713.5 1630.5 L1717.8 1631.3 L1722.1 1632 L1726.4 1632.8 L1730.7 1633.6 L1735 1634.5 L1739.3 1635.2 L1743.7 1636.2 L1748 1637 L1752.3 1638 L1756.6 1638.9 L1760.9 1639.8 L1765.2 1640.8 L1769.5 1641.8 L1773.8 1642.8 L1778.1 1643.7 L1782.4 1644.7 L1786.7 1645.3 L1791 1646.3 L1795.3 1647.1 L1799.6 1648.1 L1803.9 1649 L1808.2 1649.9 L1812.5 1650.5 L1816.9 1651.4 L1821.2 1652.3 L1825.5 1653.2 L1829.8 1653.9 L1834.1 1655 L1838.4 1656 L1842.7 1656.9 L1847 1658 L1851.3 1658.8 L1855.6 1659.7 L1859.9 1660.5 L1864.2 1661.7 L1868.5 1662.6 L1872.8 1663.5 L1877.1 1664.5 L1881.4 1665.2 L1885.7 1666.1 L1890.1 1667 L1894.4 1668 L1898.7 1668.9 L1903 1669.8 L1907.3 1670.6 L1911.6 1671.7 L1915.9 1672.6 L1920.2 1673.5 L1924.5 1674.4 L1928.8 1675.1 L1933.1 1676.3 L1937.4 1677.1 L1941.7 1677.7 L1946 1678.5 L1950.3 1679.5 L1954.6 1680.2 L1958.9 1681.1 L1963.3 1681.9 L1967.6 1682.6 L1971.9 1683.2 L1976.2 1684 L1980.5 1684.8 L1984.8 1685.7 L1989.1 1686.6 L1993.4 1687.6 L1997.7 1688.3" fill="none" stroke="#f7941d" stroke-width="6.6" stroke-dasharray="25.5 23.5" stroke-linejoin="round"/>
<path d="M1631.7 1616.9 L1636 1617.6 L1640.3 1618.2 L1644.6 1618.9 L1648.9 1619.6 L1653.2 1620.1 L1657.5 1620.8 L1661.8 1621.3 L1666.1 1621.9 L1670.5 1622.5 L1674.8 1623.1 L1679.1 1623.8 L1683.4 1624.3 L1687.7 1625 L1692 1625.4 L1696.3 1626.2 L1700.6 1626.8 L1704.9 1627.3 L1709.2 1628.1 L1713.5 1628.7 L1717.8 1629.5 L1722.1 1630.2 L1726.4 1630.9 L1730.7 1631.7 L1735 1632.5 L1739.3 1633.2 L1743.7 1634.2 L1748 1635.2 L1752.3 1636.1 L1756.6 1636.9 L1760.9 1637.9 L1765.2 1639.1 L1769.5 1640.2 L1773.8 1641.3 L1778.1 1642.3 L1782.4 1643.5 L1786.7 1644.6 L1791 1645.7 L1795.3 1646.9 L1799.6 1648 L1803.9 1649.1 L1808.2 1650.2 L1812.5 1651.6 L1816.9 1652.8 L1821.2 1654.2 L1825.5 1655.6 L1829.8 1656.9 L1834.1 1658 L1838.4 1659.3 L1842.7 1660.7 L1847 1661.9 L1851.3 1663.4 L1855.6 1664.6 L1859.9 1665.9 L1864.2 1667.2 L1868.5 1668.7 L1872.8 1669.8 L1877.1 1671.2 L1881.4 1672.6 L1885.7 1674 L1890.1 1675.3 L1894.4 1676.6 L1898.7 1678 L1903 1679.1 L1907.3 1680.4 L1911.6 1681.9 L1915.9 1683.6 L1920.2 1685.1 L1924.5 1686.7 L1928.8 1688.2 L1933.1 1689.9 L1937.4 1691.4 L1941.7 1692.9 L1946 1694.6 L1950.3 1696.3 L1954.6 1697.9 L1958.9 1699.4 L1963.3 1701.2 L1967.6 1702.5 L1971.9 1704.1 L1976.2 1705.8 L1980.5 1707.4 L1984.8 1709 L1989.1 1710.4 L1993.4 1712 L1997.7 1713.5" fill="none" stroke="#960000" stroke-width="6.2" stroke-linejoin="round"/>
<path d="M1631.7 1616.9 L1636 1617.6 L1640.3 1618.4 L1644.6 1619.2 L1648.9 1619.9 L1653.2 1620.6 L1657.5 1621.4 L1661.8 1622 L1666.1 1622.6 L1670.5 1623.3 L1674.8 1624 L1679.1 1624.8 L1683.4 1625.4 L1687.7 1626.2 L1692 1626.8 L1696.3 1627.6 L1700.6 1628.3 L1704.9 1628.9 L1709.2 1629.7 L1713.5 1630.4 L1717.8 1631.4 L1722.1 1632.2 L1726.4 1633.1 L1730.7 1633.9 L1735 1634.9 L1739.3 1635.7 L1743.7 1636.9 L1748 1637.8 L1752.3 1638.7 L1756.6 1639.7 L1760.9 1640.8 L1765.2 1642 L1769.5 1643.1 L1773.8 1644.4 L1778.1 1645.5 L1782.4 1646.8 L1786.7 1648 L1791 1649.2 L1795.3 1650.5 L1799.6 1651.6 L1803.9 1652.7 L1808.2 1654.1 L1812.5 1655.5 L1816.9 1656.8 L1821.2 1658.4 L1825.5 1659.8 L1829.8 1661.3 L1834.1 1662.5 L1838.4 1663.9 L1842.7 1665.2 L1847 1666.6 L1851.3 1668.2 L1855.6 1669.6 L1859.9 1670.8 L1864.2 1672.2 L1868.5 1673.7 L1872.8 1674.9 L1877.1 1676.3 L1881.4 1677.9 L1885.7 1679.3 L1890.1 1680.6 L1894.4 1682.2 L1898.7 1683.7 L1903 1684.8 L1907.3 1686.2 L1911.6 1687.8 L1915.9 1689.5 L1920.2 1691.1 L1924.5 1692.8 L1928.8 1694.4 L1933.1 1696.3 L1937.4 1697.9 L1941.7 1699.4 L1946 1701.2 L1950.3 1702.8 L1954.6 1704.4 L1958.9 1705.8 L1963.3 1707.5 L1967.6 1709 L1971.9 1710.5 L1976.2 1712.2 L1980.5 1713.8 L1984.8 1715.5 L1989.1 1716.9 L1993.4 1718.4 L1997.7 1719.8" fill="none" stroke="#960000" stroke-width="6.6" stroke-dasharray="25.5 23.5" stroke-linejoin="round"/>
<text x="1815" y="1914" text-anchor="middle" font-size="37.5">Year</text>
</g>
<rect x="1557.3" y="1557.8" width="480.9" height="369.8" fill="none" stroke="#000" stroke-width="3.1"/>
<g>
<rect x="720" y="19.2" width="1309.3" height="58.8" fill="#fff" stroke="#262626" stroke-width="1.2"/>
<path d="M728.8 48.7H793.2" stroke="#0c2d64" stroke-width="6.5"/>
<path d="M941.5 48.7H1005.7" stroke="#f7941d" stroke-width="6.5"/>
<path d="M1154.2 48.7H1218.4" stroke="#960000" stroke-width="6.5"/>
<path d="M1367.3 48.7H1430.4" stroke="#000" stroke-width="6.5"/>
<path d="M1715.6 48.7H1741.2M1767.1 48.7H1778.8" stroke="#000" stroke-width="6.5"/>
<g font-size="29" fill="#000">
<text x="799.4" y="59.9">SSP1-2.6</text>
<text x="1012.2" y="59.9">SSP2-4.5</text>
<text x="1224.6" y="59.9">SSP5-8.5</text>
<text x="1437.4" y="59.9">glac-spec MB calib.</text>
<text x="1785.6" y="59.9">regional MB calib.</text>
</g></g>
</svg>
</body></html>
